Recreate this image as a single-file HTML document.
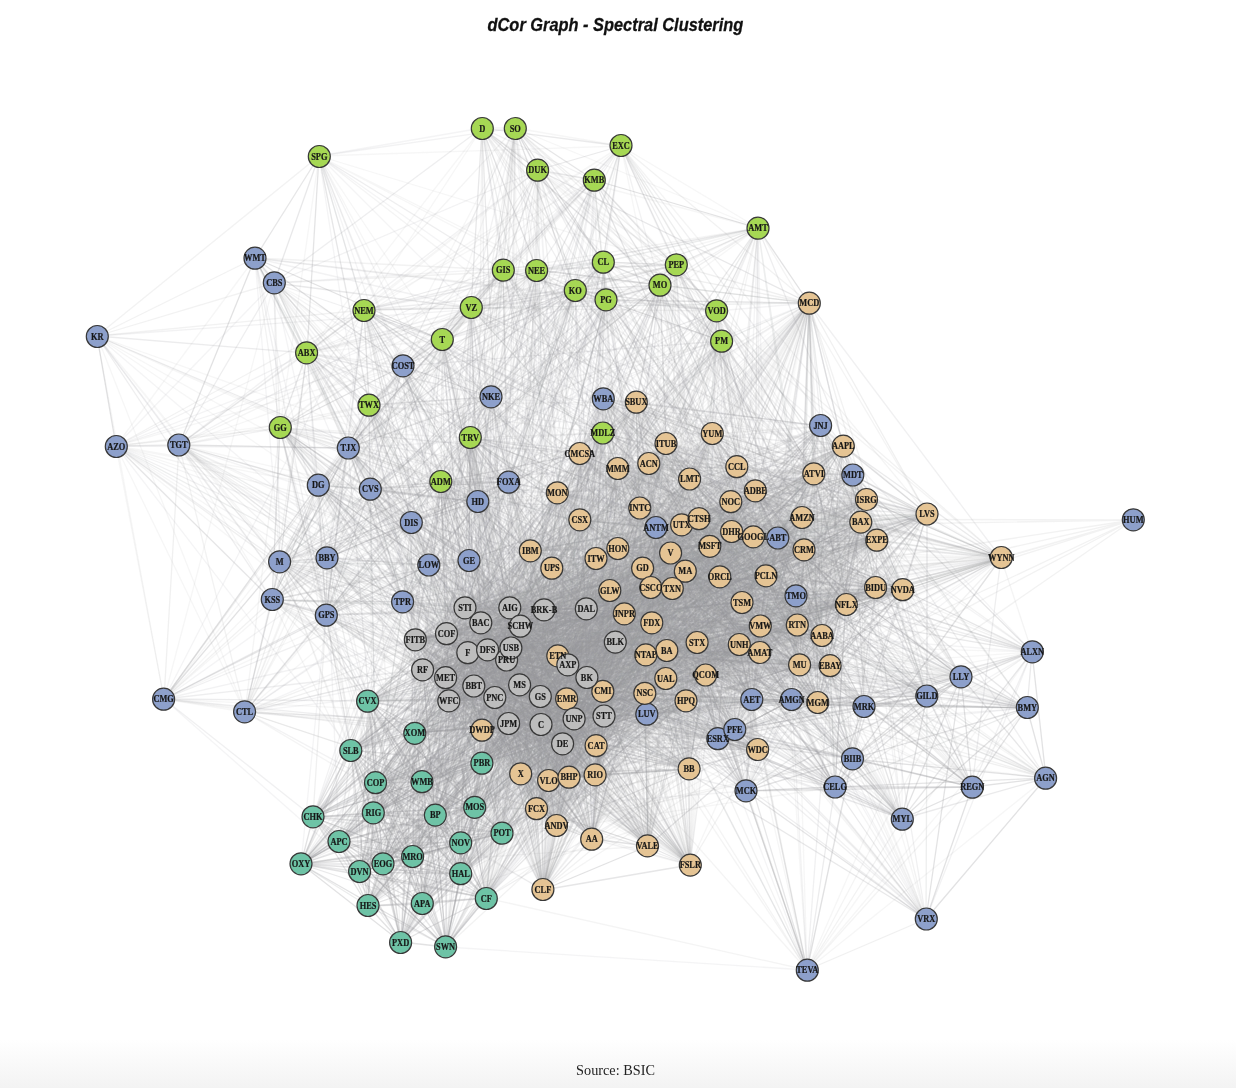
<!DOCTYPE html>
<html><head><meta charset="utf-8"><title>dCor Graph - Spectral Clustering</title>
<style>
html,body{margin:0;padding:0;background:#fff}
body{width:1236px;height:1088px;position:relative;overflow:hidden;background:linear-gradient(to bottom,#fff 0,#fff 1040px,#f3f3f3 1088px)}
h1{position:absolute;left:0;top:13.7px;width:1236px;margin:0;text-align:center;font:italic bold 19px/22px "Liberation Sans",sans-serif;color:#111;-webkit-text-stroke:0.3px #111;transform:translateX(-2.6px) scaleX(0.862)}
.src{position:absolute;left:0;top:1061.9px;width:1236px;text-align:center;font:14.25px/16px "Liberation Serif",serif;color:#222;transform:translateX(-2.5px)}
svg{position:absolute;left:0;top:0}
.e path{fill:none;stroke:#97989b;stroke-width:1.3}
.n circle{stroke:#383838;stroke-width:1.2}
.l text{font:bold 9.3px "Liberation Serif",serif;text-anchor:middle;fill:#161616;stroke:#161616;stroke-width:0.2px}
</style></head><body>
<h1>dCor Graph - Spectral Clustering</h1>
<svg width="1236" height="1088" viewBox="0 0 1236 1088">
<defs><filter id="bl" x="0" y="0" width="1236" height="1088" filterUnits="userSpaceOnUse"><feGaussianBlur stdDeviation="0.45"/></filter></defs>
<g class="e" filter="url(#bl)">
<path d="M809 303L739 644" stroke-opacity="0.04"/>
<path d="M636 402L651 588M636 402L536 809M636 402L690 865M636 402L563 744" stroke-opacity="0.04"/>
<path d="M712 434L866 500M712 434L927 514M712 434L766 576M712 434L697 642M712 434L760 652M712 434L568 665M712 434L474 686" stroke-opacity="0.04"/>
<path d="M666 444L580 454M666 444L530 551M666 444L618 548M666 444L474 686M666 444L495 698M666 444L449 701" stroke-opacity="0.04"/>
<path d="M843 446L682 525M843 446L415 640M843 446L604 716" stroke-opacity="0.04"/>
<path d="M580 454L755 491M580 454L610 590M580 454L666 678" stroke-opacity="0.04"/>
<path d="M649 464L682 525M649 464L710 546M649 464L643 568M649 464L876 588" stroke-opacity="0.04"/>
<path d="M690 479L615 642M690 479L574 719" stroke-opacity="0.04"/>
<path d="M814 474L574 719" stroke-opacity="0.04"/>
<path d="M557 493L685 571M557 493L760 652M557 493L615 642" stroke-opacity="0.04"/>
<path d="M755 491L682 525" stroke-opacity="0.04"/>
<path d="M640 508L465 608M640 508L615 642" stroke-opacity="0.04"/>
<path d="M927 514L567 699M927 514L511 648" stroke-opacity="0.04"/>
<path d="M580 520L465 608M580 520L520 626M580 520L511 648" stroke-opacity="0.04"/>
<path d="M682 525L802 518M682 525L596 558M682 525L742 602" stroke-opacity="0.04"/>
<path d="M699 519L544 610M699 519L449 701M699 519L574 719" stroke-opacity="0.04"/>
<path d="M802 518L720 577M802 518L541 724" stroke-opacity="0.04"/>
<path d="M732 532L846 604M732 532L739 644M732 532L706 675" stroke-opacity="0.04"/>
<path d="M877 540L510 608M877 540L587 678" stroke-opacity="0.04"/>
<path d="M530 551L804 550M530 551L671 553M530 551L544 610M530 551L511 648" stroke-opacity="0.04"/>
<path d="M618 548L652 623M618 548L596 746M618 548L648 846M618 548L474 686M618 548L574 719" stroke-opacity="0.04"/>
<path d="M671 553L686 701M671 553L818 702" stroke-opacity="0.04"/>
<path d="M1001 558L685 571M1001 558L667 650" stroke-opacity="0.04"/>
<path d="M596 558L652 623M596 558L595 775" stroke-opacity="0.04"/>
<path d="M552 568L766 576M552 568L903 590" stroke-opacity="0.04"/>
<path d="M643 568L846 604M643 568L652 623M643 568L646 655" stroke-opacity="0.04"/>
<path d="M685 571L652 623M685 571L423 670" stroke-opacity="0.04"/>
<path d="M720 577L558 656" stroke-opacity="0.04"/>
<path d="M766 576L666 678" stroke-opacity="0.04"/>
<path d="M903 590L540 696" stroke-opacity="0.04"/>
<path d="M651 588L423 670M651 588L563 744" stroke-opacity="0.04"/>
<path d="M672 588L449 701" stroke-opacity="0.04"/>
<path d="M742 602L521 774M742 602L423 670" stroke-opacity="0.04"/>
<path d="M624 614L645 693" stroke-opacity="0.04"/>
<path d="M760 626L507 660" stroke-opacity="0.04"/>
<path d="M797 625L536 809" stroke-opacity="0.04"/>
<path d="M697 642L818 702M697 642L482 730M697 642L446 634M697 642L568 665M697 642L563 744" stroke-opacity="0.04"/>
<path d="M739 644L495 698M739 644L563 744" stroke-opacity="0.04"/>
<path d="M667 650L563 744" stroke-opacity="0.04"/>
<path d="M558 656L423 670" stroke-opacity="0.04"/>
<path d="M646 655L474 686" stroke-opacity="0.04"/>
<path d="M830 666L645 693M830 666L449 701" stroke-opacity="0.04"/>
<path d="M666 678L603 691" stroke-opacity="0.04"/>
<path d="M706 675L541 724" stroke-opacity="0.04"/>
<path d="M645 693L596 746M645 693L569 777M645 693L595 775" stroke-opacity="0.04"/>
<path d="M686 701L543 890M686 701L465 608" stroke-opacity="0.04"/>
<path d="M689 769L648 846M689 769L465 608" stroke-opacity="0.04"/>
<path d="M549 780L474 686" stroke-opacity="0.04"/>
<path d="M690 865L468 653" stroke-opacity="0.04"/>
<path d="M543 890L544 610" stroke-opacity="0.04"/>
<path d="M809 303L666 444M809 303L557 493M809 303L552 568M809 303L624 614M809 303L652 623M809 303L645 693M809 303L510 608M809 303L468 653M809 303L449 701M809 303L509 724" stroke-opacity="0.05"/>
<path d="M636 402L618 468M636 402L690 479M636 402L814 474M636 402L731 502M636 402L877 540M636 402L671 553M636 402L643 568M636 402L903 590M636 402L672 588M636 402L652 623M636 402L558 656M636 402L586 609M636 402L540 696M636 402L541 724" stroke-opacity="0.05"/>
<path d="M712 434L618 468M712 434L814 474M712 434L530 551M712 434L618 548M712 434L624 614M712 434L822 636M712 434L603 691M712 434L536 809M712 434L520 626M712 434L615 642M712 434L604 716" stroke-opacity="0.05"/>
<path d="M666 444L731 502M666 444L596 558M666 444L552 568M666 444L742 602M666 444L760 626M666 444L596 746M666 444L510 608M666 444L520 626M666 444L520 685" stroke-opacity="0.05"/>
<path d="M843 446L737 467M843 446L640 508M843 446L672 588M843 446L481 623M843 446L468 653M843 446L520 685M843 446L540 696M843 446L509 724" stroke-opacity="0.05"/>
<path d="M580 454L737 467M580 454L557 493M580 454L530 551M580 454L552 568M580 454L822 636M580 454L800 665M580 454L569 777M580 454L615 642M580 454L507 660M580 454L449 701" stroke-opacity="0.05"/>
<path d="M649 464L530 551M649 464L739 644M649 464L830 666M649 464L603 691M649 464L567 699M649 464L686 701M649 464L543 890M649 464L423 670" stroke-opacity="0.05"/>
<path d="M618 468L690 479M618 468L927 514M618 468L802 518M618 468L753 537M618 468L567 699M618 468L686 701M618 468L549 780M618 468L586 609M618 468L446 678M618 468L541 724" stroke-opacity="0.05"/>
<path d="M737 467L732 532M737 467L643 568M737 467L846 604M737 467L624 614M737 467L686 701M737 467L543 890M737 467L481 623M737 467L415 640" stroke-opacity="0.05"/>
<path d="M690 479L710 546M690 479L672 588M690 479L624 614M690 479L652 623M690 479L667 650M690 479L558 656M690 479L549 780M690 479L592 839M690 479L543 890M690 479L446 634M690 479L415 640M690 479L468 653M690 479L449 701" stroke-opacity="0.05"/>
<path d="M814 474L802 518M814 474L567 699M814 474L446 678" stroke-opacity="0.05"/>
<path d="M557 493L866 500M557 493L903 590M557 493L672 588M557 493L846 604M557 493L624 614M557 493L739 644M557 493L667 650M557 493L666 678M557 493L567 699M557 493L549 780M557 493L556 826M557 493L446 678M557 493L449 701" stroke-opacity="0.05"/>
<path d="M755 491L603 691M755 491L567 699M755 491L544 610M755 491L474 686M755 491L540 696" stroke-opacity="0.05"/>
<path d="M731 502L624 614M731 502L760 626M731 502L760 652M731 502L645 693M731 502L556 826M731 502L586 609M731 502L415 640M731 502L468 653M731 502L488 650M731 502L568 665" stroke-opacity="0.05"/>
<path d="M866 500L685 571M866 500L667 650M866 500L760 652M866 500L481 623M866 500L415 640M866 500L468 653M866 500L488 650" stroke-opacity="0.05"/>
<path d="M640 508L682 525M640 508L802 518M640 508L876 588M640 508L742 602M640 508L800 665M640 508L567 699M640 508L415 640M640 508L495 698" stroke-opacity="0.05"/>
<path d="M927 514L580 520M927 514L671 553M927 514L507 660M927 514L423 670" stroke-opacity="0.05"/>
<path d="M580 520L903 590M580 520L610 590M580 520L742 602M580 520L624 614M580 520L706 675M580 520L603 691M580 520L686 701M580 520L541 724" stroke-opacity="0.05"/>
<path d="M682 525L530 551M682 525L710 546M682 525L720 577M682 525L651 588M682 525L624 614M682 525L760 626M682 525L822 636M682 525L567 699M682 525L482 730M682 525L465 608M682 525L474 686M682 525L574 719" stroke-opacity="0.05"/>
<path d="M699 519L643 568M699 519L697 642M699 519L567 699M699 519L569 777M699 519L520 626M699 519L446 634M699 519L511 648M699 519L540 696" stroke-opacity="0.05"/>
<path d="M802 518L710 546M802 518L624 614M802 518L758 750M802 518L474 686" stroke-opacity="0.05"/>
<path d="M861 522L530 551M861 522L672 588M861 522L646 655M861 522L567 699M861 522L510 608M861 522L586 609M861 522L604 716" stroke-opacity="0.05"/>
<path d="M732 532L552 568M732 532L610 590M732 532L558 656M732 532L666 678M732 532L446 634M732 532L511 648M732 532L423 670M732 532L520 685M732 532L540 696M732 532L563 744" stroke-opacity="0.05"/>
<path d="M753 537L685 571M753 537L558 656M753 537L686 701M753 537L544 610M753 537L520 626M753 537L468 653M753 537L507 660M753 537L423 670M753 537L520 685M753 537L509 724" stroke-opacity="0.05"/>
<path d="M877 540L685 571M877 540L423 670" stroke-opacity="0.05"/>
<path d="M530 551L766 576M530 551L672 588M530 551L742 602M530 551L697 642M530 551L760 652M530 551L830 666M530 551L818 702M530 551L596 746M530 551L569 777M530 551L592 839M530 551L690 865M530 551L415 640M530 551L568 665" stroke-opacity="0.05"/>
<path d="M618 548L552 568M618 548L720 577M618 548L766 576M618 548L876 588M618 548L624 614M618 548L760 626M618 548L797 625M618 548L667 650M618 548L686 701M618 548L510 608M618 548L520 626M618 548L615 642M618 548L509 724" stroke-opacity="0.05"/>
<path d="M710 546L596 558M710 546L672 588M710 546L830 666M710 546L686 701M710 546L468 653M710 546L488 650M710 546L449 701" stroke-opacity="0.05"/>
<path d="M804 550L552 568M804 550L697 642M804 550L667 650M804 550L686 701M804 550L569 777" stroke-opacity="0.05"/>
<path d="M671 553L685 571M671 553L610 590M671 553L672 588M671 553L697 642M671 553L646 655M671 553L482 730M671 553L543 890" stroke-opacity="0.05"/>
<path d="M1001 558L651 588M1001 558L742 602M1001 558L646 655M1001 558L474 686M1001 558L563 744" stroke-opacity="0.05"/>
<path d="M596 558L903 590M596 558L742 602M596 558L624 614M596 558L645 693M596 558L567 699M596 558L569 777M596 558L586 609M596 558L509 724M596 558L563 744" stroke-opacity="0.05"/>
<path d="M552 568L610 590M552 568L822 636M552 568L697 642M552 568L830 666M552 568L690 865M552 568L544 610M552 568L446 634M552 568L507 660M552 568L423 670" stroke-opacity="0.05"/>
<path d="M643 568L876 588M643 568L903 590M643 568L624 614M643 568L760 626M643 568L666 678M643 568L592 839M643 568L510 608M643 568L520 626M643 568L446 634M643 568L415 640M643 568L520 685M643 568L563 744" stroke-opacity="0.05"/>
<path d="M685 571L720 577M685 571L846 604M685 571L830 666M685 571L569 777M685 571L556 826M685 571L592 839M685 571L690 865M685 571L446 634M685 571L587 678M685 571L540 696M685 571L604 716" stroke-opacity="0.05"/>
<path d="M720 577L651 588M720 577L846 604M720 577L822 636M720 577L686 701M720 577L520 626M720 577L446 634M720 577L541 724M720 577L574 719" stroke-opacity="0.05"/>
<path d="M766 576L651 588M766 576L645 693M766 576L563 744" stroke-opacity="0.05"/>
<path d="M876 588L651 588M876 588L645 693M876 588L586 609M876 588L446 678M876 588L563 744" stroke-opacity="0.05"/>
<path d="M903 590L667 650M903 590L558 656M903 590L468 653M903 590L520 685M903 590L509 724" stroke-opacity="0.05"/>
<path d="M610 590L830 666M610 590L510 608M610 590L615 642M610 590L568 665" stroke-opacity="0.05"/>
<path d="M651 588L760 626M651 588L558 656M651 588L800 665M651 588L536 809M651 588L510 608M651 588L446 634" stroke-opacity="0.05"/>
<path d="M672 588L797 625M672 588L697 642M672 588L667 650M672 588L558 656M672 588L646 655M672 588L830 666M672 588L536 809M672 588L556 826M672 588L510 608M672 588L423 670M672 588L541 724" stroke-opacity="0.05"/>
<path d="M742 602L800 665M742 602L468 653M742 602L449 701" stroke-opacity="0.05"/>
<path d="M846 604L558 656M846 604L423 670M846 604L587 678M846 604L495 698" stroke-opacity="0.05"/>
<path d="M624 614L666 678M624 614L567 699M624 614L595 775M624 614L690 865M624 614L543 890M624 614L544 610M624 614L488 650" stroke-opacity="0.05"/>
<path d="M652 623L697 642M652 623L667 650M652 623L603 691M652 623L567 699M652 623L596 746M652 623L468 653M652 623L423 670M652 623L520 685M652 623L495 698M652 623L540 696M652 623L574 719" stroke-opacity="0.05"/>
<path d="M760 626L481 623M760 626L446 678M760 626L509 724" stroke-opacity="0.05"/>
<path d="M797 625L567 699M797 625L510 608M797 625L520 626M797 625L468 653M797 625L446 678M797 625L449 701M797 625L574 719" stroke-opacity="0.05"/>
<path d="M822 636L666 678M822 636L544 610M822 636L446 678" stroke-opacity="0.05"/>
<path d="M697 642L800 665M697 642L556 826M697 642L690 865M697 642L415 640" stroke-opacity="0.05"/>
<path d="M739 644L558 656M739 644L603 691M739 644L567 699M739 644L596 746M739 644L465 608M739 644L568 665M739 644L587 678M739 644L574 719" stroke-opacity="0.05"/>
<path d="M667 650L646 655M667 650L603 691M667 650L645 693M667 650L567 699M667 650L686 701M667 650L556 826M667 650L465 608M667 650L510 608M667 650L481 623M667 650L415 640M667 650L520 685M667 650L540 696" stroke-opacity="0.05"/>
<path d="M760 652L558 656M760 652L645 693M760 652L465 608" stroke-opacity="0.05"/>
<path d="M558 656L603 691M558 656L567 699M558 656L521 774M558 656L465 608M558 656L544 610M558 656L615 642M558 656L468 653M558 656L563 744" stroke-opacity="0.05"/>
<path d="M646 655L510 608M646 655L615 642M646 655L511 648M646 655L446 678M646 655L520 685" stroke-opacity="0.05"/>
<path d="M800 665L446 678M800 665L574 719" stroke-opacity="0.05"/>
<path d="M830 666L465 608M830 666L488 650" stroke-opacity="0.05"/>
<path d="M666 678L645 693M666 678L818 702M666 678L482 730M666 678L446 678" stroke-opacity="0.05"/>
<path d="M706 675L482 730M706 675L465 608M706 675L481 623M706 675L468 653M706 675L540 696M706 675L449 701M706 675L604 716" stroke-opacity="0.05"/>
<path d="M603 691L521 774M603 691L615 642M603 691L449 701M603 691L574 719" stroke-opacity="0.05"/>
<path d="M645 693L482 730M645 693L521 774M645 693L586 609M645 693L520 626M645 693L415 640M645 693L423 670M645 693L495 698M645 693L604 716" stroke-opacity="0.05"/>
<path d="M567 699L482 730M567 699L595 775M567 699L520 626M567 699L540 696" stroke-opacity="0.05"/>
<path d="M686 701L648 846M686 701L415 640M686 701L446 678M686 701L587 678M686 701L449 701" stroke-opacity="0.05"/>
<path d="M818 702L446 634M818 702L541 724" stroke-opacity="0.05"/>
<path d="M482 730L648 846M482 730L481 623" stroke-opacity="0.05"/>
<path d="M596 746L465 608" stroke-opacity="0.05"/>
<path d="M569 777L481 623" stroke-opacity="0.05"/>
<path d="M595 775L495 698M595 775L449 701" stroke-opacity="0.05"/>
<path d="M556 826L446 634M556 826L568 665" stroke-opacity="0.05"/>
<path d="M592 839L510 608M592 839L520 685" stroke-opacity="0.05"/>
<path d="M690 865L540 696M690 865L449 701" stroke-opacity="0.05"/>
<path d="M543 890L615 642" stroke-opacity="0.05"/>
<path d="M809 303L712 434M809 303L866 500M809 303L640 508M809 303L861 522M809 303L643 568M809 303L720 577M809 303L672 588M809 303L706 675M809 303L603 691M809 303L507 660M809 303L495 698" stroke-opacity="0.06"/>
<path d="M636 402L843 446M636 402L866 500M636 402L640 508M636 402L927 514M636 402L624 614M636 402L697 642M636 402L446 634M636 402L474 686" stroke-opacity="0.06"/>
<path d="M712 434L666 444M712 434L557 493M712 434L802 518M712 434L1001 558M712 434L652 623M712 434L646 655M712 434L706 675M712 434L521 774M712 434L507 660M712 434L449 701M712 434L541 724" stroke-opacity="0.06"/>
<path d="M666 444L649 464M666 444L804 550M666 444L671 553M666 444L1001 558M666 444L766 576M666 444L610 590M666 444L672 588M666 444L822 636M666 444L536 809M666 444L648 846M666 444L568 665M666 444L509 724M666 444L574 719" stroke-opacity="0.06"/>
<path d="M843 446L699 519M843 446L618 548M843 446L552 568M843 446L800 665M843 446L567 699M843 446L488 650M843 446L511 648" stroke-opacity="0.06"/>
<path d="M580 454L640 508M580 454L580 520M580 454L802 518M580 454L753 537M580 454L877 540M580 454L710 546M580 454L671 553M580 454L536 809M580 454L544 610M580 454L468 653M580 454L488 650" stroke-opacity="0.06"/>
<path d="M649 464L846 604" stroke-opacity="0.06"/>
<path d="M618 468L814 474M618 468L682 525M618 468L699 519M618 468L618 548M618 468L1001 558M618 468L903 590M618 468L760 652M618 468L706 675M618 468L556 826M618 468L520 626M618 468L615 642M618 468L520 685" stroke-opacity="0.06"/>
<path d="M737 467L699 519M737 467L861 522M737 467L618 548M737 467L610 590M737 467L672 588M737 467L521 774M737 467L556 826M737 467L423 670M737 467L587 678" stroke-opacity="0.06"/>
<path d="M690 479L814 474M690 479L876 588M690 479L742 602M690 479L739 644M690 479L646 655M690 479L567 699M690 479L521 774M690 479L495 698" stroke-opacity="0.06"/>
<path d="M814 474L557 493M814 474L651 588M814 474L624 614M814 474L652 623M814 474L739 644M814 474L558 656M814 474L800 665M814 474L615 642M814 474L541 724" stroke-opacity="0.06"/>
<path d="M557 493L580 520M557 493L1001 558M557 493L800 665M557 493L521 774M557 493L569 777M557 493L592 839M557 493L468 653M557 493L507 660M557 493L520 685M557 493L563 744" stroke-opacity="0.06"/>
<path d="M755 491L731 502M755 491L640 508M755 491L877 540M755 491L530 551M755 491L671 553M755 491L720 577M755 491L876 588M755 491L615 642M755 491L541 724" stroke-opacity="0.06"/>
<path d="M731 502L580 520M731 502L710 546M731 502L596 558M731 502L903 590M731 502L610 590M731 502L742 602M731 502L818 702M731 502L481 623M731 502L507 660M731 502L449 701M731 502L509 724" stroke-opacity="0.06"/>
<path d="M866 500L699 519M866 500L530 551M866 500L766 576M866 500L697 642M866 500L465 608" stroke-opacity="0.06"/>
<path d="M640 508L861 522M640 508L1001 558M640 508L739 644M640 508L667 650M640 508L556 826M640 508L520 685M640 508L509 724" stroke-opacity="0.06"/>
<path d="M927 514L802 518M927 514L1001 558M927 514L760 626M927 514L465 608M927 514L520 626M927 514L446 678M927 514L495 698" stroke-opacity="0.06"/>
<path d="M580 520L732 532M580 520L1001 558M580 520L552 568M580 520L822 636M580 520L818 702M580 520L595 775M580 520L468 653" stroke-opacity="0.06"/>
<path d="M682 525L732 532M682 525L618 548M682 525L685 571M682 525L558 656M682 525L569 777M682 525L690 865M682 525L510 608M682 525L544 610M682 525L586 609M682 525L415 640M682 525L615 642M682 525L563 744" stroke-opacity="0.06"/>
<path d="M699 519L618 548M699 519L666 678M699 519L482 730M699 519L521 774M699 519L446 678" stroke-opacity="0.06"/>
<path d="M802 518L671 553M802 518L652 623M802 518L697 642M802 518L544 610M802 518L415 640M802 518L568 665M802 518L540 696M802 518L574 719" stroke-opacity="0.06"/>
<path d="M861 522L710 546M861 522L596 558M861 522L541 724M861 522L563 744" stroke-opacity="0.06"/>
<path d="M732 532L877 540M732 532L567 699M732 532L818 702M732 532L596 746M732 532L758 750M732 532L569 777M732 532L648 846M732 532L415 640M732 532L507 660M732 532L446 678" stroke-opacity="0.06"/>
<path d="M753 537L618 548M753 537L610 590M753 537L672 588M753 537L846 604M753 537L667 650M753 537L666 678M753 537L495 698" stroke-opacity="0.06"/>
<path d="M877 540L760 652M877 540L465 608M877 540L586 609M877 540L468 653M877 540L507 660M877 540L541 724M877 540L563 744" stroke-opacity="0.06"/>
<path d="M530 551L846 604M530 551L667 650M530 551L645 693M530 551L689 769M530 551L587 678M530 551L495 698" stroke-opacity="0.06"/>
<path d="M618 548L685 571M618 548L822 636M618 548L739 644M618 548L586 609" stroke-opacity="0.06"/>
<path d="M710 546L846 604M710 546L760 652M710 546L690 865M710 546L465 608M710 546L446 634" stroke-opacity="0.06"/>
<path d="M804 550L742 602M804 550L652 623M804 550L739 644M804 550L603 691M804 550L481 623M804 550L520 685M804 550L563 744" stroke-opacity="0.06"/>
<path d="M671 553L643 568M671 553L720 577M671 553L651 588M671 553L652 623M671 553L567 699M671 553L536 809M671 553L586 609M671 553L587 678M671 553L604 716" stroke-opacity="0.06"/>
<path d="M1001 558L603 691M1001 558L686 701M1001 558L468 653M1001 558L507 660" stroke-opacity="0.06"/>
<path d="M596 558L685 571M596 558L876 588M596 558L760 626M596 558L797 625M596 558L822 636M596 558L760 652M596 558L646 655M596 558L800 665M596 558L830 666M596 558L549 780M596 558L540 696" stroke-opacity="0.06"/>
<path d="M552 568L685 571M552 568L672 588M552 568L624 614M552 568L567 699M552 568L549 780M552 568L586 609" stroke-opacity="0.06"/>
<path d="M643 568L610 590M643 568L603 691M643 568L465 608M643 568L511 648M643 568L423 670M643 568L474 686M643 568L540 696" stroke-opacity="0.06"/>
<path d="M685 571L697 642M685 571L739 644M685 571L465 608" stroke-opacity="0.06"/>
<path d="M720 577L797 625M720 577L536 809M720 577L690 865M720 577L568 665M720 577L449 701" stroke-opacity="0.06"/>
<path d="M766 576L652 623M766 576L521 774" stroke-opacity="0.06"/>
<path d="M876 588L706 675M876 588L468 653M876 588L587 678" stroke-opacity="0.06"/>
<path d="M903 590L610 590M903 590L510 608M903 590L615 642M903 590L488 650M903 590L423 670" stroke-opacity="0.06"/>
<path d="M610 590L690 865M610 590L586 609M610 590L446 678" stroke-opacity="0.06"/>
<path d="M651 588L672 588M651 588L465 608M651 588L544 610M651 588L415 640M651 588L587 678M651 588L495 698" stroke-opacity="0.06"/>
<path d="M672 588L760 626M672 588L739 644M672 588L595 775M672 588L592 839M672 588L446 678M672 588L509 724" stroke-opacity="0.06"/>
<path d="M742 602L615 642M742 602L520 685" stroke-opacity="0.06"/>
<path d="M846 604L652 623M846 604L739 644M846 604L567 699M846 604L686 701M846 604L446 678" stroke-opacity="0.06"/>
<path d="M624 614L689 769M624 614L481 623M624 614L507 660M624 614L511 648" stroke-opacity="0.06"/>
<path d="M652 623L666 678M652 623L446 634M652 623L415 640M652 623L509 724" stroke-opacity="0.06"/>
<path d="M760 626L558 656M760 626L446 634M760 626L568 665M760 626L520 685M760 626L449 701" stroke-opacity="0.06"/>
<path d="M797 625L558 656M797 625L706 675M797 625L603 691M797 625L541 724" stroke-opacity="0.06"/>
<path d="M822 636L558 656M822 636L415 640M822 636L449 701M822 636L541 724" stroke-opacity="0.06"/>
<path d="M697 642L667 650M697 642L603 691M697 642L689 769M697 642L521 774M697 642L592 839" stroke-opacity="0.06"/>
<path d="M739 644L666 678M739 644L758 750M739 644L556 826M739 644L520 626M739 644L423 670" stroke-opacity="0.06"/>
<path d="M667 650L558 656M667 650L482 730M667 650L543 890" stroke-opacity="0.06"/>
<path d="M760 652L520 626M760 652L446 634" stroke-opacity="0.06"/>
<path d="M558 656L830 666M558 656L446 634M558 656L507 660" stroke-opacity="0.06"/>
<path d="M646 655L706 675M646 655L521 774M646 655L481 623M646 655L520 626M646 655L415 640" stroke-opacity="0.06"/>
<path d="M800 665L568 665" stroke-opacity="0.06"/>
<path d="M830 666L758 750M830 666L507 660M830 666L541 724" stroke-opacity="0.06"/>
<path d="M666 678L536 809M666 678L415 640M666 678L423 670M666 678L574 719M666 678L563 744" stroke-opacity="0.06"/>
<path d="M706 675L603 691M706 675L543 890M706 675L415 640M706 675L507 660M706 675L520 685" stroke-opacity="0.06"/>
<path d="M603 691L818 702M603 691L446 634" stroke-opacity="0.06"/>
<path d="M645 693L507 660M645 693L474 686" stroke-opacity="0.06"/>
<path d="M567 699L818 702M567 699L689 769M567 699L592 839M567 699L586 609M567 699L415 640M567 699L488 650" stroke-opacity="0.06"/>
<path d="M686 701L536 809M686 701L541 724M686 701L604 716" stroke-opacity="0.06"/>
<path d="M818 702L510 608M818 702L481 623M818 702L520 685" stroke-opacity="0.06"/>
<path d="M482 730L520 626" stroke-opacity="0.06"/>
<path d="M596 746L495 698" stroke-opacity="0.06"/>
<path d="M758 750L423 670M758 750L520 685" stroke-opacity="0.06"/>
<path d="M689 769L488 650M689 769L423 670" stroke-opacity="0.06"/>
<path d="M521 774L541 724" stroke-opacity="0.06"/>
<path d="M595 775L544 610M595 775L604 716" stroke-opacity="0.06"/>
<path d="M536 809L446 678" stroke-opacity="0.06"/>
<path d="M556 826L574 719" stroke-opacity="0.06"/>
<path d="M592 839L511 648M592 839L495 698" stroke-opacity="0.06"/>
<path d="M648 846L520 626M648 846L520 685" stroke-opacity="0.06"/>
<path d="M690 865L568 665" stroke-opacity="0.06"/>
<path d="M543 890L511 648M543 890L495 698" stroke-opacity="0.06"/>
<path d="M809 303L580 454M809 303L651 588M809 303L558 656M809 303L615 642M809 303L587 678M809 303L540 696" stroke-opacity="0.07"/>
<path d="M636 402L755 491M636 402L846 604M636 402L739 644M636 402L446 678M636 402L587 678M636 402L495 698" stroke-opacity="0.07"/>
<path d="M712 434L843 446M712 434L649 464M712 434L710 546M712 434L685 571M712 434L742 602M712 434L800 665M712 434L595 775M712 434L592 839M712 434L690 865M712 434L510 608" stroke-opacity="0.07"/>
<path d="M666 444L580 520M666 444L699 519M666 444L877 540M666 444L710 546M666 444L903 590M666 444L666 678M666 444L465 608M666 444L586 609M666 444L488 650M666 444L604 716M666 444L563 744" stroke-opacity="0.07"/>
<path d="M843 446L580 454M843 446L755 491M843 446L671 553M843 446L720 577M843 446L876 588M843 446L610 590M843 446L760 626M843 446L822 636M843 446L760 652M843 446L706 675M843 446L686 701M843 446L587 678" stroke-opacity="0.07"/>
<path d="M580 454L690 479M580 454L1001 558M580 454L846 604M580 454L739 644M580 454L549 780M580 454L415 640M580 454L541 724M580 454L604 716" stroke-opacity="0.07"/>
<path d="M649 464L737 467M649 464L866 500M649 464L877 540M649 464L760 626M649 464L706 675M649 464L595 775M649 464L465 608M649 464L586 609M649 464L520 626M649 464L615 642M649 464L446 678M649 464L587 678" stroke-opacity="0.07"/>
<path d="M618 468L731 502M618 468L866 500M618 468L640 508M618 468L596 558M618 468L720 577M618 468L651 588M618 468L558 656M618 468L818 702M618 468L758 750M618 468L543 890M618 468L415 640M618 468L423 670M618 468L540 696" stroke-opacity="0.07"/>
<path d="M737 467L814 474M737 467L640 508M737 467L753 537M737 467L877 540M737 467L652 623M737 467L830 666M737 467L536 809" stroke-opacity="0.07"/>
<path d="M690 479L753 537M690 479L610 590M690 479L846 604M690 479L760 626M690 479L797 625M690 479L689 769M690 479L595 775M690 479L586 609M690 479L511 648M690 479L446 678M690 479L604 716" stroke-opacity="0.07"/>
<path d="M814 474L682 525M814 474L685 571M814 474L610 590M814 474L672 588M814 474L697 642M814 474L481 623M814 474L488 650M814 474L587 678M814 474L474 686M814 474L520 685M814 474L604 716" stroke-opacity="0.07"/>
<path d="M557 493L927 514M557 493L530 551M557 493L760 626M557 493L520 626M557 493L509 724M557 493L541 724" stroke-opacity="0.07"/>
<path d="M755 491L580 520M755 491L552 568M755 491L766 576M755 491L672 588M755 491L797 625M755 491L666 678M755 491L818 702M755 491L586 609M755 491L446 634M755 491L415 640M755 491L423 670M755 491L520 685M755 491L495 698M755 491L449 701" stroke-opacity="0.07"/>
<path d="M731 502L640 508M731 502L802 518M731 502L804 550M731 502L797 625M731 502L739 644M731 502L758 750M731 502L574 719" stroke-opacity="0.07"/>
<path d="M866 500L618 548M866 500L797 625M866 500L603 691M866 500L689 769M866 500L520 626M866 500L568 665M866 500L563 744" stroke-opacity="0.07"/>
<path d="M640 508L580 520M640 508L804 550M640 508L671 553M640 508L766 576M640 508L672 588M640 508L592 839M640 508L586 609M640 508L511 648M640 508L568 665M640 508L423 670M640 508L574 719" stroke-opacity="0.07"/>
<path d="M927 514L618 548M927 514L667 650M927 514L544 610M927 514L481 623M927 514L541 724M927 514L574 719" stroke-opacity="0.07"/>
<path d="M580 520L802 518M580 520L643 568M580 520L876 588M580 520L556 826M580 520L690 865M580 520L510 608M580 520L446 634M580 520L488 650M580 520L423 670M580 520L495 698M580 520L563 744" stroke-opacity="0.07"/>
<path d="M682 525L753 537M682 525L804 550M682 525L1001 558M682 525L800 665M682 525L706 675M682 525L520 626M682 525L511 648M682 525L520 685M682 525L495 698" stroke-opacity="0.07"/>
<path d="M699 519L732 532M699 519L596 558M699 519L672 588M699 519L760 626M699 519L797 625M699 519L739 644M699 519L586 609M699 519L468 653" stroke-opacity="0.07"/>
<path d="M802 518L530 551M802 518L552 568M802 518L610 590M802 518L651 588M802 518L846 604M802 518L686 701M802 518L586 609M802 518L495 698" stroke-opacity="0.07"/>
<path d="M861 522L732 532M861 522L552 568M861 522L758 750M861 522L520 626M861 522L615 642M861 522L474 686M861 522L540 696M861 522L449 701M861 522L509 724" stroke-opacity="0.07"/>
<path d="M732 532L596 558M732 532L672 588M732 532L686 701M732 532L595 775M732 532L510 608" stroke-opacity="0.07"/>
<path d="M753 537L1001 558M753 537L651 588M753 537L742 602M753 537L822 636M753 537L830 666M753 537L415 640" stroke-opacity="0.07"/>
<path d="M877 540L710 546M877 540L903 590M877 540L610 590M877 540L697 642M877 540L645 693M877 540L449 701" stroke-opacity="0.07"/>
<path d="M530 551L596 558M530 551L903 590M530 551L652 623M530 551L556 826M530 551L481 623M530 551L446 634M530 551L449 701" stroke-opacity="0.07"/>
<path d="M618 548L567 699M618 548L446 678" stroke-opacity="0.07"/>
<path d="M710 546L671 553M710 546L643 568M710 546L610 590M710 546L797 625M710 546L822 636M710 546L739 644M710 546L800 665M710 546L521 774M710 546L595 775M710 546L481 623" stroke-opacity="0.07"/>
<path d="M804 550L1001 558M804 550L685 571M804 550L672 588M804 550L666 678M804 550L645 693M804 550L415 640M804 550L511 648M804 550L449 701" stroke-opacity="0.07"/>
<path d="M671 553L742 602M671 553L830 666M671 553L645 693M671 553L521 774M671 553L569 777M671 553L648 846M671 553L468 653M671 553L488 650M671 553L520 685" stroke-opacity="0.07"/>
<path d="M1001 558L596 558M1001 558L672 588M1001 558L830 666M1001 558L567 699M1001 558L604 716" stroke-opacity="0.07"/>
<path d="M596 558L610 590M596 558L651 588M596 558L603 691M596 558L818 702M596 558L481 623" stroke-opacity="0.07"/>
<path d="M552 568L742 602M552 568L758 750M552 568L465 608M552 568L446 678M552 568L587 678M552 568L520 685M552 568L509 724" stroke-opacity="0.07"/>
<path d="M643 568L482 730M643 568L648 846M643 568L544 610M643 568L615 642M643 568L468 653M643 568L507 660M643 568L568 665" stroke-opacity="0.07"/>
<path d="M685 571L667 650M685 571L706 675M685 571L510 608M685 571L481 623M685 571L615 642M685 571L468 653" stroke-opacity="0.07"/>
<path d="M720 577L876 588M720 577L760 626M720 577L739 644M720 577L645 693M720 577L567 699M720 577L818 702M720 577L758 750M720 577L569 777M720 577L592 839M720 577L415 640M720 577L488 650M720 577L423 670" stroke-opacity="0.07"/>
<path d="M766 576L624 614M766 576L822 636M766 576L446 634M766 576L423 670" stroke-opacity="0.07"/>
<path d="M876 588L822 636M876 588L760 652M876 588L800 665M876 588L510 608M876 588L449 701" stroke-opacity="0.07"/>
<path d="M903 590L651 588M903 590L652 623M903 590L465 608M903 590L586 609M903 590L507 660M903 590L449 701M903 590L541 724" stroke-opacity="0.07"/>
<path d="M610 590L651 588M610 590L846 604M610 590L666 678M610 590L549 780M610 590L468 653M610 590L520 685" stroke-opacity="0.07"/>
<path d="M651 588L742 602M651 588L624 614M651 588L652 623M651 588L667 650M651 588L567 699M651 588L818 702M651 588L521 774M651 588L569 777M651 588L648 846M651 588L574 719" stroke-opacity="0.07"/>
<path d="M672 588L624 614M672 588L760 652M672 588L482 730M672 588L540 696" stroke-opacity="0.07"/>
<path d="M742 602L797 625M742 602L697 642M742 602L481 623" stroke-opacity="0.07"/>
<path d="M846 604L646 655M846 604L645 693M846 604L586 609M846 604L415 640M846 604L604 716" stroke-opacity="0.07"/>
<path d="M624 614L615 642M624 614L423 670M624 614L446 678M624 614L474 686" stroke-opacity="0.07"/>
<path d="M652 623L797 625M652 623L556 826M652 623L648 846" stroke-opacity="0.07"/>
<path d="M760 626L667 650M760 626L646 655" stroke-opacity="0.07"/>
<path d="M797 625L415 640M797 625L568 665M797 625L520 685M797 625L509 724" stroke-opacity="0.07"/>
<path d="M822 636L760 652M822 636L446 634M822 636L495 698M822 636L563 744" stroke-opacity="0.07"/>
<path d="M697 642L739 644M697 642L549 780M697 642L543 890M697 642L474 686M697 642L604 716" stroke-opacity="0.07"/>
<path d="M739 644L760 652M739 644L586 609M739 644L415 640M739 644L511 648" stroke-opacity="0.07"/>
<path d="M667 650L596 746M667 650L507 660M667 650L604 716" stroke-opacity="0.07"/>
<path d="M760 652L706 675M760 652L567 699" stroke-opacity="0.07"/>
<path d="M558 656L686 701M558 656L569 777M558 656L595 775M558 656L536 809M558 656L690 865M558 656L543 890M558 656L488 650" stroke-opacity="0.07"/>
<path d="M646 655L666 678M646 655L648 846M646 655L488 650M646 655L540 696" stroke-opacity="0.07"/>
<path d="M800 665L567 699M800 665L415 640" stroke-opacity="0.07"/>
<path d="M830 666L603 691M830 666L415 640M830 666L495 698M830 666L604 716" stroke-opacity="0.07"/>
<path d="M666 678L592 839M666 678L465 608M666 678L446 634" stroke-opacity="0.07"/>
<path d="M706 675L586 609M706 675L446 678" stroke-opacity="0.07"/>
<path d="M603 691L465 608" stroke-opacity="0.07"/>
<path d="M645 693L592 839M645 693L543 890M645 693L446 634M645 693L446 678M645 693L520 685M645 693L541 724M645 693L574 719" stroke-opacity="0.07"/>
<path d="M567 699L481 623M567 699L563 744" stroke-opacity="0.07"/>
<path d="M686 701L510 608M686 701L481 623M686 701L511 648M686 701L495 698" stroke-opacity="0.07"/>
<path d="M818 702L511 648M818 702L540 696" stroke-opacity="0.07"/>
<path d="M596 746L415 640" stroke-opacity="0.07"/>
<path d="M758 750L556 826" stroke-opacity="0.07"/>
<path d="M689 769L511 648M689 769L568 665" stroke-opacity="0.07"/>
<path d="M521 774L648 846M521 774L520 685" stroke-opacity="0.07"/>
<path d="M549 780L568 665" stroke-opacity="0.07"/>
<path d="M536 809L423 670" stroke-opacity="0.07"/>
<path d="M556 826L511 648" stroke-opacity="0.07"/>
<path d="M592 839L507 660M592 839L449 701" stroke-opacity="0.07"/>
<path d="M690 865L446 678M690 865L563 744" stroke-opacity="0.07"/>
<path d="M809 303L682 525M809 303L732 532M809 303L671 553M809 303L596 558M809 303L742 602M809 303L697 642M809 303L800 665M809 303L666 678M809 303L446 634M809 303L423 670" stroke-opacity="0.08"/>
<path d="M636 402L552 568M636 402L521 774M636 402L468 653M636 402L520 685" stroke-opacity="0.08"/>
<path d="M712 434L830 666M712 434L645 693M712 434L596 746M712 434L586 609M712 434L509 724" stroke-opacity="0.08"/>
<path d="M666 444L737 467M666 444L755 491M666 444L685 571M666 444L603 691M666 444L423 670" stroke-opacity="0.08"/>
<path d="M843 446L618 468M843 446L731 502M843 446L710 546M843 446L558 656M843 446L474 686M843 446L541 724M843 446L563 744" stroke-opacity="0.08"/>
<path d="M580 454L861 522M580 454L766 576M580 454L603 691M580 454L556 826M580 454L587 678M580 454L495 698" stroke-opacity="0.08"/>
<path d="M649 464L731 502M649 464L596 558M649 464L521 774M649 464L549 780M649 464L536 809M649 464L690 865M649 464L520 685M649 464L449 701" stroke-opacity="0.08"/>
<path d="M618 468L876 588M618 468L652 623M618 468L760 626M618 468L596 746M618 468L510 608M618 468L544 610M618 468L511 648M618 468L495 698" stroke-opacity="0.08"/>
<path d="M737 467L557 493M737 467L671 553M737 467L569 777M737 467L595 775M737 467L586 609M737 467L563 744" stroke-opacity="0.08"/>
<path d="M690 479L640 508M690 479L861 522M690 479L800 665M690 479L666 678M690 479L818 702M690 479L482 730M690 479L690 865M690 479L474 686" stroke-opacity="0.08"/>
<path d="M814 474L731 502M814 474L580 520M814 474L618 548M814 474L603 691M814 474L446 634M814 474L507 660M814 474L423 670M814 474L495 698" stroke-opacity="0.08"/>
<path d="M557 493L552 568M557 493L766 576M557 493L822 636M557 493L830 666M557 493L758 750M557 493L446 634M557 493L587 678" stroke-opacity="0.08"/>
<path d="M755 491L624 614M755 491L739 644M755 491L510 608M755 491L488 650M755 491L507 660M755 491L587 678" stroke-opacity="0.08"/>
<path d="M731 502L530 551M731 502L618 548M731 502L876 588M731 502L558 656M731 502L595 775M731 502L536 809M731 502L465 608M731 502L544 610M731 502L615 642M731 502L511 648" stroke-opacity="0.08"/>
<path d="M866 500L640 508M866 500L646 655M866 500L567 699M866 500L510 608M866 500L586 609M866 500L446 634M866 500L423 670M866 500L446 678M866 500L520 685" stroke-opacity="0.08"/>
<path d="M640 508L877 540M640 508L552 568M640 508L651 588M640 508L822 636M640 508L468 653M640 508L488 650M640 508L507 660M640 508L541 724" stroke-opacity="0.08"/>
<path d="M927 514L699 519M927 514L732 532M927 514L651 588M927 514L742 602M927 514L558 656M927 514L800 665M927 514L830 666M927 514L604 716" stroke-opacity="0.08"/>
<path d="M580 520L766 576M580 520L758 750M580 520L586 609M580 520L507 660M580 520L568 665M580 520L446 678" stroke-opacity="0.08"/>
<path d="M682 525L603 691M682 525L549 780M682 525L592 839M682 525L648 846M682 525L446 634M682 525L568 665M682 525L587 678" stroke-opacity="0.08"/>
<path d="M699 519L802 518M699 519L804 550M699 519L671 553M699 519L552 568M699 519L667 650M699 519L818 702M699 519L596 746M699 519L549 780M699 519L481 623M699 519L415 640" stroke-opacity="0.08"/>
<path d="M802 518L1001 558M802 518L643 568M802 518L510 608M802 518L468 653M802 518L511 648" stroke-opacity="0.08"/>
<path d="M861 522L671 553M861 522L558 656M861 522L645 693M861 522L468 653M861 522L520 685" stroke-opacity="0.08"/>
<path d="M732 532L671 553M732 532L760 626M732 532L541 724" stroke-opacity="0.08"/>
<path d="M753 537L877 540M753 537L804 550M753 537L903 590M753 537L624 614M753 537L760 652M753 537L481 623M753 537L474 686" stroke-opacity="0.08"/>
<path d="M877 540L530 551M877 540L651 588M877 540L672 588M877 540L739 644M877 540L540 696" stroke-opacity="0.08"/>
<path d="M530 551L624 614M530 551L797 625M530 551L543 890M530 551L520 626M530 551L563 744" stroke-opacity="0.08"/>
<path d="M618 548L710 546M618 548L758 750M618 548L536 809M618 548L507 660" stroke-opacity="0.08"/>
<path d="M710 546L804 550M710 546L766 576M710 546L697 642M710 546L596 746M710 546L495 698" stroke-opacity="0.08"/>
<path d="M804 550L423 670M804 550L604 716" stroke-opacity="0.08"/>
<path d="M671 553L760 652M671 553L603 691M671 553L689 769M671 553L540 696M671 553L449 701M671 553L574 719" stroke-opacity="0.08"/>
<path d="M1001 558L610 590M1001 558L510 608M1001 558L544 610M1001 558L481 623M1001 558L509 724" stroke-opacity="0.08"/>
<path d="M596 558L766 576M596 558L686 701M596 558L568 665M596 558L474 686" stroke-opacity="0.08"/>
<path d="M552 568L488 650" stroke-opacity="0.08"/>
<path d="M643 568L766 576M643 568L760 652M643 568L706 675M643 568L549 780M643 568L604 716" stroke-opacity="0.08"/>
<path d="M685 571L595 775M685 571L415 640" stroke-opacity="0.08"/>
<path d="M720 577L610 590M720 577L830 666M720 577L689 769M720 577L507 660" stroke-opacity="0.08"/>
<path d="M766 576L686 701M766 576L415 640M766 576L468 653M766 576L449 701" stroke-opacity="0.08"/>
<path d="M876 588L558 656M876 588L465 608M876 588L507 660M876 588L520 685M876 588L540 696" stroke-opacity="0.08"/>
<path d="M903 590L446 678" stroke-opacity="0.08"/>
<path d="M610 590L742 602M610 590L624 614M610 590L760 626M610 590L706 675M610 590L603 691M610 590L556 826M610 590L648 846M610 590L415 640M610 590L541 724" stroke-opacity="0.08"/>
<path d="M651 588L797 625M651 588L760 652M651 588L690 865M651 588L488 650M651 588L446 678M651 588L474 686M651 588L604 716" stroke-opacity="0.08"/>
<path d="M672 588L686 701M672 588L549 780M672 588L511 648M672 588L574 719" stroke-opacity="0.08"/>
<path d="M742 602L667 650M742 602L510 608M742 602L488 650M742 602L446 678" stroke-opacity="0.08"/>
<path d="M846 604L544 610" stroke-opacity="0.08"/>
<path d="M624 614L739 644M624 614L760 652M624 614L646 655M624 614L686 701M624 614L521 774M624 614L520 626" stroke-opacity="0.08"/>
<path d="M652 623L645 693M652 623L595 775M652 623L543 890M652 623L544 610M652 623L507 660" stroke-opacity="0.08"/>
<path d="M760 626L666 678M760 626L645 693M760 626L544 610M760 626L520 626M760 626L511 648" stroke-opacity="0.08"/>
<path d="M797 625L507 660M797 625L511 648M797 625L563 744" stroke-opacity="0.08"/>
<path d="M822 636L697 642M822 636L686 701M822 636L481 623M822 636L511 648M822 636L520 685M822 636L509 724" stroke-opacity="0.08"/>
<path d="M697 642L758 750M697 642L536 809M697 642L488 650M697 642L507 660" stroke-opacity="0.08"/>
<path d="M739 644L830 666M739 644L482 730M739 644L549 780M739 644L544 610M739 644L468 653" stroke-opacity="0.08"/>
<path d="M667 650L666 678M667 650L818 702M667 650L568 665" stroke-opacity="0.08"/>
<path d="M760 652L646 655M760 652L423 670M760 652L587 678M760 652L541 724" stroke-opacity="0.08"/>
<path d="M558 656L549 780M558 656L592 839M558 656L415 640M558 656L540 696M558 656L541 724" stroke-opacity="0.08"/>
<path d="M646 655L536 809M646 655L690 865M646 655L495 698M646 655L449 701" stroke-opacity="0.08"/>
<path d="M800 665L446 634" stroke-opacity="0.08"/>
<path d="M666 678L596 746M666 678L758 750M666 678L544 610M666 678L474 686" stroke-opacity="0.08"/>
<path d="M706 675L758 750M706 675L569 777M706 675L690 865M706 675L544 610M706 675L511 648" stroke-opacity="0.08"/>
<path d="M603 691L510 608M603 691L446 678M603 691L604 716" stroke-opacity="0.08"/>
<path d="M645 693L689 769M645 693L690 865" stroke-opacity="0.08"/>
<path d="M567 699L690 865M567 699L509 724" stroke-opacity="0.08"/>
<path d="M686 701L818 702M686 701L690 865" stroke-opacity="0.08"/>
<path d="M818 702L586 609M818 702L415 640M818 702L474 686M818 702L495 698M818 702L509 724" stroke-opacity="0.08"/>
<path d="M482 730L536 809M482 730L510 608M482 730L587 678" stroke-opacity="0.08"/>
<path d="M596 746L544 610" stroke-opacity="0.08"/>
<path d="M758 750L574 719" stroke-opacity="0.08"/>
<path d="M689 769L536 809M689 769L520 626M689 769L495 698M689 769L449 701" stroke-opacity="0.08"/>
<path d="M521 774L449 701" stroke-opacity="0.08"/>
<path d="M549 780L511 648" stroke-opacity="0.08"/>
<path d="M569 777L592 839M569 777L690 865" stroke-opacity="0.08"/>
<path d="M595 775L586 609" stroke-opacity="0.08"/>
<path d="M556 826L648 846M556 826L468 653M556 826L507 660M556 826L449 701M556 826L604 716" stroke-opacity="0.08"/>
<path d="M592 839L520 626M592 839L474 686" stroke-opacity="0.08"/>
<path d="M648 846L446 678M648 846L509 724" stroke-opacity="0.08"/>
<path d="M690 865L446 634" stroke-opacity="0.08"/>
<path d="M543 890L586 609" stroke-opacity="0.08"/>
<path d="M319 156L621 146M319 156L676 265M319 156L537 270M319 156L606 300M319 156L442 340M319 156L369 405M319 156L280 428M319 156L470 438" stroke-opacity="0.09"/>
<path d="M482 128L515 128M482 128L603 262M482 128L676 265M482 128L364 310M482 128L722 341M482 128L307 353" stroke-opacity="0.09"/>
<path d="M515 128L621 146M515 128L758 228M515 128L442 340M515 128L722 341M515 128L369 405M515 128L520 626M515 128L446 678M515 128L475 807" stroke-opacity="0.09"/>
<path d="M621 146L758 228M621 146L364 310M621 146L307 353M621 146L280 428M621 146L690 479" stroke-opacity="0.09"/>
<path d="M538 170L758 228M538 170L660 285M538 170L717 311M538 170L364 310M538 170L722 341M538 170L307 353M538 170L510 608" stroke-opacity="0.09"/>
<path d="M594 180L676 265M594 180L503 270M594 180L364 310M594 180L722 341M594 180L280 428" stroke-opacity="0.09"/>
<path d="M758 228L471 308M758 228L470 438" stroke-opacity="0.09"/>
<path d="M603 262L722 341M603 262L618 468M603 262L760 652" stroke-opacity="0.09"/>
<path d="M676 265L307 353M676 265L470 438M676 265L649 464M676 265L685 571" stroke-opacity="0.09"/>
<path d="M503 270L717 311M503 270L164 699" stroke-opacity="0.09"/>
<path d="M537 270L280 428M537 270L441 482M537 270L491 397M537 270L403 602M537 270L326 615M537 270L753 537M537 270L800 665" stroke-opacity="0.09"/>
<path d="M660 285L307 353M660 285L603 433M660 285L720 577" stroke-opacity="0.09"/>
<path d="M575 290L307 353M575 290L478 502M575 290L449 701" stroke-opacity="0.09"/>
<path d="M606 300L364 310M606 300L722 341M606 300L800 665" stroke-opacity="0.09"/>
<path d="M471 308L603 433M471 308L557 493M471 308L927 514M471 308L877 540M471 308L481 623M471 308L511 648" stroke-opacity="0.09"/>
<path d="M717 311L722 341M717 311L643 568" stroke-opacity="0.09"/>
<path d="M364 310L280 428M364 310L530 551M364 310L509 724" stroke-opacity="0.09"/>
<path d="M442 340L307 353" stroke-opacity="0.09"/>
<path d="M722 341L348 448M722 341L446 634" stroke-opacity="0.09"/>
<path d="M307 353L488 650" stroke-opacity="0.09"/>
<path d="M369 405L544 610M369 405L373 813M369 405L435 815" stroke-opacity="0.09"/>
<path d="M280 428L737 467M280 428L580 520M280 428L742 602M280 428L449 701M280 428L422 782M280 428L383 864" stroke-opacity="0.09"/>
<path d="M470 438L699 519" stroke-opacity="0.09"/>
<path d="M603 433L618 468M603 433L876 588M603 433L624 614M603 433L760 652" stroke-opacity="0.09"/>
<path d="M441 482L618 468M441 482L737 467M441 482L557 493M441 482L697 642M441 482L482 763M441 482L461 843" stroke-opacity="0.09"/>
<path d="M255 258L116 446M255 258L478 502" stroke-opacity="0.09"/>
<path d="M274 283L491 397M274 283L348 448M274 283L509 482M274 283L469 560M274 283L164 699" stroke-opacity="0.09"/>
<path d="M97 336L348 448M97 336L318 485M97 336L370 489M97 336L509 482M97 336L478 502M97 336L280 562M97 336L326 615M97 336L164 699M97 336L245 712" stroke-opacity="0.09"/>
<path d="M403 366L116 446M403 366L179 445M403 366L348 448M403 366L429 565M403 366L245 712M403 366L482 730" stroke-opacity="0.09"/>
<path d="M491 397L116 446" stroke-opacity="0.09"/>
<path d="M603 399L746 791M603 399L753 537M603 399L671 553" stroke-opacity="0.09"/>
<path d="M821 426L814 474" stroke-opacity="0.09"/>
<path d="M116 446L318 485M116 446L370 489M116 446L469 560M116 446L326 615M116 446L164 699M116 446L245 712M116 446L415 640" stroke-opacity="0.09"/>
<path d="M179 445L370 489M179 445L429 565M179 445L272 600M179 445L468 653" stroke-opacity="0.09"/>
<path d="M348 448L245 712M348 448L568 665M348 448L423 670M348 448L520 685M348 448L383 864" stroke-opacity="0.09"/>
<path d="M853 475L792 700M853 475L972 787M853 475L797 625" stroke-opacity="0.09"/>
<path d="M318 485L509 482M318 485L610 590" stroke-opacity="0.09"/>
<path d="M370 489L164 699M370 489L245 712M370 489L640 508M370 489L482 730M370 489L595 775" stroke-opacity="0.09"/>
<path d="M509 482L326 615M509 482L245 712M509 482L521 774" stroke-opacity="0.09"/>
<path d="M478 502L468 653M478 502L511 648M478 502L541 724" stroke-opacity="0.09"/>
<path d="M411 522L280 562M411 522L245 712M411 522L636 402M411 522L543 890" stroke-opacity="0.09"/>
<path d="M656 528L1046 778M656 528L807 970M656 528L615 642M656 528L422 782" stroke-opacity="0.09"/>
<path d="M778 538L746 791M778 538L926 919M778 538L807 970M778 538L580 520M778 538L818 702" stroke-opacity="0.09"/>
<path d="M280 562L351 750" stroke-opacity="0.09"/>
<path d="M327 558L164 699" stroke-opacity="0.09"/>
<path d="M429 565L272 600" stroke-opacity="0.09"/>
<path d="M469 560L164 699M469 560L710 546M469 560L552 568M469 560L624 614M469 560L595 775M469 560L587 678" stroke-opacity="0.09"/>
<path d="M272 600L465 608" stroke-opacity="0.09"/>
<path d="M403 602L610 590M403 602L645 693M403 602L556 826M403 602L586 609M403 602L488 650M403 602L520 685M403 602L563 744" stroke-opacity="0.09"/>
<path d="M326 615L376 783" stroke-opacity="0.09"/>
<path d="M796 596L1046 778M796 596L926 919M796 596L807 970M796 596L540 696" stroke-opacity="0.09"/>
<path d="M1032 652L752 700M1032 652L718 739M1032 652L807 970M1032 652L739 644M1032 652L706 675" stroke-opacity="0.09"/>
<path d="M961 677L666 444M961 677L697 642" stroke-opacity="0.09"/>
<path d="M927 696L746 791M927 696L807 970" stroke-opacity="0.09"/>
<path d="M164 699L245 712M164 699L574 719M164 699L563 744" stroke-opacity="0.09"/>
<path d="M245 712L536 809" stroke-opacity="0.09"/>
<path d="M792 700L732 532M792 700L624 614" stroke-opacity="0.09"/>
<path d="M864 706L926 919M864 706L807 970" stroke-opacity="0.09"/>
<path d="M1027 708L807 970M1027 708L797 625" stroke-opacity="0.09"/>
<path d="M647 714L802 518M647 714L461 874" stroke-opacity="0.09"/>
<path d="M718 739L1046 778M718 739L755 491M718 739L866 500M718 739L877 540M718 739L876 588M718 739L800 665" stroke-opacity="0.09"/>
<path d="M735 730L760 626" stroke-opacity="0.09"/>
<path d="M852 759L690 479M852 759L667 650" stroke-opacity="0.09"/>
<path d="M1046 778L746 791M1046 778L807 970M1046 778L739 644" stroke-opacity="0.09"/>
<path d="M746 791L596 558" stroke-opacity="0.09"/>
<path d="M835 787L737 467M835 787L667 650M835 787L666 678M835 787L495 698M835 787L461 843" stroke-opacity="0.09"/>
<path d="M972 787L652 623" stroke-opacity="0.09"/>
<path d="M926 919L712 434" stroke-opacity="0.09"/>
<path d="M807 970L710 546" stroke-opacity="0.09"/>
<path d="M809 303L690 479M809 303L699 519M809 303L877 540M809 303L474 686" stroke-opacity="0.09"/>
<path d="M636 402L666 444M636 402L818 702M636 402L596 746M636 402L592 839M636 402L568 665M636 402L604 716" stroke-opacity="0.09"/>
<path d="M712 434L755 491M712 434L753 537M712 434L876 588M712 434L651 588M712 434L846 604M712 434L760 626M712 434L648 846M712 434L465 608M712 434L481 623M712 434L423 670M712 434L495 698M712 434L574 719" stroke-opacity="0.09"/>
<path d="M666 444L732 532M666 444L876 588M666 444L846 604M666 444L689 769M666 444L521 774M666 444L549 780" stroke-opacity="0.09"/>
<path d="M843 446L557 493M843 446L903 590M843 446L742 602M843 446L645 693M843 446L510 608M843 446L568 665M843 446L574 719" stroke-opacity="0.09"/>
<path d="M580 454L720 577M580 454L876 588M580 454L760 626M580 454L797 625M580 454L646 655M580 454L596 746M580 454L690 865M580 454L510 608M580 454L446 678" stroke-opacity="0.09"/>
<path d="M649 464L927 514M649 464L552 568M649 464L800 665M649 464L758 750M649 464L510 608M649 464L495 698M649 464L541 724M649 464L563 744" stroke-opacity="0.09"/>
<path d="M618 468L755 491M618 468L732 532M618 468L766 576M618 468L742 602M618 468L689 769M618 468L521 774M618 468L563 744M618 468L383 864" stroke-opacity="0.09"/>
<path d="M737 467L766 576M737 467L818 702M737 467L604 716" stroke-opacity="0.09"/>
<path d="M690 479L802 518M690 479L822 636M690 479L760 652M690 479L556 826M690 479L520 626M690 479L376 783" stroke-opacity="0.09"/>
<path d="M814 474L643 568M814 474L666 678M814 474L645 693" stroke-opacity="0.09"/>
<path d="M557 493L543 890M557 493L415 640M557 493L511 648" stroke-opacity="0.09"/>
<path d="M755 491L596 558M755 491L697 642M755 491L667 650M755 491L481 623M755 491L520 626" stroke-opacity="0.09"/>
<path d="M731 502L651 588M731 502L520 626M731 502L474 686M731 502L540 696" stroke-opacity="0.09"/>
<path d="M866 500L877 540M866 500L710 546M866 500L596 558M866 500L552 568M866 500L720 577M866 500L666 678M866 500L544 610M866 500L495 698M866 500L509 724" stroke-opacity="0.09"/>
<path d="M640 508L699 519M640 508L686 701M640 508L758 750M640 508L536 809M640 508L543 890M640 508L449 701" stroke-opacity="0.09"/>
<path d="M927 514L861 522M927 514L530 551M927 514L610 590M927 514L706 675M927 514L686 701M927 514L415 640M927 514L615 642M927 514L474 686M927 514L540 696" stroke-opacity="0.09"/>
<path d="M580 520L587 678M580 520L520 685M580 520L540 696M580 520L413 856" stroke-opacity="0.09"/>
<path d="M682 525L556 826M682 525L509 724M682 525L502 833" stroke-opacity="0.09"/>
<path d="M699 519L760 652M699 519L800 665M699 519L830 666M699 519L648 846M699 519L690 865M699 519L543 890M699 519L563 744M699 519L482 763" stroke-opacity="0.09"/>
<path d="M802 518L596 558M802 518L800 665M802 518L666 678M802 518L449 701M802 518L509 724" stroke-opacity="0.09"/>
<path d="M861 522L753 537M861 522L739 644M861 522L488 650M861 522L574 719" stroke-opacity="0.09"/>
<path d="M732 532L766 576M732 532L876 588M732 532L903 590M732 532L800 665M732 532L465 608M732 532L520 626" stroke-opacity="0.09"/>
<path d="M753 537L710 546M753 537L671 553M753 537L720 577M753 537L766 576M753 537L706 675M753 537L567 699" stroke-opacity="0.09"/>
<path d="M877 540L846 604M877 540L646 655M877 540L446 678M877 540L474 686M877 540L495 698M877 540L574 719" stroke-opacity="0.09"/>
<path d="M530 551L618 548M530 551L549 780M530 551L488 650M530 551L446 678" stroke-opacity="0.09"/>
<path d="M618 548L903 590M618 548L742 602M618 548L544 610M618 548L415 640M618 548L468 653M618 548L339 842M618 548L461 874" stroke-opacity="0.09"/>
<path d="M710 546L603 691M710 546L475 807" stroke-opacity="0.09"/>
<path d="M804 550L643 568M804 550L706 675M804 550L507 660M804 550L541 724" stroke-opacity="0.09"/>
<path d="M671 553L1001 558M671 553L556 826M671 553L690 865" stroke-opacity="0.09"/>
<path d="M1001 558L643 568M1001 558L846 604M1001 558L797 625M1001 558L697 642M1001 558L568 665" stroke-opacity="0.09"/>
<path d="M596 558L667 650M596 558L758 750M596 558L510 608M596 558L615 642M596 558L507 660M596 558L511 648M596 558L446 678M596 558L368 906" stroke-opacity="0.09"/>
<path d="M552 568L596 746M552 568L569 777M552 568L595 775M552 568L468 653" stroke-opacity="0.09"/>
<path d="M643 568L830 666M643 568L818 702M643 568L509 724M643 568L301 864" stroke-opacity="0.09"/>
<path d="M685 571L482 730M685 571L521 774M685 571L648 846M685 571L586 609M685 571L520 626M685 571L488 650M685 571L368 701M685 571L422 904" stroke-opacity="0.09"/>
<path d="M720 577L760 652M720 577L549 780M720 577L510 608M720 577L468 653M720 577L509 724" stroke-opacity="0.09"/>
<path d="M766 576L495 698M766 576L509 724" stroke-opacity="0.09"/>
<path d="M876 588L652 623M876 588L603 691M876 588L615 642M876 588L568 665" stroke-opacity="0.09"/>
<path d="M903 590L645 693M903 590L604 716" stroke-opacity="0.09"/>
<path d="M610 590L797 625M610 590L739 644M610 590L558 656M610 590L567 699M610 590L465 608M610 590L481 623M610 590L587 678" stroke-opacity="0.09"/>
<path d="M651 588L666 678M651 588L543 890M651 588L507 660M651 588L511 648M651 588L520 685M651 588L435 815M651 588L446 947" stroke-opacity="0.09"/>
<path d="M672 588L652 623M672 588L465 608M672 588L544 610M672 588L495 698M672 588L604 716" stroke-opacity="0.09"/>
<path d="M742 602L652 623M742 602L567 699M742 602L507 660M742 602L509 724" stroke-opacity="0.09"/>
<path d="M846 604L760 652M846 604L481 623M846 604L468 653" stroke-opacity="0.09"/>
<path d="M624 614L558 656M624 614L596 746M624 614L536 809M624 614L446 634M624 614L520 685" stroke-opacity="0.09"/>
<path d="M652 623L558 656M652 623L830 666M652 623L549 780M652 623L690 865M652 623L520 626M652 623L541 724M652 623L475 807" stroke-opacity="0.09"/>
<path d="M760 626L739 644M760 626L615 642M760 626L574 719" stroke-opacity="0.09"/>
<path d="M797 625L666 678M797 625L690 865M797 625L615 642M797 625L423 670M797 625L587 678" stroke-opacity="0.09"/>
<path d="M822 636L574 719M822 636L604 716" stroke-opacity="0.09"/>
<path d="M697 642L830 666M697 642L540 696M697 642L509 724" stroke-opacity="0.09"/>
<path d="M739 644L646 655M739 644L800 665M739 644L818 702M739 644L446 678" stroke-opacity="0.09"/>
<path d="M667 650L549 780M667 650L592 839M667 650L648 846M667 650L446 678M667 650L574 719" stroke-opacity="0.09"/>
<path d="M760 652L666 678M760 652L481 623M760 652L540 696M760 652L509 724M760 652L604 716" stroke-opacity="0.09"/>
<path d="M558 656L706 675M558 656L818 702M558 656L758 750M558 656L520 626" stroke-opacity="0.09"/>
<path d="M646 655L830 666M646 655L758 750" stroke-opacity="0.09"/>
<path d="M800 665L481 623M800 665L474 686M800 665L449 701M800 665L482 763" stroke-opacity="0.09"/>
<path d="M830 666L468 653" stroke-opacity="0.09"/>
<path d="M666 678L648 846M666 678L468 653" stroke-opacity="0.09"/>
<path d="M706 675L648 846M706 675L574 719" stroke-opacity="0.09"/>
<path d="M603 691L586 609M603 691L540 696M603 691L541 724M603 691L563 744M603 691L368 701M603 691L301 864" stroke-opacity="0.09"/>
<path d="M645 693L567 699M645 693L481 623M645 693L587 678M645 693L540 696" stroke-opacity="0.09"/>
<path d="M567 699L510 608M567 699L446 678M567 699L520 685M567 699L604 716" stroke-opacity="0.09"/>
<path d="M686 701L596 746M686 701L592 839M686 701L520 685" stroke-opacity="0.09"/>
<path d="M818 702L615 642" stroke-opacity="0.09"/>
<path d="M596 746L536 809" stroke-opacity="0.09"/>
<path d="M758 750L592 839M758 750L563 744" stroke-opacity="0.09"/>
<path d="M689 769L446 678" stroke-opacity="0.09"/>
<path d="M521 774L569 777M521 774L690 865M521 774L446 634M521 774L415 640M521 774L468 653M521 774L507 660M521 774L568 665" stroke-opacity="0.09"/>
<path d="M549 780L488 650M549 780L423 670M549 780L446 678" stroke-opacity="0.09"/>
<path d="M569 777L488 650M569 777L568 665" stroke-opacity="0.09"/>
<path d="M595 775L415 640" stroke-opacity="0.09"/>
<path d="M536 809L465 608" stroke-opacity="0.09"/>
<path d="M556 826L415 640M556 826L540 696" stroke-opacity="0.09"/>
<path d="M648 846L615 642M648 846L507 660M648 846L511 648M648 846L423 670M648 846L495 698M648 846L604 716M648 846L563 744" stroke-opacity="0.09"/>
<path d="M690 865L541 724" stroke-opacity="0.09"/>
<path d="M543 890L465 608M543 890L520 626" stroke-opacity="0.09"/>
<path d="M544 610L376 783" stroke-opacity="0.09"/>
<path d="M481 623L351 750" stroke-opacity="0.09"/>
<path d="M415 640L482 763M415 640L422 904" stroke-opacity="0.09"/>
<path d="M568 665L383 864" stroke-opacity="0.09"/>
<path d="M423 670L368 701" stroke-opacity="0.09"/>
<path d="M520 685L422 904" stroke-opacity="0.09"/>
<path d="M495 698L413 856" stroke-opacity="0.09"/>
<path d="M541 724L486 898" stroke-opacity="0.09"/>
<path d="M574 719L301 864" stroke-opacity="0.09"/>
<path d="M604 716L401 942" stroke-opacity="0.09"/>
<path d="M563 744L435 815" stroke-opacity="0.09"/>
<path d="M435 815L502 833" stroke-opacity="0.09"/>
<path d="M319 156L482 128M319 156L471 308M319 156L370 489M319 156L712 434M319 156L488 650M319 156L474 686" stroke-opacity="0.1"/>
<path d="M515 128L537 270M515 128L814 474M515 128L567 699M515 128L615 642" stroke-opacity="0.1"/>
<path d="M621 146L503 270M621 146L369 405M621 146L804 550M621 146L541 724" stroke-opacity="0.1"/>
<path d="M538 170L676 265M538 170L603 433M538 170L797 625" stroke-opacity="0.1"/>
<path d="M594 180L575 290M594 180L471 308M594 180L603 433M594 180L509 482M594 180L586 609M594 180L446 634" stroke-opacity="0.1"/>
<path d="M758 228L766 576M758 228L742 602M758 228L760 652" stroke-opacity="0.1"/>
<path d="M603 262L717 311M603 262L274 283M603 262L348 448M603 262L318 485M603 262L478 502M603 262L651 588M603 262L652 623M603 262L520 626M603 262L615 642M603 262L423 670" stroke-opacity="0.1"/>
<path d="M676 265L442 340M676 265L370 489M676 265L580 454M676 265L652 623M676 265L697 642M676 265L446 678" stroke-opacity="0.1"/>
<path d="M503 270L580 454" stroke-opacity="0.1"/>
<path d="M537 270L327 558M537 270L429 565M537 270L552 568M537 270L651 588M537 270L742 602M537 270L449 701" stroke-opacity="0.1"/>
<path d="M660 285L509 482M660 285L640 508M660 285L511 648M660 285L449 701" stroke-opacity="0.1"/>
<path d="M575 290L649 464M575 290L818 702M575 290L586 609" stroke-opacity="0.1"/>
<path d="M606 300L348 448M606 300L755 491M606 300L640 508M606 300L903 590M606 300L465 608M606 300L544 610M606 300L415 640M606 300L615 642M606 300L423 670" stroke-opacity="0.1"/>
<path d="M471 308L491 397M471 308L116 446M471 308L318 485M471 308L509 482M471 308L814 474M471 308L753 537M471 308L710 546M471 308L568 665M471 308L520 685M471 308L495 698" stroke-opacity="0.1"/>
<path d="M717 311L809 303M717 311L903 590M717 311L760 626" stroke-opacity="0.1"/>
<path d="M364 310L348 448M364 310L327 558M364 310L164 699M364 310L802 518M364 310L742 602" stroke-opacity="0.1"/>
<path d="M442 340L411 522M442 340L580 520M442 340L742 602M442 340L706 675M442 340L818 702M442 340L465 608M442 340L368 701" stroke-opacity="0.1"/>
<path d="M722 341L470 438M722 341L666 444M722 341L843 446M722 341L720 577M722 341L667 650M722 341L558 656M722 341L481 623M722 341L415 640M722 341L511 648M722 341L423 670M722 341L541 724" stroke-opacity="0.1"/>
<path d="M307 353L470 438M307 353L478 502M307 353L469 560M307 353L326 615M307 353L540 696" stroke-opacity="0.1"/>
<path d="M369 405L274 283M369 405L318 485M369 405L370 489M369 405L327 558M369 405L843 446M369 405L415 640M369 405L540 696" stroke-opacity="0.1"/>
<path d="M280 428L580 454M280 428L510 608M280 428L586 609M280 428L468 653M280 428L351 750M280 428L482 763M280 428L376 783" stroke-opacity="0.1"/>
<path d="M470 438L411 522M470 438L809 303M470 438L557 493M470 438L640 508M470 438L580 520M470 438L877 540M470 438L710 546M470 438L697 642M470 438L509 724" stroke-opacity="0.1"/>
<path d="M603 433L348 448M603 433L580 454M603 433L737 467M603 433L760 626M603 433L510 608M603 433L488 650M603 433L507 660M603 433L446 678M603 433L604 716" stroke-opacity="0.1"/>
<path d="M441 482L478 502M441 482L802 518M441 482L587 678M441 482L574 719M441 482L415 733M441 482L313 817" stroke-opacity="0.1"/>
<path d="M255 258L370 489M255 258L280 562M255 258L327 558M255 258L403 602" stroke-opacity="0.1"/>
<path d="M274 283L403 366M274 283L116 446M274 283L318 485M274 283L370 489" stroke-opacity="0.1"/>
<path d="M97 336L179 445M97 336L446 634" stroke-opacity="0.1"/>
<path d="M403 366L326 615M403 366L536 809" stroke-opacity="0.1"/>
<path d="M491 397L821 426M491 397L370 489M491 397L469 560M491 397L544 610M491 397L475 807" stroke-opacity="0.1"/>
<path d="M603 399L927 696M603 399L618 548M603 399L818 702" stroke-opacity="0.1"/>
<path d="M821 426L1032 652M821 426L864 706M821 426L666 444M821 426L802 518M821 426L706 675M821 426L510 608M821 426L586 609" stroke-opacity="0.1"/>
<path d="M116 446L429 565M116 446L540 696M116 446L351 750" stroke-opacity="0.1"/>
<path d="M179 445L411 522M179 445L280 562M179 445L403 602" stroke-opacity="0.1"/>
<path d="M348 448L509 482M348 448L429 565M348 448L595 775M348 448L563 744M348 448L376 783" stroke-opacity="0.1"/>
<path d="M853 475L902 819M853 475L843 446M853 475L624 614M853 475L509 724" stroke-opacity="0.1"/>
<path d="M318 485L465 608M318 485L488 650" stroke-opacity="0.1"/>
<path d="M370 489L580 520M370 489L682 525M370 489L465 608M370 489L423 670" stroke-opacity="0.1"/>
<path d="M509 482L580 454M509 482L510 608M509 482L604 716M509 482L376 783" stroke-opacity="0.1"/>
<path d="M478 502L280 562M478 502L580 520M478 502L699 519M478 502L530 551M478 502L482 730M478 502L549 780M478 502L592 839M478 502L446 634M478 502L568 665M478 502L604 716" stroke-opacity="0.1"/>
<path d="M411 522L272 600M411 522L164 699M411 522L596 746M411 522L544 610M411 522L615 642M411 522L423 670" stroke-opacity="0.1"/>
<path d="M656 528L902 819M656 528L809 303M656 528L876 588M656 528L468 653M656 528L351 750" stroke-opacity="0.1"/>
<path d="M778 538L647 714M778 538L809 303M778 538L903 590M778 538L651 588M778 538L706 675" stroke-opacity="0.1"/>
<path d="M280 562L469 560" stroke-opacity="0.1"/>
<path d="M327 558L544 610M327 558L481 623M327 558L339 842" stroke-opacity="0.1"/>
<path d="M429 565L520 685" stroke-opacity="0.1"/>
<path d="M469 560L666 444M469 560L596 558M469 560L536 809M469 560L568 665M469 560L520 685M469 560L509 724M469 560L376 783" stroke-opacity="0.1"/>
<path d="M272 600L507 660" stroke-opacity="0.1"/>
<path d="M403 602L245 712M403 602L596 746M403 602L446 634M403 602L540 696" stroke-opacity="0.1"/>
<path d="M326 615L603 691M326 615L689 769M326 615L586 609M326 615L520 685M326 615L301 864" stroke-opacity="0.1"/>
<path d="M796 596L835 787M796 596L557 493M796 596L671 553M796 596L742 602M796 596L474 686M796 596L495 698M796 596L461 843" stroke-opacity="0.1"/>
<path d="M1032 652L852 759M1032 652L712 434M1032 652L652 623" stroke-opacity="0.1"/>
<path d="M961 677L755 491" stroke-opacity="0.1"/>
<path d="M927 696L636 402M927 696L649 464M927 696L699 519M927 696L720 577M927 696L800 665M927 696L666 678M927 696L567 699" stroke-opacity="0.1"/>
<path d="M164 699L360 872" stroke-opacity="0.1"/>
<path d="M245 712L596 558M245 712L507 660M245 712L474 686" stroke-opacity="0.1"/>
<path d="M752 700L972 787M752 700L690 479M752 700L557 493M752 700L699 519M752 700L610 590M752 700L760 626M752 700L567 699M752 700L686 701M752 700L481 623M752 700L502 833" stroke-opacity="0.1"/>
<path d="M792 700L618 548M792 700L1001 558M792 700L720 577M792 700L760 652" stroke-opacity="0.1"/>
<path d="M864 706L814 474M864 706L927 514M864 706L876 588" stroke-opacity="0.1"/>
<path d="M1027 708L718 739M1027 708L672 588M1027 708L697 642" stroke-opacity="0.1"/>
<path d="M647 714L852 759M647 714L902 819M647 714L596 558M647 714L643 568M647 714L818 702M647 714L481 623M647 714L461 843M647 714L413 856" stroke-opacity="0.1"/>
<path d="M718 739L807 970M718 739L580 454M718 739L731 502M718 739L652 623M718 739L667 650M718 739L415 733" stroke-opacity="0.1"/>
<path d="M735 730L835 787M735 730L580 454M735 730L927 514M735 730L530 551M735 730L766 576M735 730L610 590M735 730L739 644M735 730L586 609M735 730L520 626M735 730L563 744" stroke-opacity="0.1"/>
<path d="M852 759L580 454M852 759L846 604M852 759L797 625" stroke-opacity="0.1"/>
<path d="M746 791L731 502M746 791L618 548M746 791L435 815" stroke-opacity="0.1"/>
<path d="M835 787L580 454M835 787L603 691" stroke-opacity="0.1"/>
<path d="M972 787L876 588" stroke-opacity="0.1"/>
<path d="M902 819L766 576M902 819L903 590M902 819L666 678" stroke-opacity="0.1"/>
<path d="M926 919L666 444M926 919L760 626" stroke-opacity="0.1"/>
<path d="M807 970L646 655M807 970L446 947" stroke-opacity="0.1"/>
<path d="M809 303L618 548M809 303L876 588M809 303L511 648" stroke-opacity="0.1"/>
<path d="M636 402L580 454M636 402L686 701M636 402L549 780" stroke-opacity="0.1"/>
<path d="M712 434L797 625M712 434L401 942" stroke-opacity="0.1"/>
<path d="M666 444L927 514M666 444L753 537M666 444L760 652M666 444L556 826M666 444L481 623M666 444L468 653" stroke-opacity="0.1"/>
<path d="M843 446L643 568M843 446L830 666M843 446L465 608M843 446L446 678" stroke-opacity="0.1"/>
<path d="M580 454L465 608M580 454L520 626M580 454L574 719M580 454L383 864" stroke-opacity="0.1"/>
<path d="M649 464L753 537M649 464L610 590M649 464L672 588M649 464L797 625M649 464L556 826M649 464L604 716" stroke-opacity="0.1"/>
<path d="M618 468L737 467M618 468L672 588M618 468L797 625M618 468L446 634M618 468L574 719" stroke-opacity="0.1"/>
<path d="M737 467L651 588M737 467L482 730M737 467L544 610M737 467L520 626" stroke-opacity="0.1"/>
<path d="M690 479L557 493M690 479L927 514M690 479L563 744" stroke-opacity="0.1"/>
<path d="M814 474L720 577M814 474L667 650M814 474L706 675M814 474L540 696M814 474L449 701M814 474L509 724" stroke-opacity="0.1"/>
<path d="M557 493L818 702M557 493L482 730M557 493L423 670M557 493L474 686M557 493L351 750" stroke-opacity="0.1"/>
<path d="M755 491L699 519M755 491L753 537M755 491L804 550M755 491L610 590M755 491L760 652M755 491L686 701M755 491L468 653M755 491L568 665M755 491L604 716M755 491L482 763" stroke-opacity="0.1"/>
<path d="M731 502L866 500M731 502L927 514M731 502L685 571M731 502L672 588M731 502L446 678M731 502L587 678M731 502L313 817" stroke-opacity="0.1"/>
<path d="M866 500L651 588M866 500L830 666M866 500L587 678M866 500L604 716M866 500L475 807M866 500L461 874" stroke-opacity="0.1"/>
<path d="M640 508L624 614M640 508L760 652M640 508L569 777M640 508L544 610M640 508L446 634M640 508L563 744M640 508L368 701M640 508L422 782" stroke-opacity="0.1"/>
<path d="M927 514L643 568M927 514L685 571M927 514L720 577M927 514L652 623M927 514L568 665M927 514L435 815" stroke-opacity="0.1"/>
<path d="M580 520L877 540M580 520L549 780M580 520L543 890M580 520L449 701" stroke-opacity="0.1"/>
<path d="M682 525L818 702M682 525L423 670M682 525L415 733M682 525L486 898" stroke-opacity="0.1"/>
<path d="M699 519L651 588M699 519L822 636M699 519L507 660M699 519L360 872M699 519L461 874" stroke-opacity="0.1"/>
<path d="M802 518L818 702" stroke-opacity="0.1"/>
<path d="M861 522L618 548M861 522L720 577M861 522L766 576M861 522L624 614M861 522L760 652M861 522L423 670" stroke-opacity="0.1"/>
<path d="M732 532L1001 558M732 532L830 666M732 532L587 678" stroke-opacity="0.1"/>
<path d="M753 537L697 642M753 537L800 665M753 537L511 648M753 537L376 783M753 537L475 807M753 537L486 898" stroke-opacity="0.1"/>
<path d="M877 540L720 577M877 540L766 576M877 540L830 666M877 540L544 610M877 540L615 642M877 540L475 807M877 540L413 856" stroke-opacity="0.1"/>
<path d="M530 551L646 655M530 551L666 678M530 551L351 750M530 551L376 783M530 551L313 817" stroke-opacity="0.1"/>
<path d="M618 548L804 550M618 548L465 608M618 548L368 701" stroke-opacity="0.1"/>
<path d="M710 546L720 577M710 546L536 809M710 546L540 696M710 546L486 898" stroke-opacity="0.1"/>
<path d="M804 550L596 558M804 550L610 590M804 550L760 652M804 550L446 634M804 550L587 678" stroke-opacity="0.1"/>
<path d="M671 553L876 588M671 553L797 625M671 553L596 746M671 553L507 660M671 553L541 724" stroke-opacity="0.1"/>
<path d="M1001 558L666 678M1001 558L818 702M1001 558L415 640M1001 558L541 724M1001 558L574 719M1001 558L368 906" stroke-opacity="0.1"/>
<path d="M596 558L592 839" stroke-opacity="0.1"/>
<path d="M552 568L667 650M552 568L760 652M552 568L689 769M552 568L648 846M552 568L543 890M552 568L481 623M552 568L520 626M552 568L339 842M552 568L360 872" stroke-opacity="0.1"/>
<path d="M643 568L742 602M643 568L667 650M643 568L587 678M643 568L383 864M643 568L461 874M643 568L422 904M643 568L446 947" stroke-opacity="0.1"/>
<path d="M685 571L610 590M685 571L624 614M685 571L549 780M685 571L509 724" stroke-opacity="0.1"/>
<path d="M720 577L903 590M720 577L596 746M720 577L543 890M720 577L615 642M720 577L373 813" stroke-opacity="0.1"/>
<path d="M766 576L511 648M766 576L383 864" stroke-opacity="0.1"/>
<path d="M876 588L742 602M876 588L646 655M876 588L686 701M876 588L415 640" stroke-opacity="0.1"/>
<path d="M903 590L672 588M903 590L742 602M903 590L567 699M903 590L511 648M903 590L574 719" stroke-opacity="0.1"/>
<path d="M610 590L536 809M610 590L415 733M610 590L475 807" stroke-opacity="0.1"/>
<path d="M651 588L846 604M651 588L830 666M651 588L595 775" stroke-opacity="0.1"/>
<path d="M672 588L818 702M672 588L520 626M672 588L615 642M672 588L563 744M672 588L360 872" stroke-opacity="0.1"/>
<path d="M742 602L646 655M742 602L706 675M742 602L465 608M742 602L587 678M742 602L574 719M742 602L339 842" stroke-opacity="0.1"/>
<path d="M846 604L797 625M846 604L697 642M846 604L520 626M846 604L511 648M846 604L540 696M846 604L475 807" stroke-opacity="0.1"/>
<path d="M624 614L540 696M624 614L449 701M624 614L509 724M624 614L541 724M624 614L563 744M624 614L351 750M624 614L339 842M624 614L360 872" stroke-opacity="0.1"/>
<path d="M652 623L521 774M652 623L465 608M652 623L446 678M652 623L474 686M652 623L563 744M652 623L422 904" stroke-opacity="0.1"/>
<path d="M760 626L830 666M760 626L510 608M760 626L376 783M760 626L461 874" stroke-opacity="0.1"/>
<path d="M797 625L446 634M797 625L435 815" stroke-opacity="0.1"/>
<path d="M822 636L465 608M822 636L507 660M822 636L423 670M822 636L461 874" stroke-opacity="0.1"/>
<path d="M697 642L596 746M697 642L468 653M697 642L511 648M697 642L587 678M697 642L574 719M697 642L482 763" stroke-opacity="0.1"/>
<path d="M739 644L481 623M739 644L313 817M739 644L435 815" stroke-opacity="0.1"/>
<path d="M760 652L568 665" stroke-opacity="0.1"/>
<path d="M558 656L509 724M558 656L604 716M558 656L339 842M558 656L446 947" stroke-opacity="0.1"/>
<path d="M646 655L569 777M646 655L446 634M646 655L509 724" stroke-opacity="0.1"/>
<path d="M800 665L818 702M800 665L510 608M800 665L587 678M800 665L509 724" stroke-opacity="0.1"/>
<path d="M830 666L706 675M830 666L511 648M830 666L520 685M830 666L509 724M830 666L563 744M830 666L368 701" stroke-opacity="0.1"/>
<path d="M666 678L706 675M666 678L549 780M666 678L556 826M666 678L481 623M666 678L615 642M666 678L507 660M666 678L568 665M666 678L446 947" stroke-opacity="0.1"/>
<path d="M706 675L818 702M706 675L521 774M706 675L502 833" stroke-opacity="0.1"/>
<path d="M603 691L689 769M603 691L474 686M603 691L373 813M603 691L360 872M603 691L461 874" stroke-opacity="0.1"/>
<path d="M645 693L351 750M645 693L486 898" stroke-opacity="0.1"/>
<path d="M567 699L549 780M567 699L543 890M567 699L544 610M567 699L568 665M567 699L587 678M567 699L339 842" stroke-opacity="0.1"/>
<path d="M686 701L482 730M686 701L758 750M686 701L383 864M686 701L401 942" stroke-opacity="0.1"/>
<path d="M818 702L587 678" stroke-opacity="0.1"/>
<path d="M482 730L690 865" stroke-opacity="0.1"/>
<path d="M596 746L592 839M596 746L541 724" stroke-opacity="0.1"/>
<path d="M758 750L510 608M758 750L415 640" stroke-opacity="0.1"/>
<path d="M549 780L481 623" stroke-opacity="0.1"/>
<path d="M569 777L509 724M569 777L604 716" stroke-opacity="0.1"/>
<path d="M536 809L615 642" stroke-opacity="0.1"/>
<path d="M556 826L474 686" stroke-opacity="0.1"/>
<path d="M592 839L586 609M592 839L468 653M592 839L423 670" stroke-opacity="0.1"/>
<path d="M648 846L488 650" stroke-opacity="0.1"/>
<path d="M543 890L415 640M543 890L587 678M543 890L461 843" stroke-opacity="0.1"/>
<path d="M465 608L373 813M465 608L383 864" stroke-opacity="0.1"/>
<path d="M510 608L413 856" stroke-opacity="0.1"/>
<path d="M544 610L435 815" stroke-opacity="0.1"/>
<path d="M586 609L376 783" stroke-opacity="0.1"/>
<path d="M481 623L413 856" stroke-opacity="0.1"/>
<path d="M520 626L351 750M520 626L422 782" stroke-opacity="0.1"/>
<path d="M415 640L413 856" stroke-opacity="0.1"/>
<path d="M615 642L376 783M615 642L461 843M615 642L360 872" stroke-opacity="0.1"/>
<path d="M511 648L461 843" stroke-opacity="0.1"/>
<path d="M568 665L422 782M568 665L461 843M568 665L413 856" stroke-opacity="0.1"/>
<path d="M446 678L435 815M446 678L301 864" stroke-opacity="0.1"/>
<path d="M587 678L313 817" stroke-opacity="0.1"/>
<path d="M474 686L461 874" stroke-opacity="0.1"/>
<path d="M520 685L351 750M520 685L435 815" stroke-opacity="0.1"/>
<path d="M495 698L422 904" stroke-opacity="0.1"/>
<path d="M540 696L422 904M540 696L401 942" stroke-opacity="0.1"/>
<path d="M449 701L422 782" stroke-opacity="0.1"/>
<path d="M509 724L368 701M509 724L502 833M509 724L413 856M509 724L446 947" stroke-opacity="0.1"/>
<path d="M574 719L376 783M574 719L461 843M574 719L413 856" stroke-opacity="0.1"/>
<path d="M604 716L415 733M604 716L376 783M604 716L446 947" stroke-opacity="0.1"/>
<path d="M563 744L461 874M563 744L401 942" stroke-opacity="0.1"/>
<path d="M319 156L403 366M319 156L876 588" stroke-opacity="0.11"/>
<path d="M482 128L478 502" stroke-opacity="0.11"/>
<path d="M515 128L307 353M515 128L511 648M515 128L482 763" stroke-opacity="0.11"/>
<path d="M621 146L491 397M621 146L814 474M621 146L927 514M621 146L510 608" stroke-opacity="0.11"/>
<path d="M538 170L1001 558M538 170L474 686" stroke-opacity="0.11"/>
<path d="M594 180L603 262M594 180L442 340M594 180L348 448" stroke-opacity="0.11"/>
<path d="M758 228L503 270M758 228L606 300M758 228L712 434M758 228L927 514M758 228L586 609" stroke-opacity="0.11"/>
<path d="M603 262L603 433M603 262L753 537M603 262L510 608" stroke-opacity="0.11"/>
<path d="M676 265L722 341M676 265L804 550M676 265L651 588" stroke-opacity="0.11"/>
<path d="M503 270L660 285M503 270L470 438M503 270L509 482M503 270L280 562" stroke-opacity="0.11"/>
<path d="M537 270L307 353M537 270L369 405M537 270L830 666M537 270L368 701" stroke-opacity="0.11"/>
<path d="M660 285L737 467M660 285L651 588M660 285L510 608" stroke-opacity="0.11"/>
<path d="M575 290L804 550M575 290L511 648M575 290L423 670M575 290L495 698" stroke-opacity="0.11"/>
<path d="M606 300L411 522M606 300L866 500M606 300L804 550M606 300L830 666" stroke-opacity="0.11"/>
<path d="M471 308L179 445M471 308L272 600M471 308L731 502M471 308L423 670M471 308L563 744" stroke-opacity="0.11"/>
<path d="M717 311L255 258M717 311L348 448M717 311L478 502M717 311L411 522M717 311L804 550M717 311L671 553M717 311L667 650M717 311L558 656M717 311L481 623M717 311L604 716M717 311L563 744" stroke-opacity="0.11"/>
<path d="M364 310L446 678M364 310L474 686M364 310L401 942" stroke-opacity="0.11"/>
<path d="M442 340L470 438M442 340L822 636M442 340L511 648M442 340L563 744" stroke-opacity="0.11"/>
<path d="M722 341L603 433M722 341L491 397M722 341L469 560M722 341L755 491M722 341L682 525M722 341L699 519M722 341L802 518M722 341L760 626M722 341L520 626" stroke-opacity="0.11"/>
<path d="M307 353L403 366M307 353L272 600M307 353L465 608M307 353L468 653M307 353L449 701" stroke-opacity="0.11"/>
<path d="M369 405L280 428M369 405L603 433M369 405L179 445M369 405L245 712M369 405L636 402M369 405L586 609M369 405L509 724" stroke-opacity="0.11"/>
<path d="M280 428L470 438M280 428L469 560M280 428L245 712M280 428L373 813" stroke-opacity="0.11"/>
<path d="M470 438L280 562M470 438L327 558M470 438L530 551M470 438L603 691M470 438L475 807" stroke-opacity="0.11"/>
<path d="M603 433L712 434M603 433L682 525M603 433L797 625M603 433L468 653M603 433L541 724" stroke-opacity="0.11"/>
<path d="M441 482L403 602M441 482L446 678M441 482L540 696M441 482L373 813M441 482L475 807" stroke-opacity="0.11"/>
<path d="M403 366L509 482M403 366L556 826" stroke-opacity="0.11"/>
<path d="M491 397L656 528M491 397L580 454M491 397L530 551M491 397L610 590M491 397L686 701" stroke-opacity="0.11"/>
<path d="M603 399L835 787M603 399L843 446M603 399L814 474M603 399L640 508M603 399L530 551M603 399L720 577M603 399L666 678M603 399L706 675" stroke-opacity="0.11"/>
<path d="M821 426L735 730M821 426L835 787M821 426L712 434M821 426L927 514M821 426L651 588" stroke-opacity="0.11"/>
<path d="M116 446L411 522" stroke-opacity="0.11"/>
<path d="M853 475L1027 708M853 475L666 444M853 475L618 548M853 475L720 577M853 475L652 623M853 475L697 642M853 475L510 608" stroke-opacity="0.11"/>
<path d="M318 485L699 519M318 485L549 780M318 485L507 660M318 485L474 686M318 485L368 701" stroke-opacity="0.11"/>
<path d="M370 489L596 746M370 489L446 678" stroke-opacity="0.11"/>
<path d="M509 482L558 656M509 482L569 777M509 482L574 719" stroke-opacity="0.11"/>
<path d="M478 502L685 571M478 502L610 590M478 502L422 782" stroke-opacity="0.11"/>
<path d="M411 522L580 454" stroke-opacity="0.11"/>
<path d="M656 528L753 537M656 528L804 550M656 528L671 553M656 528L552 568M656 528L446 678" stroke-opacity="0.11"/>
<path d="M778 538L927 696M778 538L792 700M778 538L972 787M778 538L580 454M778 538L649 464M778 538L846 604" stroke-opacity="0.11"/>
<path d="M280 562L544 610M280 562L373 813" stroke-opacity="0.11"/>
<path d="M327 558L556 826M327 558L474 686M327 558L540 696M327 558L574 719M327 558L351 750" stroke-opacity="0.11"/>
<path d="M429 565L731 502M429 565L586 609M429 565L615 642M429 565L587 678" stroke-opacity="0.11"/>
<path d="M469 560L737 467M469 560L697 642M469 560L596 746M469 560L689 769M469 560L521 774M469 560L507 660M469 560L413 856" stroke-opacity="0.11"/>
<path d="M272 600L521 774M272 600L595 775M272 600L422 904" stroke-opacity="0.11"/>
<path d="M403 602L558 656M403 602L481 623M403 602L482 763M403 602L376 783" stroke-opacity="0.11"/>
<path d="M326 615L569 777M326 615L648 846M326 615L604 716M326 615L446 947" stroke-opacity="0.11"/>
<path d="M796 596L1032 652M796 596L746 791M796 596L877 540M796 596L618 548M796 596L652 623" stroke-opacity="0.11"/>
<path d="M1032 652L804 550M1032 652L1001 558M1032 652L552 568" stroke-opacity="0.11"/>
<path d="M961 677L752 700M961 677L647 714M961 677L807 970M961 677L861 522M961 677L652 623M961 677L646 655M961 677L706 675" stroke-opacity="0.11"/>
<path d="M927 696L712 434M927 696L596 558M927 696L651 588M927 696L686 701" stroke-opacity="0.11"/>
<path d="M245 712L482 730M245 712L543 890" stroke-opacity="0.11"/>
<path d="M752 700L861 522M752 700L818 702" stroke-opacity="0.11"/>
<path d="M792 700L972 787M792 700L926 919M792 700L846 604M792 700L739 644M792 700L667 650" stroke-opacity="0.11"/>
<path d="M864 706L755 491M864 706L861 522M864 706L732 532M864 706L618 548M864 706L766 576M864 706L760 652" stroke-opacity="0.11"/>
<path d="M1027 708L671 553M1027 708L685 571" stroke-opacity="0.11"/>
<path d="M647 714L807 970M647 714L649 464M647 714L739 644M647 714L646 655M647 714L507 660" stroke-opacity="0.11"/>
<path d="M718 739L557 493M718 739L710 546M718 739L804 550M718 739L797 625M718 739L587 678M718 739L339 842M718 739L486 898" stroke-opacity="0.11"/>
<path d="M735 730L636 402M735 730L737 467M735 730L596 558" stroke-opacity="0.11"/>
<path d="M852 759L926 919M852 759L557 493M852 759L927 514M852 759L699 519M852 759L720 577M852 759L610 590M852 759L502 833" stroke-opacity="0.11"/>
<path d="M1046 778L846 604M1046 778L624 614M1046 778L800 665M1046 778L830 666" stroke-opacity="0.11"/>
<path d="M746 791L807 970M746 791L710 546M746 791L567 699M746 791L615 642M746 791L422 904" stroke-opacity="0.11"/>
<path d="M835 787L755 491" stroke-opacity="0.11"/>
<path d="M972 787L807 970M972 787L596 558M972 787L903 590" stroke-opacity="0.11"/>
<path d="M902 819L682 525M902 819L732 532M902 819L685 571M902 819L651 588" stroke-opacity="0.11"/>
<path d="M926 919L697 642" stroke-opacity="0.11"/>
<path d="M807 970L530 551M807 970L567 699M807 970L486 898" stroke-opacity="0.11"/>
<path d="M809 303L636 402M809 303L610 590M809 303L830 666M809 303L604 716" stroke-opacity="0.11"/>
<path d="M636 402L712 434M636 402L732 532M636 402L830 666M636 402L482 730M636 402L758 750M636 402L368 701" stroke-opacity="0.11"/>
<path d="M712 434L543 890M712 434L415 640" stroke-opacity="0.11"/>
<path d="M666 444L830 666M666 444L615 642M666 444L368 701" stroke-opacity="0.11"/>
<path d="M843 446L877 540M843 446L651 588M843 446L697 642M843 446L446 634M843 446L507 660M843 446L368 701" stroke-opacity="0.11"/>
<path d="M580 454L866 500M580 454L830 666M580 454L686 701M580 454L521 774M580 454L648 846M580 454L446 634M580 454L511 648M580 454L415 733" stroke-opacity="0.11"/>
<path d="M649 464L699 519M649 464L667 650M649 464L482 730M649 464L592 839M649 464L468 653M649 464L509 724M649 464L415 733" stroke-opacity="0.11"/>
<path d="M618 468L861 522M618 468L610 590" stroke-opacity="0.11"/>
<path d="M737 467L802 518M737 467L646 655M737 467L603 691M737 467L615 642M737 467L495 698" stroke-opacity="0.11"/>
<path d="M690 479L755 491M690 479L866 500M690 479L877 540M690 479L804 550M690 479L596 746M690 479L540 696" stroke-opacity="0.11"/>
<path d="M814 474L699 519M814 474L710 546M814 474L510 608M814 474L468 653M814 474L568 665" stroke-opacity="0.11"/>
<path d="M557 493L596 746M557 493L481 623" stroke-opacity="0.11"/>
<path d="M755 491L927 514M755 491L685 571" stroke-opacity="0.11"/>
<path d="M731 502L689 769M731 502L648 846" stroke-opacity="0.11"/>
<path d="M866 500L753 537M866 500L706 675M866 500L413 856" stroke-opacity="0.11"/>
<path d="M640 508L846 604M640 508L689 769M640 508L461 874" stroke-opacity="0.11"/>
<path d="M927 514L760 652M927 514L520 685" stroke-opacity="0.11"/>
<path d="M580 520L530 551M580 520L804 550M580 520L651 588M580 520L739 644M580 520L376 783" stroke-opacity="0.11"/>
<path d="M682 525L876 588M682 525L376 783" stroke-opacity="0.11"/>
<path d="M699 519L861 522M699 519L624 614M699 519L758 750M699 519L592 839M699 519L520 685" stroke-opacity="0.11"/>
<path d="M802 518L861 522M802 518L877 540M802 518L685 571M802 518L830 666M802 518L507 660" stroke-opacity="0.11"/>
<path d="M861 522L685 571M861 522L544 610M861 522L446 634" stroke-opacity="0.11"/>
<path d="M732 532L804 550M732 532L742 602M732 532L760 652M732 532L495 698" stroke-opacity="0.11"/>
<path d="M753 537L530 551M753 537L603 691M753 537L615 642M753 537L449 701M753 537L368 701" stroke-opacity="0.11"/>
<path d="M877 540L671 553M877 540L624 614M877 540L818 702" stroke-opacity="0.11"/>
<path d="M530 551L760 626M530 551L648 846M530 551L586 609M530 551L509 724M530 551L415 733M530 551L482 763M530 551L502 833M530 551L401 942" stroke-opacity="0.11"/>
<path d="M618 548L549 780M618 548L446 634M618 548L541 724M618 548L475 807M618 548L486 898" stroke-opacity="0.11"/>
<path d="M710 546L685 571M710 546L510 608M710 546L415 640M710 546L502 833" stroke-opacity="0.11"/>
<path d="M804 550L876 588M804 550L586 609M804 550L615 642" stroke-opacity="0.11"/>
<path d="M671 553L596 558M671 553L903 590M671 553L510 608M671 553L511 648" stroke-opacity="0.11"/>
<path d="M1001 558L903 590M1001 558L540 696" stroke-opacity="0.11"/>
<path d="M596 558L643 568M596 558L521 774M596 558L520 685" stroke-opacity="0.11"/>
<path d="M552 568L651 588M552 568L475 807" stroke-opacity="0.11"/>
<path d="M643 568L569 777M643 568L543 890M643 568L586 609M643 568L541 724" stroke-opacity="0.11"/>
<path d="M685 571L766 576M685 571L672 588M685 571L742 602M685 571L596 746" stroke-opacity="0.11"/>
<path d="M720 577L648 846M720 577L511 648M720 577L474 686M720 577L520 685M720 577L482 763M720 577L486 898" stroke-opacity="0.11"/>
<path d="M766 576L672 588M766 576L520 626M766 576L568 665M766 576L587 678M766 576L541 724M766 576L422 782" stroke-opacity="0.11"/>
<path d="M876 588L509 724M876 588L574 719" stroke-opacity="0.11"/>
<path d="M903 590L520 626" stroke-opacity="0.11"/>
<path d="M610 590L760 652M610 590L595 775M610 590L544 610M610 590L509 724M610 590L574 719M610 590L422 782" stroke-opacity="0.11"/>
<path d="M651 588L686 701M651 588L481 623M651 588L540 696M651 588L502 833M651 588L461 843" stroke-opacity="0.11"/>
<path d="M672 588L596 746M672 588L758 750M672 588L569 777M672 588L461 874" stroke-opacity="0.11"/>
<path d="M846 604L666 678M846 604L706 675" stroke-opacity="0.11"/>
<path d="M624 614L797 625M624 614L648 846M624 614L465 608M624 614L415 640M624 614L574 719M624 614L486 898" stroke-opacity="0.11"/>
<path d="M652 623L822 636M652 623L758 750M652 623L536 809M652 623L449 701M652 623L413 856" stroke-opacity="0.11"/>
<path d="M760 626L697 642M760 626L423 670M760 626L587 678M760 626L541 724M760 626L313 817M760 626L461 843" stroke-opacity="0.11"/>
<path d="M797 625L697 642M797 625L760 652M797 625L465 608M797 625L373 813" stroke-opacity="0.11"/>
<path d="M822 636L667 650M822 636L646 655M822 636L603 691M822 636L818 702M822 636L540 696" stroke-opacity="0.11"/>
<path d="M697 642L586 609M697 642L495 698M697 642L351 750" stroke-opacity="0.11"/>
<path d="M739 644L569 777M739 644L446 634M739 644L507 660M739 644L474 686M739 644L461 874" stroke-opacity="0.11"/>
<path d="M667 650L511 648M667 650L423 670" stroke-opacity="0.11"/>
<path d="M760 652L520 685M760 652L435 815M760 652L422 904" stroke-opacity="0.11"/>
<path d="M558 656L689 769M558 656L413 856" stroke-opacity="0.11"/>
<path d="M646 655L482 730M646 655L586 609M646 655L541 724M646 655L604 716M646 655L422 782M646 655L461 874M646 655L446 947" stroke-opacity="0.11"/>
<path d="M800 665L511 648M800 665L368 701" stroke-opacity="0.11"/>
<path d="M830 666L666 678M830 666L567 699M830 666L686 701M830 666L510 608M830 666L481 623M830 666L446 634M830 666L568 665M830 666L587 678M830 666L376 783" stroke-opacity="0.11"/>
<path d="M666 678L569 777M666 678L510 608M666 678L511 648M666 678L495 698M666 678L509 724M666 678L502 833" stroke-opacity="0.11"/>
<path d="M706 675L686 701M706 675L592 839" stroke-opacity="0.11"/>
<path d="M603 691L645 693M603 691L567 699M603 691L556 826M603 691L592 839M603 691L544 610" stroke-opacity="0.11"/>
<path d="M645 693L818 702M645 693L368 701M645 693L482 763M645 693L475 807" stroke-opacity="0.11"/>
<path d="M567 699L569 777M567 699L556 826M567 699L368 701M567 699L482 763" stroke-opacity="0.11"/>
<path d="M686 701L615 642M686 701L507 660M686 701L563 744" stroke-opacity="0.11"/>
<path d="M482 730L595 775M482 730L556 826M482 730L446 678M482 730L449 701" stroke-opacity="0.11"/>
<path d="M596 746L648 846M596 746L543 890M596 746L586 609M596 746L488 650M596 746L423 670" stroke-opacity="0.11"/>
<path d="M758 750L521 774M758 750L543 890M758 750L481 623M758 750L511 648M758 750L474 686M758 750L541 724" stroke-opacity="0.11"/>
<path d="M689 769L507 660M689 769L604 716M689 769L563 744" stroke-opacity="0.11"/>
<path d="M521 774L465 608M521 774L481 623M521 774L615 642M521 774L587 678M521 774L509 724" stroke-opacity="0.11"/>
<path d="M549 780L415 640M549 780L383 864" stroke-opacity="0.11"/>
<path d="M595 775L423 670" stroke-opacity="0.11"/>
<path d="M536 809L520 626M536 809L415 640M536 809L568 665M536 809L540 696M536 809L449 701" stroke-opacity="0.11"/>
<path d="M556 826L520 626" stroke-opacity="0.11"/>
<path d="M648 846L383 864" stroke-opacity="0.11"/>
<path d="M690 865L415 640" stroke-opacity="0.11"/>
<path d="M543 890L446 634" stroke-opacity="0.11"/>
<path d="M465 608L301 864M465 608L422 904" stroke-opacity="0.11"/>
<path d="M510 608L368 906" stroke-opacity="0.11"/>
<path d="M544 610L351 750M544 610L368 906" stroke-opacity="0.11"/>
<path d="M586 609L413 856M586 609L486 898" stroke-opacity="0.11"/>
<path d="M520 626L373 813M520 626L502 833M520 626L486 898" stroke-opacity="0.11"/>
<path d="M446 634L415 733M446 634L413 856M446 634L461 874M446 634L422 904" stroke-opacity="0.11"/>
<path d="M415 640L313 817M415 640L435 815M415 640L461 843M415 640L461 874" stroke-opacity="0.11"/>
<path d="M615 642L415 733" stroke-opacity="0.11"/>
<path d="M488 650L376 783M488 650L486 898" stroke-opacity="0.11"/>
<path d="M507 660L376 783M507 660L446 947" stroke-opacity="0.11"/>
<path d="M423 670L413 856M423 670L360 872M423 670L486 898" stroke-opacity="0.11"/>
<path d="M446 678L360 872M446 678L461 874" stroke-opacity="0.11"/>
<path d="M587 678L368 906M587 678L401 942" stroke-opacity="0.11"/>
<path d="M474 686L482 763M474 686L435 815M474 686L339 842M474 686L413 856" stroke-opacity="0.11"/>
<path d="M520 685L383 864M520 685L368 906" stroke-opacity="0.11"/>
<path d="M495 698L383 864M495 698L368 906" stroke-opacity="0.11"/>
<path d="M540 696L301 864M540 696L461 874M540 696L486 898" stroke-opacity="0.11"/>
<path d="M509 724L376 783M509 724L475 807" stroke-opacity="0.11"/>
<path d="M541 724L360 872M541 724L368 906" stroke-opacity="0.11"/>
<path d="M574 719L422 782M574 719L461 874M574 719L486 898" stroke-opacity="0.11"/>
<path d="M604 716L368 701" stroke-opacity="0.11"/>
<path d="M563 744L461 843" stroke-opacity="0.11"/>
<path d="M482 763L486 898" stroke-opacity="0.11"/>
<path d="M475 807L401 942" stroke-opacity="0.11"/>
<path d="M461 843L401 942" stroke-opacity="0.11"/>
<path d="M319 156L515 128M319 156L568 665M319 156L541 724" stroke-opacity="0.12"/>
<path d="M482 128L594 180" stroke-opacity="0.12"/>
<path d="M515 128L471 308M515 128L866 500" stroke-opacity="0.12"/>
<path d="M621 146L594 180M621 146L660 285" stroke-opacity="0.12"/>
<path d="M538 170L471 308M538 170L274 283M538 170L179 445M538 170L530 551M538 170L568 665M538 170L574 719" stroke-opacity="0.12"/>
<path d="M594 180L510 608M594 180L568 665M594 180L449 701" stroke-opacity="0.12"/>
<path d="M758 228L660 285M758 228L640 508" stroke-opacity="0.12"/>
<path d="M603 262L575 290M603 262L369 405M603 262L470 438M603 262L690 479M603 262L586 609" stroke-opacity="0.12"/>
<path d="M676 265L491 397M676 265L586 609" stroke-opacity="0.12"/>
<path d="M503 270L606 300M503 270L722 341M503 270L307 353M503 270L179 445M503 270L699 519M503 270L615 642M503 270L474 686" stroke-opacity="0.12"/>
<path d="M537 270L470 438M537 270L603 433M537 270L348 448M537 270L755 491M537 270L586 609" stroke-opacity="0.12"/>
<path d="M660 285L471 308M660 285L326 615M660 285L822 636M660 285L520 626M660 285L615 642M660 285L574 719" stroke-opacity="0.12"/>
<path d="M575 290L327 558M575 290L326 615" stroke-opacity="0.12"/>
<path d="M606 300L255 258M606 300L97 336M606 300L753 537M606 300L651 588M606 300L568 665" stroke-opacity="0.12"/>
<path d="M471 308L255 258M471 308L469 560M471 308L843 446M471 308L510 608M471 308L482 763" stroke-opacity="0.12"/>
<path d="M717 311L491 397M717 311L280 562M717 311L766 576M717 311L822 636M717 311L706 675M717 311L520 626M717 311L507 660" stroke-opacity="0.12"/>
<path d="M364 310L755 491M364 310L866 500M364 310L610 590M364 310L415 640" stroke-opacity="0.12"/>
<path d="M442 340L116 446M442 340L509 482M442 340L587 678" stroke-opacity="0.12"/>
<path d="M722 341L540 696" stroke-opacity="0.12"/>
<path d="M307 353L441 482M307 353L116 446M307 353L843 446M307 353L510 608M307 353L507 660" stroke-opacity="0.12"/>
<path d="M369 405L481 623M369 405L520 685M369 405L376 783M369 405L461 843" stroke-opacity="0.12"/>
<path d="M280 428L672 588" stroke-opacity="0.12"/>
<path d="M470 438L272 600M470 438L649 464M470 438L800 665M470 438L415 640M470 438L488 650M470 438L574 719" stroke-opacity="0.12"/>
<path d="M603 433L429 565M603 433L649 464M603 433L822 636M603 433L586 609M603 433L446 634" stroke-opacity="0.12"/>
<path d="M441 482L411 522M441 482L739 644M441 482L760 652M441 482L818 702M441 482L510 608M441 482L509 724" stroke-opacity="0.12"/>
<path d="M274 283L280 562" stroke-opacity="0.12"/>
<path d="M97 336L368 701" stroke-opacity="0.12"/>
<path d="M403 366L469 560M403 366L510 608M403 366L587 678" stroke-opacity="0.12"/>
<path d="M491 397L326 615M491 397L580 520M491 397L449 701" stroke-opacity="0.12"/>
<path d="M603 399L712 434M603 399L737 467M603 399L804 550M603 399L652 623M603 399L645 693" stroke-opacity="0.12"/>
<path d="M821 426L755 491M821 426L699 519M821 426L710 546" stroke-opacity="0.12"/>
<path d="M116 446L348 448" stroke-opacity="0.12"/>
<path d="M179 445L544 610M179 445L511 648" stroke-opacity="0.12"/>
<path d="M348 448L478 502M348 448L482 730M348 448L596 746M348 448L689 769" stroke-opacity="0.12"/>
<path d="M853 475L649 464M853 475L557 493M853 475L672 588" stroke-opacity="0.12"/>
<path d="M318 485L552 568M318 485L569 777M318 485L615 642" stroke-opacity="0.12"/>
<path d="M370 489L557 493M370 489L552 568" stroke-opacity="0.12"/>
<path d="M509 482L411 522M509 482L689 769" stroke-opacity="0.12"/>
<path d="M478 502L272 600M478 502L640 508M478 502L544 610M478 502L415 733" stroke-opacity="0.12"/>
<path d="M411 522L556 826M411 522L313 817M411 522L461 843" stroke-opacity="0.12"/>
<path d="M656 528L712 434M656 528L731 502M656 528L618 548M656 528L645 693M656 528L488 650" stroke-opacity="0.12"/>
<path d="M778 538L852 759M778 538L690 479M778 538L640 508M778 538L877 540M778 538L530 551M778 538L624 614" stroke-opacity="0.12"/>
<path d="M280 562L245 712M280 562L586 609" stroke-opacity="0.12"/>
<path d="M327 558L469 560M327 558L596 746M327 558L368 701" stroke-opacity="0.12"/>
<path d="M429 565L618 468M429 565L697 642M429 565L446 634M429 565L488 650" stroke-opacity="0.12"/>
<path d="M469 560L245 712M469 560L618 468M469 560L814 474M469 560L682 525M469 560L558 656M469 560L758 750M469 560L648 846M469 560L690 865M469 560L474 686" stroke-opacity="0.12"/>
<path d="M403 602L541 724M403 602L574 719M403 602L368 701" stroke-opacity="0.12"/>
<path d="M326 615L465 608M326 615L544 610M326 615L540 696M326 615L368 701M326 615L435 815" stroke-opacity="0.12"/>
<path d="M796 596L718 739M796 596L666 444M796 596L580 454M796 596L903 590M796 596L646 655M796 596L568 665M796 596L475 807" stroke-opacity="0.12"/>
<path d="M1032 652L926 919M1032 652L720 577M1032 652L742 602" stroke-opacity="0.12"/>
<path d="M961 677L690 479M961 677L640 508M961 677L802 518M961 677L877 540" stroke-opacity="0.12"/>
<path d="M927 696L835 787M927 696L843 446M927 696L753 537M927 696L739 644M927 696L760 652M927 696L830 666" stroke-opacity="0.12"/>
<path d="M164 699L446 634" stroke-opacity="0.12"/>
<path d="M245 712L596 746M245 712L435 815" stroke-opacity="0.12"/>
<path d="M752 700L580 454M752 700L530 551M752 700L804 550M752 700L651 588" stroke-opacity="0.12"/>
<path d="M792 700L807 970M792 700L649 464" stroke-opacity="0.12"/>
<path d="M864 706L647 714M864 706L640 508M864 706L710 546M864 706L643 568M864 706L652 623M864 706L604 716" stroke-opacity="0.12"/>
<path d="M1027 708L735 730M1027 708L667 650" stroke-opacity="0.12"/>
<path d="M647 714L746 791M647 714L731 502M647 714L682 525M647 714L877 540M647 714L530 551M647 714L672 588M647 714L797 625" stroke-opacity="0.12"/>
<path d="M718 739L699 519M718 739L766 576M718 739L760 626M718 739L822 636M718 739L697 642M718 739L558 656M718 739L604 716M718 739L475 807" stroke-opacity="0.12"/>
<path d="M735 730L640 508M735 730L552 568M735 730L685 571M735 730L666 678M735 730L481 623" stroke-opacity="0.12"/>
<path d="M852 759L643 568M852 759L903 590M852 759L739 644M852 759L800 665M852 759L540 696" stroke-opacity="0.12"/>
<path d="M746 791L671 553M746 791L667 650" stroke-opacity="0.12"/>
<path d="M835 787L652 623M835 787L567 699" stroke-opacity="0.12"/>
<path d="M972 787L731 502M972 787L877 540" stroke-opacity="0.12"/>
<path d="M902 819L646 655M902 819L686 701M902 819L604 716" stroke-opacity="0.12"/>
<path d="M926 919L686 701M926 919L818 702" stroke-opacity="0.12"/>
<path d="M809 303L618 468M809 303L760 626M809 303L520 626" stroke-opacity="0.12"/>
<path d="M712 434L737 467M712 434L587 678M712 434L563 744" stroke-opacity="0.12"/>
<path d="M666 444L814 474M666 444L866 500M666 444L706 675" stroke-opacity="0.12"/>
<path d="M843 446L866 500M843 446L685 571M843 446L652 623M843 446L520 626" stroke-opacity="0.12"/>
<path d="M580 454L804 550M580 454L742 602" stroke-opacity="0.12"/>
<path d="M649 464L755 491M649 464L1001 558" stroke-opacity="0.12"/>
<path d="M618 468L643 568M618 468L468 653" stroke-opacity="0.12"/>
<path d="M737 467L804 550M737 467L760 652M737 467L706 675M737 467L520 685" stroke-opacity="0.12"/>
<path d="M690 479L766 576M690 479L568 665" stroke-opacity="0.12"/>
<path d="M814 474L822 636M814 474L563 744" stroke-opacity="0.12"/>
<path d="M557 493L640 508M557 493L876 588M557 493L689 769M557 493L574 719" stroke-opacity="0.12"/>
<path d="M755 491L465 608" stroke-opacity="0.12"/>
<path d="M731 502L732 532M731 502L552 568M731 502L766 576M731 502L510 608M731 502L604 716M731 502L339 842" stroke-opacity="0.12"/>
<path d="M866 500L742 602M866 500L574 719" stroke-opacity="0.12"/>
<path d="M640 508L540 696" stroke-opacity="0.12"/>
<path d="M927 514L488 650M927 514L502 833" stroke-opacity="0.12"/>
<path d="M580 520L697 642M580 520L574 719" stroke-opacity="0.12"/>
<path d="M682 525L671 553M682 525L446 678" stroke-opacity="0.12"/>
<path d="M699 519L587 678" stroke-opacity="0.12"/>
<path d="M802 518L446 634M802 518L446 947" stroke-opacity="0.12"/>
<path d="M861 522L643 568" stroke-opacity="0.12"/>
<path d="M732 532L536 809" stroke-opacity="0.12"/>
<path d="M753 537L643 568M753 537L604 716" stroke-opacity="0.12"/>
<path d="M877 540L604 716" stroke-opacity="0.12"/>
<path d="M530 551L423 670M530 551L541 724M530 551L422 904" stroke-opacity="0.12"/>
<path d="M618 548L556 826M618 548L511 648M618 548L351 750" stroke-opacity="0.12"/>
<path d="M710 546L818 702" stroke-opacity="0.12"/>
<path d="M804 550L797 625M804 550L646 655M804 550L488 650M804 550L486 898" stroke-opacity="0.12"/>
<path d="M671 553L846 604M671 553L592 839M671 553L568 665M671 553L446 678M671 553L474 686M671 553L563 744M671 553L313 817" stroke-opacity="0.12"/>
<path d="M1001 558L511 648" stroke-opacity="0.12"/>
<path d="M596 558L536 809M596 558L465 608" stroke-opacity="0.12"/>
<path d="M552 568L818 702M552 568L495 698" stroke-opacity="0.12"/>
<path d="M643 568L758 750M643 568L449 701M643 568L351 750M643 568L376 783" stroke-opacity="0.12"/>
<path d="M685 571L758 750M685 571L507 660" stroke-opacity="0.12"/>
<path d="M720 577L672 588M720 577L697 642M720 577L556 826M720 577L604 716" stroke-opacity="0.12"/>
<path d="M766 576L760 652M766 576L558 656M766 576L461 874" stroke-opacity="0.12"/>
<path d="M876 588L520 626M876 588L541 724" stroke-opacity="0.12"/>
<path d="M903 590L800 665M903 590L686 701M903 590L481 623" stroke-opacity="0.12"/>
<path d="M610 590L645 693M610 590L596 746M610 590L758 750M610 590L449 701M610 590L604 716M610 590L422 904" stroke-opacity="0.12"/>
<path d="M651 588L596 746M651 588L758 750M651 588L351 750" stroke-opacity="0.12"/>
<path d="M672 588L690 865M672 588L468 653" stroke-opacity="0.12"/>
<path d="M742 602L558 656M742 602L645 693" stroke-opacity="0.12"/>
<path d="M846 604L603 691" stroke-opacity="0.12"/>
<path d="M624 614L758 750M624 614L475 807" stroke-opacity="0.12"/>
<path d="M652 623L510 608" stroke-opacity="0.12"/>
<path d="M760 626L800 665M760 626L468 653" stroke-opacity="0.12"/>
<path d="M797 625L739 644M797 625L474 686" stroke-opacity="0.12"/>
<path d="M822 636L586 609M822 636L468 653M822 636L488 650M822 636L482 763M822 636L502 833" stroke-opacity="0.12"/>
<path d="M697 642L373 813" stroke-opacity="0.12"/>
<path d="M739 644L543 890M739 644L482 763" stroke-opacity="0.12"/>
<path d="M667 650L689 769M667 650L449 701M667 650L509 724" stroke-opacity="0.12"/>
<path d="M760 652L511 648M760 652L446 678M760 652L449 701" stroke-opacity="0.12"/>
<path d="M558 656L800 665M558 656L449 701M558 656L461 843M558 656L301 864" stroke-opacity="0.12"/>
<path d="M646 655L645 693M646 655L595 775M646 655L556 826M646 655L574 719M646 655L415 733M646 655L313 817M646 655L422 904" stroke-opacity="0.12"/>
<path d="M800 665L666 678M800 665L586 609M800 665L507 660" stroke-opacity="0.12"/>
<path d="M830 666L574 719" stroke-opacity="0.12"/>
<path d="M666 678L543 890M666 678L461 874" stroke-opacity="0.12"/>
<path d="M706 675L645 693M706 675L596 746M706 675L689 769" stroke-opacity="0.12"/>
<path d="M603 691L596 746M603 691L415 640M603 691L520 685M603 691L509 724M603 691L482 763M603 691L475 807M603 691L413 856" stroke-opacity="0.12"/>
<path d="M645 693L339 842" stroke-opacity="0.12"/>
<path d="M567 699L596 746M567 699L449 701" stroke-opacity="0.12"/>
<path d="M686 701L689 769M686 701L474 686M686 701L435 815" stroke-opacity="0.12"/>
<path d="M818 702L544 610M818 702L413 856" stroke-opacity="0.12"/>
<path d="M482 730L511 648M482 730L568 665M482 730L563 744" stroke-opacity="0.12"/>
<path d="M596 746L549 780" stroke-opacity="0.12"/>
<path d="M689 769L544 610M689 769L468 653" stroke-opacity="0.12"/>
<path d="M521 774L544 610M521 774L511 648" stroke-opacity="0.12"/>
<path d="M549 780L569 777M549 780L648 846M549 780L465 608M549 780L586 609M549 780L449 701" stroke-opacity="0.12"/>
<path d="M569 777L595 775" stroke-opacity="0.12"/>
<path d="M592 839L690 865M592 839L587 678" stroke-opacity="0.12"/>
<path d="M648 846L465 608M648 846L568 665" stroke-opacity="0.12"/>
<path d="M690 865L507 660M690 865L474 686" stroke-opacity="0.12"/>
<path d="M510 608L351 750M510 608L461 843M510 608L422 904" stroke-opacity="0.12"/>
<path d="M544 610L475 807" stroke-opacity="0.12"/>
<path d="M586 609L373 813" stroke-opacity="0.12"/>
<path d="M446 634L401 942" stroke-opacity="0.12"/>
<path d="M468 653L482 763M468 653L313 817" stroke-opacity="0.12"/>
<path d="M488 650L360 872" stroke-opacity="0.12"/>
<path d="M507 660L415 733M507 660L413 856" stroke-opacity="0.12"/>
<path d="M511 648L482 763M511 648L422 782M511 648L383 864" stroke-opacity="0.12"/>
<path d="M568 665L502 833" stroke-opacity="0.12"/>
<path d="M423 670L482 763" stroke-opacity="0.12"/>
<path d="M446 678L422 904" stroke-opacity="0.12"/>
<path d="M474 686L368 701M474 686L368 906" stroke-opacity="0.12"/>
<path d="M449 701L413 856M449 701L301 864" stroke-opacity="0.12"/>
<path d="M604 716L313 817" stroke-opacity="0.12"/>
<path d="M563 744L415 733M563 744L373 813" stroke-opacity="0.12"/>
<path d="M313 817L486 898" stroke-opacity="0.12"/>
<path d="M319 156L97 336" stroke-opacity="0.13"/>
<path d="M482 128L580 454M482 128L830 666" stroke-opacity="0.13"/>
<path d="M515 128L717 311M515 128L423 670M515 128L587 678" stroke-opacity="0.13"/>
<path d="M621 146L809 303" stroke-opacity="0.13"/>
<path d="M538 170L403 366M538 170L520 685" stroke-opacity="0.13"/>
<path d="M758 228L690 479" stroke-opacity="0.13"/>
<path d="M603 262L471 308M603 262L441 482M603 262L814 474M603 262L640 508M603 262L710 546M603 262L643 568M603 262L507 660" stroke-opacity="0.13"/>
<path d="M676 265L503 270M676 265L606 300M676 265L671 553M676 265L760 626M676 265L822 636M676 265L511 648" stroke-opacity="0.13"/>
<path d="M503 270L255 258M503 270L797 625M503 270L446 634" stroke-opacity="0.13"/>
<path d="M537 270L274 283M537 270L403 366M537 270L809 303M537 270L814 474M537 270L530 551M537 270L511 648M537 270L509 724M537 270L574 719" stroke-opacity="0.13"/>
<path d="M660 285L690 479M660 285L423 670" stroke-opacity="0.13"/>
<path d="M575 290L866 500" stroke-opacity="0.13"/>
<path d="M606 300L737 467M606 300L618 548" stroke-opacity="0.13"/>
<path d="M471 308L717 311M471 308L369 405M471 308L866 500M471 308L558 656" stroke-opacity="0.13"/>
<path d="M717 311L603 433M717 311L618 468M717 311L877 540M717 311L1001 558" stroke-opacity="0.13"/>
<path d="M364 310L97 336M364 310L116 446M364 310L179 445" stroke-opacity="0.13"/>
<path d="M442 340L540 696" stroke-opacity="0.13"/>
<path d="M722 341L580 454M722 341L737 467M722 341L800 665M722 341L666 678M722 341L615 642" stroke-opacity="0.13"/>
<path d="M307 353L753 537" stroke-opacity="0.13"/>
<path d="M369 405L441 482M369 405L280 562M369 405L326 615M369 405L474 686M369 405L449 701M369 405L604 716" stroke-opacity="0.13"/>
<path d="M280 428L441 482M280 428L255 258M280 428L274 283M280 428L671 553M280 428L465 608M280 428L507 660M280 428L423 670M280 428L540 696" stroke-opacity="0.13"/>
<path d="M470 438L603 433M470 438L370 489M470 438L429 565M470 438L861 522M470 438L830 666M470 438L686 701M470 438L540 696M470 438L449 701M470 438L541 724" stroke-opacity="0.13"/>
<path d="M603 433L469 560M603 433L731 502M603 433L697 642M603 433L481 623M603 433L368 906" stroke-opacity="0.13"/>
<path d="M441 482L520 626M441 482L474 686M441 482L541 724M441 482L604 716" stroke-opacity="0.13"/>
<path d="M255 258L274 283M255 258L97 336M255 258L469 560" stroke-opacity="0.13"/>
<path d="M274 283L97 336M274 283L478 502M274 283L509 724" stroke-opacity="0.13"/>
<path d="M491 397L640 508M491 397L521 774" stroke-opacity="0.13"/>
<path d="M603 399L656 528M603 399L796 596M603 399L690 479M603 399L903 590" stroke-opacity="0.13"/>
<path d="M821 426L843 446M821 426L640 508M821 426L760 652" stroke-opacity="0.13"/>
<path d="M179 445L326 615M179 445L245 712M179 445L488 650M179 445L423 670M179 445L368 701" stroke-opacity="0.13"/>
<path d="M853 475L746 791M853 475L610 590M853 475L742 602" stroke-opacity="0.13"/>
<path d="M318 485L411 522M318 485L540 696" stroke-opacity="0.13"/>
<path d="M370 489L327 558M370 489L415 640M370 489L488 650" stroke-opacity="0.13"/>
<path d="M509 482L272 600M509 482L592 839" stroke-opacity="0.13"/>
<path d="M478 502L690 479M478 502L667 650M478 502L574 719M478 502L301 864" stroke-opacity="0.13"/>
<path d="M411 522L481 623" stroke-opacity="0.13"/>
<path d="M1133 520L656 528M1133 520L796 596M1133 520L752 700M1133 520L792 700M1133 520L864 706M1133 520L718 739M1133 520L699 519M1133 520L1001 558M1133 520L766 576M1133 520L846 604M1133 520L739 644" stroke-opacity="0.13"/>
<path d="M656 528L649 464M656 528L814 474M656 528L766 576M656 528L646 655" stroke-opacity="0.13"/>
<path d="M778 538L902 819M778 538L610 590" stroke-opacity="0.13"/>
<path d="M280 562L557 493M280 562L569 777M280 562L592 839" stroke-opacity="0.13"/>
<path d="M327 558L245 712M327 558L536 809M327 558L507 660" stroke-opacity="0.13"/>
<path d="M429 565L403 602M429 565L536 809M429 565L544 610M429 565L541 724" stroke-opacity="0.13"/>
<path d="M469 560L549 780M469 560L510 608M469 560L520 626M469 560L604 716" stroke-opacity="0.13"/>
<path d="M272 600L164 699M272 600L446 678M272 600L368 701" stroke-opacity="0.13"/>
<path d="M403 602L720 577" stroke-opacity="0.13"/>
<path d="M326 615L423 670" stroke-opacity="0.13"/>
<path d="M796 596L861 522M796 596L651 588M796 596L760 652M796 596L422 904" stroke-opacity="0.13"/>
<path d="M1032 652L732 532M1032 652L877 540M1032 652L710 546" stroke-opacity="0.13"/>
<path d="M961 677L737 467M961 677L732 532M961 677L643 568M961 677L846 604M961 677L760 626M961 677L567 699" stroke-opacity="0.13"/>
<path d="M927 696L752 700" stroke-opacity="0.13"/>
<path d="M164 699L689 769" stroke-opacity="0.13"/>
<path d="M245 712L446 634" stroke-opacity="0.13"/>
<path d="M752 700L618 468M752 700L731 502M752 700L671 553M752 700L697 642M752 700L646 655" stroke-opacity="0.13"/>
<path d="M792 700L1046 778M792 700L712 434M792 700L640 508M792 700L830 666M792 700L461 874" stroke-opacity="0.13"/>
<path d="M864 706L580 454M864 706L866 500M864 706L580 520M864 706L1001 558M864 706L903 590M864 706L830 666" stroke-opacity="0.13"/>
<path d="M647 714L732 532M647 714L753 537M647 714L685 571M647 714L720 577M647 714L652 623M647 714L558 656M647 714L540 696" stroke-opacity="0.13"/>
<path d="M718 739L753 537M718 739L643 568M718 739L651 588M718 739L846 604M718 739L624 614M718 739L739 644M718 739L567 699" stroke-opacity="0.13"/>
<path d="M735 730L753 537M735 730L710 546M735 730L720 577M735 730L541 724M735 730L376 783" stroke-opacity="0.13"/>
<path d="M852 759L649 464M852 759L685 571M852 759L383 864" stroke-opacity="0.13"/>
<path d="M746 791L685 571M746 791L760 626" stroke-opacity="0.13"/>
<path d="M835 787L651 588" stroke-opacity="0.13"/>
<path d="M972 787L690 479M972 787L699 519M972 787L766 576M972 787L822 636" stroke-opacity="0.13"/>
<path d="M902 819L926 919M902 819L807 970M902 819L720 577M902 819L876 588" stroke-opacity="0.13"/>
<path d="M926 919L643 568" stroke-opacity="0.13"/>
<path d="M807 970L697 642M807 970L686 701" stroke-opacity="0.13"/>
<path d="M809 303L710 546M809 303L903 590" stroke-opacity="0.13"/>
<path d="M636 402L802 518M636 402L1001 558" stroke-opacity="0.13"/>
<path d="M712 434L544 610" stroke-opacity="0.13"/>
<path d="M843 446L649 464M843 446L861 522" stroke-opacity="0.13"/>
<path d="M580 454L482 730M580 454L543 890" stroke-opacity="0.13"/>
<path d="M649 464L720 577M649 464L569 777" stroke-opacity="0.13"/>
<path d="M618 468L830 666M618 468L595 775" stroke-opacity="0.13"/>
<path d="M737 467L1001 558M737 467L465 608" stroke-opacity="0.13"/>
<path d="M690 479L720 577M690 479L541 724" stroke-opacity="0.13"/>
<path d="M814 474L927 514M814 474L830 666M814 474L520 626" stroke-opacity="0.13"/>
<path d="M557 493L802 518M557 493L742 602M557 493L465 608M557 493L510 608" stroke-opacity="0.13"/>
<path d="M755 491L710 546" stroke-opacity="0.13"/>
<path d="M731 502L822 636" stroke-opacity="0.13"/>
<path d="M866 500L861 522M866 500L672 588M866 500L846 604" stroke-opacity="0.13"/>
<path d="M640 508L690 865" stroke-opacity="0.13"/>
<path d="M580 520L760 652" stroke-opacity="0.13"/>
<path d="M682 525L903 590M682 525L646 655M682 525L339 842" stroke-opacity="0.13"/>
<path d="M699 519L846 604M699 519L509 724M699 519L604 716" stroke-opacity="0.13"/>
<path d="M802 518L797 625" stroke-opacity="0.13"/>
<path d="M861 522L1001 558M861 522L486 898" stroke-opacity="0.13"/>
<path d="M732 532L530 551M732 532L797 625M732 532L697 642M732 532L521 774M732 532L568 665" stroke-opacity="0.13"/>
<path d="M753 537L552 568M753 537L646 655M753 537L465 608M753 537L586 609M753 537L541 724M753 537L574 719" stroke-opacity="0.13"/>
<path d="M618 548L760 652M618 548L543 890M618 548L482 763" stroke-opacity="0.13"/>
<path d="M710 546L903 590M710 546L482 730M710 546L648 846M710 546L507 660M710 546L587 678M710 546L604 716M710 546L482 763M710 546L373 813" stroke-opacity="0.13"/>
<path d="M804 550L624 614M804 550L510 608M804 550L544 610" stroke-opacity="0.13"/>
<path d="M671 553L758 750M671 553L595 775" stroke-opacity="0.13"/>
<path d="M1001 558L766 576M1001 558L587 678" stroke-opacity="0.13"/>
<path d="M596 558L446 634" stroke-opacity="0.13"/>
<path d="M552 568L482 730M552 568L536 809M552 568L510 608M552 568L568 665M552 568L563 744M552 568L422 782M552 568L401 942" stroke-opacity="0.13"/>
<path d="M643 568L690 865" stroke-opacity="0.13"/>
<path d="M685 571L651 588M685 571L502 833" stroke-opacity="0.13"/>
<path d="M720 577L666 678M720 577L446 947" stroke-opacity="0.13"/>
<path d="M766 576L903 590M766 576L610 590M766 576L667 650M766 576L603 691M766 576L818 702M766 576L615 642M766 576L488 650" stroke-opacity="0.13"/>
<path d="M876 588L672 588M876 588L604 716M876 588L351 750" stroke-opacity="0.13"/>
<path d="M903 590L739 644" stroke-opacity="0.13"/>
<path d="M610 590L543 890M610 590L461 874" stroke-opacity="0.13"/>
<path d="M651 588L549 780" stroke-opacity="0.13"/>
<path d="M672 588L587 678" stroke-opacity="0.13"/>
<path d="M742 602L818 702M742 602L415 640M742 602L568 665M742 602L563 744" stroke-opacity="0.13"/>
<path d="M846 604L507 660M846 604L541 724M846 604L563 744" stroke-opacity="0.13"/>
<path d="M624 614L830 666M624 614L495 698" stroke-opacity="0.13"/>
<path d="M652 623L615 642M652 623L604 716" stroke-opacity="0.13"/>
<path d="M760 626L686 701M760 626L435 815" stroke-opacity="0.13"/>
<path d="M797 625L495 698M797 625L502 833M797 625L446 947" stroke-opacity="0.13"/>
<path d="M822 636L615 642" stroke-opacity="0.13"/>
<path d="M697 642L595 775" stroke-opacity="0.13"/>
<path d="M739 644L645 693M739 644L422 782" stroke-opacity="0.13"/>
<path d="M667 650L758 750M667 650L595 775M667 650L586 609M667 650L468 653M667 650L446 947" stroke-opacity="0.13"/>
<path d="M760 652L615 642M760 652L383 864" stroke-opacity="0.13"/>
<path d="M558 656L482 730M558 656L511 648M558 656L495 698M558 656L376 783M558 656L475 807" stroke-opacity="0.13"/>
<path d="M646 655L689 769M646 655L502 833" stroke-opacity="0.13"/>
<path d="M800 665L686 701M800 665L544 610" stroke-opacity="0.13"/>
<path d="M830 666L446 678M830 666L474 686" stroke-opacity="0.13"/>
<path d="M666 678L586 609M666 678L540 696" stroke-opacity="0.13"/>
<path d="M706 675L549 780M706 675L556 826M706 675L510 608" stroke-opacity="0.13"/>
<path d="M603 691L482 730M603 691L758 750" stroke-opacity="0.13"/>
<path d="M645 693L556 826M645 693L615 642" stroke-opacity="0.13"/>
<path d="M567 699L758 750M567 699L615 642M567 699L474 686M567 699L475 807" stroke-opacity="0.13"/>
<path d="M686 701L556 826M686 701L376 783" stroke-opacity="0.13"/>
<path d="M482 730L758 750M482 730L415 640M482 730L422 782" stroke-opacity="0.13"/>
<path d="M758 750L549 780M758 750L569 777M758 750L595 775M758 750L690 865M758 750L449 701M758 750L509 724" stroke-opacity="0.13"/>
<path d="M689 769L592 839M689 769L543 890" stroke-opacity="0.13"/>
<path d="M521 774L488 650" stroke-opacity="0.13"/>
<path d="M549 780L495 698" stroke-opacity="0.13"/>
<path d="M595 775L488 650M595 775L568 665" stroke-opacity="0.13"/>
<path d="M536 809L511 648" stroke-opacity="0.13"/>
<path d="M556 826L690 865M556 826L520 685" stroke-opacity="0.13"/>
<path d="M592 839L615 642" stroke-opacity="0.13"/>
<path d="M648 846L481 623M648 846L540 696M648 846L449 701M648 846L541 724" stroke-opacity="0.13"/>
<path d="M690 865L520 626M690 865L423 670" stroke-opacity="0.13"/>
<path d="M543 890L423 670M543 890L540 696M543 890L509 724M543 890L604 716" stroke-opacity="0.13"/>
<path d="M465 608L422 782" stroke-opacity="0.13"/>
<path d="M481 623L376 783" stroke-opacity="0.13"/>
<path d="M520 626L415 733" stroke-opacity="0.13"/>
<path d="M415 640L475 807M415 640L301 864" stroke-opacity="0.13"/>
<path d="M615 642L368 701M615 642L422 782" stroke-opacity="0.13"/>
<path d="M468 653L446 947" stroke-opacity="0.13"/>
<path d="M488 650L415 733" stroke-opacity="0.13"/>
<path d="M507 660L373 813" stroke-opacity="0.13"/>
<path d="M568 665L475 807" stroke-opacity="0.13"/>
<path d="M423 670L373 813" stroke-opacity="0.13"/>
<path d="M587 678L461 874" stroke-opacity="0.13"/>
<path d="M474 686L486 898" stroke-opacity="0.13"/>
<path d="M520 685L475 807M520 685L461 874" stroke-opacity="0.13"/>
<path d="M495 698L368 701M495 698L373 813M495 698L502 833M495 698L360 872M495 698L486 898" stroke-opacity="0.13"/>
<path d="M540 696L383 864" stroke-opacity="0.13"/>
<path d="M449 701L461 843M449 701L461 874" stroke-opacity="0.13"/>
<path d="M509 724L422 782" stroke-opacity="0.13"/>
<path d="M541 724L422 782M541 724L313 817M541 724L502 833" stroke-opacity="0.13"/>
<path d="M574 719L435 815M574 719L446 947" stroke-opacity="0.13"/>
<path d="M563 744L413 856" stroke-opacity="0.13"/>
<path d="M368 701L373 813M368 701L435 815M368 701L339 842" stroke-opacity="0.13"/>
<path d="M376 783L401 942" stroke-opacity="0.13"/>
<path d="M422 782L368 906" stroke-opacity="0.13"/>
<path d="M373 813L422 904" stroke-opacity="0.13"/>
<path d="M482 128L503 270M482 128L575 290M482 128L814 474M482 128L488 650" stroke-opacity="0.14"/>
<path d="M515 128L606 300" stroke-opacity="0.14"/>
<path d="M621 146L537 270M621 146L843 446M621 146L465 608" stroke-opacity="0.14"/>
<path d="M538 170L766 576" stroke-opacity="0.14"/>
<path d="M603 262L755 491M603 262L587 678" stroke-opacity="0.14"/>
<path d="M676 265L690 479M676 265L802 518" stroke-opacity="0.14"/>
<path d="M503 270L760 652" stroke-opacity="0.14"/>
<path d="M537 270L478 502M537 270L280 562M537 270L544 610M537 270L446 678" stroke-opacity="0.14"/>
<path d="M660 285L442 340M660 285L370 489M660 285L814 474M660 285L742 602M660 285L760 652M660 285L604 716" stroke-opacity="0.14"/>
<path d="M575 290L606 300M575 290L491 397M575 290L760 626M575 290L507 660M575 290L587 678" stroke-opacity="0.14"/>
<path d="M606 300L469 560M606 300L618 468M606 300L580 520M606 300L446 634" stroke-opacity="0.14"/>
<path d="M471 308L442 340M471 308L307 353M471 308L446 678M471 308L449 701" stroke-opacity="0.14"/>
<path d="M717 311L586 609" stroke-opacity="0.14"/>
<path d="M364 310L470 438" stroke-opacity="0.14"/>
<path d="M442 340L369 405M442 340L274 283M442 340L491 397M442 340L690 479M442 340L481 623M442 340L495 698" stroke-opacity="0.14"/>
<path d="M722 341L697 642M722 341L468 653M722 341L604 716" stroke-opacity="0.14"/>
<path d="M307 353L179 445M307 353L509 482M307 353L530 551" stroke-opacity="0.14"/>
<path d="M280 428L179 445M280 428L478 502M280 428L802 518" stroke-opacity="0.14"/>
<path d="M470 438L495 698" stroke-opacity="0.14"/>
<path d="M603 433L491 397M603 433L509 482M603 433L587 678M603 433L376 783" stroke-opacity="0.14"/>
<path d="M441 482L429 565M441 482L649 464M441 482L568 665M441 482L461 874" stroke-opacity="0.14"/>
<path d="M255 258L326 615" stroke-opacity="0.14"/>
<path d="M403 366L327 558M403 366L603 691M403 366L465 608M403 366L474 686" stroke-opacity="0.14"/>
<path d="M491 397L507 660" stroke-opacity="0.14"/>
<path d="M603 399L552 568M603 399L672 588" stroke-opacity="0.14"/>
<path d="M821 426L656 528M821 426L752 700M821 426L809 303M821 426L720 577M821 426L624 614" stroke-opacity="0.14"/>
<path d="M116 446L280 562M116 446L465 608" stroke-opacity="0.14"/>
<path d="M348 448L521 774M348 448L556 826M348 448L520 626M348 448L511 648" stroke-opacity="0.14"/>
<path d="M853 475L1046 778M853 475L926 919M853 475L814 474M853 475L699 519M853 475L877 540" stroke-opacity="0.14"/>
<path d="M318 485L596 746M318 485L544 610M318 485L587 678" stroke-opacity="0.14"/>
<path d="M370 489L411 522M370 489L543 890" stroke-opacity="0.14"/>
<path d="M509 482L640 508M509 482L520 685" stroke-opacity="0.14"/>
<path d="M478 502L327 558" stroke-opacity="0.14"/>
<path d="M411 522L413 856" stroke-opacity="0.14"/>
<path d="M656 528L710 546M656 528L797 625M656 528L667 650" stroke-opacity="0.14"/>
<path d="M778 538L731 502M778 538L618 548M778 538L586 609" stroke-opacity="0.14"/>
<path d="M280 562L540 696M280 562L509 724" stroke-opacity="0.14"/>
<path d="M327 558L415 640M327 558L423 670" stroke-opacity="0.14"/>
<path d="M429 565L603 691M429 565L689 769M429 565L521 774M429 565L465 608M429 565L520 626" stroke-opacity="0.14"/>
<path d="M272 600L482 730M272 600L549 780" stroke-opacity="0.14"/>
<path d="M403 602L164 699M403 602L580 520M403 602L521 774M403 602L415 640M403 602L446 678" stroke-opacity="0.14"/>
<path d="M326 615L530 551M326 615L595 775" stroke-opacity="0.14"/>
<path d="M796 596L804 550M796 596L624 614" stroke-opacity="0.14"/>
<path d="M1032 652L972 787" stroke-opacity="0.14"/>
<path d="M961 677L735 730M961 677L682 525M961 677L618 548" stroke-opacity="0.14"/>
<path d="M927 696L802 518M927 696L876 588M927 696L903 590M927 696L760 626M927 696L558 656" stroke-opacity="0.14"/>
<path d="M164 699L313 817" stroke-opacity="0.14"/>
<path d="M752 700L760 652M752 700L666 678" stroke-opacity="0.14"/>
<path d="M792 700L530 551M792 700L804 550M792 700L666 678M792 700L604 716" stroke-opacity="0.14"/>
<path d="M864 706L672 588M864 706L697 642M864 706L646 655" stroke-opacity="0.14"/>
<path d="M647 714L574 719" stroke-opacity="0.14"/>
<path d="M718 739L926 919M718 739L646 655M718 739L520 685" stroke-opacity="0.14"/>
<path d="M735 730L902 819M735 730L686 701" stroke-opacity="0.14"/>
<path d="M852 759L682 525M852 759L697 642" stroke-opacity="0.14"/>
<path d="M746 791L753 537M746 791L552 568M746 791L903 590M746 791L846 604M746 791L563 744" stroke-opacity="0.14"/>
<path d="M835 787L720 577M835 787L846 604" stroke-opacity="0.14"/>
<path d="M902 819L712 434M902 819L699 519M902 819L645 693" stroke-opacity="0.14"/>
<path d="M926 919L624 614" stroke-opacity="0.14"/>
<path d="M807 970L830 666" stroke-opacity="0.14"/>
<path d="M809 303L1001 558M809 303L520 685" stroke-opacity="0.14"/>
<path d="M636 402L423 670" stroke-opacity="0.14"/>
<path d="M712 434L804 550M712 434L502 833" stroke-opacity="0.14"/>
<path d="M666 444L624 614" stroke-opacity="0.14"/>
<path d="M843 446L615 642" stroke-opacity="0.14"/>
<path d="M580 454L732 532M580 454L481 623M580 454L563 744" stroke-opacity="0.14"/>
<path d="M618 468L877 540M618 468L804 550" stroke-opacity="0.14"/>
<path d="M737 467L760 626M737 467L800 665M737 467L596 746" stroke-opacity="0.14"/>
<path d="M690 479L507 660" stroke-opacity="0.14"/>
<path d="M814 474L640 508M814 474L877 540M814 474L446 947" stroke-opacity="0.14"/>
<path d="M557 493L618 548M557 493L488 650M557 493L313 817" stroke-opacity="0.14"/>
<path d="M755 491L618 548M755 491L742 602M755 491L652 623M755 491L706 675M755 491L511 648M755 491L422 782" stroke-opacity="0.14"/>
<path d="M731 502L800 665M731 502L596 746M731 502L563 744M731 502L422 782" stroke-opacity="0.14"/>
<path d="M866 500L732 532M866 500L671 553" stroke-opacity="0.14"/>
<path d="M640 508L903 590M640 508L830 666M640 508L596 746" stroke-opacity="0.14"/>
<path d="M927 514L603 691M927 514L586 609M927 514L587 678" stroke-opacity="0.14"/>
<path d="M580 520L760 626" stroke-opacity="0.14"/>
<path d="M682 525L536 809" stroke-opacity="0.14"/>
<path d="M699 519L742 602M699 519L339 842" stroke-opacity="0.14"/>
<path d="M802 518L742 602M802 518L563 744" stroke-opacity="0.14"/>
<path d="M861 522L666 678M861 522L706 675M861 522L686 701M861 522L511 648" stroke-opacity="0.14"/>
<path d="M732 532L753 537M732 532L486 898" stroke-opacity="0.14"/>
<path d="M877 540L446 634" stroke-opacity="0.14"/>
<path d="M618 548L482 730M618 548L569 777M618 548L415 733" stroke-opacity="0.14"/>
<path d="M710 546L876 588M710 546L568 665M710 546L509 724" stroke-opacity="0.14"/>
<path d="M804 550L465 608M804 550L520 626" stroke-opacity="0.14"/>
<path d="M671 553L822 636M671 553L465 608M671 553L544 610M671 553L481 623M671 553L383 864" stroke-opacity="0.14"/>
<path d="M596 558L587 678" stroke-opacity="0.14"/>
<path d="M643 568L413 856" stroke-opacity="0.14"/>
<path d="M685 571L568 665M685 571L482 763" stroke-opacity="0.14"/>
<path d="M766 576L797 625M766 576L706 675M766 576L481 623" stroke-opacity="0.14"/>
<path d="M876 588L760 626M876 588L544 610M876 588L461 874" stroke-opacity="0.14"/>
<path d="M903 590L760 626M903 590L646 655M903 590L544 610M903 590L474 686" stroke-opacity="0.14"/>
<path d="M610 590L686 701M610 590L511 648M610 590L368 701" stroke-opacity="0.14"/>
<path d="M651 588L645 693M651 588L482 730M651 588L520 626" stroke-opacity="0.14"/>
<path d="M672 588L846 604M672 588L567 699M672 588L689 769M672 588L586 609M672 588L383 864" stroke-opacity="0.14"/>
<path d="M742 602L586 609M742 602L495 698M742 602L540 696" stroke-opacity="0.14"/>
<path d="M624 614L818 702" stroke-opacity="0.14"/>
<path d="M652 623L646 655" stroke-opacity="0.14"/>
<path d="M760 626L797 625M760 626L474 686M760 626L540 696M760 626L502 833" stroke-opacity="0.14"/>
<path d="M797 625L488 650" stroke-opacity="0.14"/>
<path d="M822 636L568 665M822 636L474 686" stroke-opacity="0.14"/>
<path d="M697 642L368 906" stroke-opacity="0.14"/>
<path d="M739 644L486 898" stroke-opacity="0.14"/>
<path d="M667 650L615 642M667 650L482 763" stroke-opacity="0.14"/>
<path d="M760 652L686 701M760 652L468 653M760 652L495 698M760 652L376 783" stroke-opacity="0.14"/>
<path d="M558 656L510 608M558 656L351 750" stroke-opacity="0.14"/>
<path d="M646 655L596 746M646 655L465 608" stroke-opacity="0.14"/>
<path d="M800 665L604 716" stroke-opacity="0.14"/>
<path d="M666 678L567 699M666 678L689 769M666 678L520 685M666 678L604 716" stroke-opacity="0.14"/>
<path d="M706 675L563 744" stroke-opacity="0.14"/>
<path d="M603 691L587 678" stroke-opacity="0.14"/>
<path d="M645 693L758 750M645 693L435 815M645 693L502 833" stroke-opacity="0.14"/>
<path d="M567 699L301 864" stroke-opacity="0.14"/>
<path d="M686 701L549 780M686 701L586 609M686 701L415 733M686 701L461 874" stroke-opacity="0.14"/>
<path d="M818 702L475 807M818 702L486 898" stroke-opacity="0.14"/>
<path d="M596 746L510 608" stroke-opacity="0.14"/>
<path d="M758 750L544 610M758 750L586 609" stroke-opacity="0.14"/>
<path d="M689 769L690 865" stroke-opacity="0.14"/>
<path d="M521 774L536 809M521 774L520 626" stroke-opacity="0.14"/>
<path d="M549 780L520 626M549 780L604 716" stroke-opacity="0.14"/>
<path d="M569 777L586 609M569 777L468 653" stroke-opacity="0.14"/>
<path d="M595 775L592 839M595 775L446 678" stroke-opacity="0.14"/>
<path d="M536 809L510 608M536 809L507 660M536 809L587 678M536 809L509 724M536 809L574 719" stroke-opacity="0.14"/>
<path d="M592 839L488 650" stroke-opacity="0.14"/>
<path d="M648 846L544 610" stroke-opacity="0.14"/>
<path d="M690 865L586 609" stroke-opacity="0.14"/>
<path d="M543 890L568 665M543 890L563 744" stroke-opacity="0.14"/>
<path d="M465 608L482 763" stroke-opacity="0.14"/>
<path d="M544 610L502 833" stroke-opacity="0.14"/>
<path d="M586 609L415 733" stroke-opacity="0.14"/>
<path d="M481 623L415 733M481 623L422 782M481 623L301 864" stroke-opacity="0.14"/>
<path d="M415 640L415 733" stroke-opacity="0.14"/>
<path d="M468 653L415 733M468 653L435 815" stroke-opacity="0.14"/>
<path d="M507 660L368 701" stroke-opacity="0.14"/>
<path d="M446 678L413 856" stroke-opacity="0.14"/>
<path d="M587 678L435 815M587 678L339 842M587 678L413 856" stroke-opacity="0.14"/>
<path d="M474 686L422 782" stroke-opacity="0.14"/>
<path d="M495 698L415 733M495 698L475 807" stroke-opacity="0.14"/>
<path d="M449 701L446 947" stroke-opacity="0.14"/>
<path d="M509 724L435 815M509 724L486 898" stroke-opacity="0.14"/>
<path d="M541 724L482 763M541 724L301 864M541 724L401 942" stroke-opacity="0.14"/>
<path d="M574 719L422 904" stroke-opacity="0.14"/>
<path d="M563 744L301 864M563 744L486 898" stroke-opacity="0.14"/>
<path d="M313 817L461 843" stroke-opacity="0.14"/>
<path d="M475 807L383 864" stroke-opacity="0.14"/>
<path d="M339 842L486 898" stroke-opacity="0.14"/>
<path d="M422 904L446 947" stroke-opacity="0.14"/>
<path d="M482 128L606 300" stroke-opacity="0.15"/>
<path d="M515 128L676 265M515 128L478 502" stroke-opacity="0.15"/>
<path d="M621 146L717 311" stroke-opacity="0.15"/>
<path d="M538 170L537 270M538 170L586 609" stroke-opacity="0.15"/>
<path d="M758 228L491 397M758 228L731 502" stroke-opacity="0.15"/>
<path d="M603 262L326 615M603 262L809 303" stroke-opacity="0.15"/>
<path d="M676 265L471 308M676 265L809 303M676 265L507 660" stroke-opacity="0.15"/>
<path d="M503 270L690 479M503 270L753 537" stroke-opacity="0.15"/>
<path d="M537 270L471 308M537 270L442 340M537 270L318 485M537 270L509 482M537 270L411 522" stroke-opacity="0.15"/>
<path d="M660 285L327 558M660 285L710 546M660 285L672 588M660 285L446 634" stroke-opacity="0.15"/>
<path d="M606 300L666 444M606 300L446 678" stroke-opacity="0.15"/>
<path d="M471 308L280 428M471 308L327 558M471 308L618 468M471 308L446 634" stroke-opacity="0.15"/>
<path d="M717 311L470 438M717 311L742 602M717 311L446 634" stroke-opacity="0.15"/>
<path d="M364 310L411 522" stroke-opacity="0.15"/>
<path d="M442 340L603 433M442 340L441 482M442 340L666 444M442 340L557 493" stroke-opacity="0.15"/>
<path d="M722 341L876 588M722 341L822 636M722 341L586 609M722 341L568 665M722 341L520 685M722 341L449 701M722 341L563 744" stroke-opacity="0.15"/>
<path d="M369 405L470 438M369 405L446 634" stroke-opacity="0.15"/>
<path d="M280 428L116 446M280 428L348 448M280 428L509 482" stroke-opacity="0.15"/>
<path d="M470 438L580 454M470 438L465 608M470 438L511 648M470 438L446 678" stroke-opacity="0.15"/>
<path d="M603 433L411 522M603 433L557 493" stroke-opacity="0.15"/>
<path d="M441 482L348 448M441 482L530 551" stroke-opacity="0.15"/>
<path d="M255 258L348 448" stroke-opacity="0.15"/>
<path d="M274 283L411 522" stroke-opacity="0.15"/>
<path d="M491 397L468 653M491 397L423 670" stroke-opacity="0.15"/>
<path d="M603 399L647 714M603 399L927 514M603 399L699 519M603 399L624 614M603 399L507 660" stroke-opacity="0.15"/>
<path d="M821 426L961 677M821 426L852 759M821 426L866 500" stroke-opacity="0.15"/>
<path d="M116 446L423 670" stroke-opacity="0.15"/>
<path d="M179 445L164 699M179 445L474 686" stroke-opacity="0.15"/>
<path d="M348 448L164 699" stroke-opacity="0.15"/>
<path d="M853 475L618 468M853 475L737 467M853 475L643 568M853 475L685 571M853 475L822 636M853 475L830 666" stroke-opacity="0.15"/>
<path d="M318 485L245 712M318 485L568 665" stroke-opacity="0.15"/>
<path d="M370 489L587 678" stroke-opacity="0.15"/>
<path d="M509 482L446 678" stroke-opacity="0.15"/>
<path d="M478 502L326 615M478 502L689 769" stroke-opacity="0.15"/>
<path d="M656 528L610 590M656 528L739 644" stroke-opacity="0.15"/>
<path d="M778 538L737 467M778 538L797 625" stroke-opacity="0.15"/>
<path d="M280 562L465 608M280 562L415 640" stroke-opacity="0.15"/>
<path d="M429 565L423 670M429 565L449 701" stroke-opacity="0.15"/>
<path d="M469 560L481 623M469 560L540 696" stroke-opacity="0.15"/>
<path d="M272 600L520 685" stroke-opacity="0.15"/>
<path d="M403 602L482 730" stroke-opacity="0.15"/>
<path d="M326 615L510 608M326 615L446 678M326 615L509 724M326 615L313 817" stroke-opacity="0.15"/>
<path d="M796 596L846 604" stroke-opacity="0.15"/>
<path d="M1032 652L835 787" stroke-opacity="0.15"/>
<path d="M961 677L814 474M961 677L720 577M961 677L903 590" stroke-opacity="0.15"/>
<path d="M927 696L877 540" stroke-opacity="0.15"/>
<path d="M245 712L648 846M245 712L520 626" stroke-opacity="0.15"/>
<path d="M752 700L1046 778M752 700L807 970M752 700L636 402M752 700L710 546M752 700L520 685M752 700L422 782" stroke-opacity="0.15"/>
<path d="M792 700L552 568" stroke-opacity="0.15"/>
<path d="M864 706L682 525M864 706L468 653" stroke-opacity="0.15"/>
<path d="M647 714L666 678" stroke-opacity="0.15"/>
<path d="M735 730L618 468M735 730L846 604" stroke-opacity="0.15"/>
<path d="M852 759L804 550M852 759L822 636" stroke-opacity="0.15"/>
<path d="M746 791L636 402" stroke-opacity="0.15"/>
<path d="M835 787L636 402M835 787L618 548" stroke-opacity="0.15"/>
<path d="M972 787L712 434M972 787L760 626" stroke-opacity="0.15"/>
<path d="M926 919L807 970" stroke-opacity="0.15"/>
<path d="M809 303L927 514M809 303L766 576M809 303L667 650" stroke-opacity="0.15"/>
<path d="M636 402L742 602M636 402L760 626M636 402L543 890M636 402L510 608M636 402L415 733M636 402L413 856" stroke-opacity="0.15"/>
<path d="M712 434L818 702M712 434L758 750" stroke-opacity="0.15"/>
<path d="M666 444L818 702M666 444L758 750" stroke-opacity="0.15"/>
<path d="M843 446L804 550M843 446L846 604M843 446L544 610" stroke-opacity="0.15"/>
<path d="M580 454L645 693M580 454L520 685" stroke-opacity="0.15"/>
<path d="M649 464L814 474M649 464L648 846M649 464L482 763" stroke-opacity="0.15"/>
<path d="M737 467L822 636M737 467L758 750M737 467L540 696" stroke-opacity="0.15"/>
<path d="M690 479L1001 558M690 479L596 558M690 479L569 777M690 479L536 809" stroke-opacity="0.15"/>
<path d="M814 474L544 610M814 474L383 864" stroke-opacity="0.15"/>
<path d="M557 493L586 609M557 493L422 782" stroke-opacity="0.15"/>
<path d="M755 491L903 590M755 491L760 626" stroke-opacity="0.15"/>
<path d="M731 502L699 519M731 502L753 537M731 502L1001 558M731 502L592 839" stroke-opacity="0.15"/>
<path d="M640 508L753 537" stroke-opacity="0.15"/>
<path d="M580 520L861 522M580 520L544 610M580 520L615 642" stroke-opacity="0.15"/>
<path d="M682 525L368 701" stroke-opacity="0.15"/>
<path d="M699 519L689 769M699 519L615 642M699 519L461 843" stroke-opacity="0.15"/>
<path d="M861 522L760 626" stroke-opacity="0.15"/>
<path d="M732 532L482 730M732 532L586 609M732 532L415 733" stroke-opacity="0.15"/>
<path d="M753 537L760 626" stroke-opacity="0.15"/>
<path d="M877 540L667 650M877 540L415 640M877 540L488 650M877 540L520 685" stroke-opacity="0.15"/>
<path d="M618 548L563 744" stroke-opacity="0.15"/>
<path d="M710 546L742 602M710 546L569 777M710 546L520 685" stroke-opacity="0.15"/>
<path d="M804 550L558 656" stroke-opacity="0.15"/>
<path d="M1001 558L760 652" stroke-opacity="0.15"/>
<path d="M596 558L482 730M596 558L543 890" stroke-opacity="0.15"/>
<path d="M552 568L474 686" stroke-opacity="0.15"/>
<path d="M643 568L556 826" stroke-opacity="0.15"/>
<path d="M685 571L800 665M685 571L511 648M685 571L541 724" stroke-opacity="0.15"/>
<path d="M720 577L742 602M720 577L587 678" stroke-opacity="0.15"/>
<path d="M766 576L646 655M766 576L830 666M766 576L507 660M766 576L540 696" stroke-opacity="0.15"/>
<path d="M876 588L797 625" stroke-opacity="0.15"/>
<path d="M903 590L563 744" stroke-opacity="0.15"/>
<path d="M651 588L475 807" stroke-opacity="0.15"/>
<path d="M672 588L648 846M672 588L488 650" stroke-opacity="0.15"/>
<path d="M742 602L624 614M742 602L604 716" stroke-opacity="0.15"/>
<path d="M846 604L624 614M846 604L800 665M846 604L568 665" stroke-opacity="0.15"/>
<path d="M624 614L549 780M624 614L422 782" stroke-opacity="0.15"/>
<path d="M652 623L818 702M652 623L482 730M652 623L569 777M652 623L587 678" stroke-opacity="0.15"/>
<path d="M760 626L760 652M760 626L465 608M760 626L495 698" stroke-opacity="0.15"/>
<path d="M822 636L739 644M822 636L587 678" stroke-opacity="0.15"/>
<path d="M697 642L520 626M697 642L615 642M697 642L541 724" stroke-opacity="0.15"/>
<path d="M739 644L509 724M739 644L475 807" stroke-opacity="0.15"/>
<path d="M667 650L521 774M667 650L544 610M667 650L435 815" stroke-opacity="0.15"/>
<path d="M760 652L800 665" stroke-opacity="0.15"/>
<path d="M558 656L422 782M558 656L368 906" stroke-opacity="0.15"/>
<path d="M800 665L488 650M800 665L540 696M800 665L373 813" stroke-opacity="0.15"/>
<path d="M830 666L586 609" stroke-opacity="0.15"/>
<path d="M666 678L587 678M666 678L422 904" stroke-opacity="0.15"/>
<path d="M706 675L568 665" stroke-opacity="0.15"/>
<path d="M603 691L648 846M603 691L543 890" stroke-opacity="0.15"/>
<path d="M645 693L549 780M645 693L563 744" stroke-opacity="0.15"/>
<path d="M567 699L468 653M567 699L495 698" stroke-opacity="0.15"/>
<path d="M686 701L520 626" stroke-opacity="0.15"/>
<path d="M818 702L574 719" stroke-opacity="0.15"/>
<path d="M482 730L543 890M482 730L544 610M482 730L446 634M482 730L509 724" stroke-opacity="0.15"/>
<path d="M758 750L536 809M758 750L604 716" stroke-opacity="0.15"/>
<path d="M549 780L536 809" stroke-opacity="0.15"/>
<path d="M569 777L556 826" stroke-opacity="0.15"/>
<path d="M595 775L690 865M595 775L468 653M595 775L541 724" stroke-opacity="0.15"/>
<path d="M536 809L495 698" stroke-opacity="0.15"/>
<path d="M556 826L543 890M556 826L465 608M556 826L563 744" stroke-opacity="0.15"/>
<path d="M648 846L510 608M648 846L586 609" stroke-opacity="0.15"/>
<path d="M690 865L481 623M690 865L615 642M690 865L511 648M690 865L509 724" stroke-opacity="0.15"/>
<path d="M543 890L468 653" stroke-opacity="0.15"/>
<path d="M510 608L422 782" stroke-opacity="0.15"/>
<path d="M544 610L486 898" stroke-opacity="0.15"/>
<path d="M586 609L461 874" stroke-opacity="0.15"/>
<path d="M481 623L502 833" stroke-opacity="0.15"/>
<path d="M446 634L502 833" stroke-opacity="0.15"/>
<path d="M468 653L376 783" stroke-opacity="0.15"/>
<path d="M488 650L482 763" stroke-opacity="0.15"/>
<path d="M507 660L422 782M507 660L301 864" stroke-opacity="0.15"/>
<path d="M423 670L422 904" stroke-opacity="0.15"/>
<path d="M446 678L368 906" stroke-opacity="0.15"/>
<path d="M587 678L446 947" stroke-opacity="0.15"/>
<path d="M520 685L360 872" stroke-opacity="0.15"/>
<path d="M540 696L415 733M540 696L475 807" stroke-opacity="0.15"/>
<path d="M449 701L368 906" stroke-opacity="0.15"/>
<path d="M509 724L415 733" stroke-opacity="0.15"/>
<path d="M541 724L373 813M541 724L475 807M541 724L461 843" stroke-opacity="0.15"/>
<path d="M574 719L502 833" stroke-opacity="0.15"/>
<path d="M604 716L482 763" stroke-opacity="0.15"/>
<path d="M368 701L413 856" stroke-opacity="0.15"/>
<path d="M351 750L461 843M351 750L413 856" stroke-opacity="0.15"/>
<path d="M482 763L475 807" stroke-opacity="0.15"/>
<path d="M422 782L422 904" stroke-opacity="0.15"/>
<path d="M461 843L446 947" stroke-opacity="0.15"/>
<path d="M319 156L503 270M319 156L423 670" stroke-opacity="0.16"/>
<path d="M482 128L274 283M482 128L568 665" stroke-opacity="0.16"/>
<path d="M515 128L509 482" stroke-opacity="0.16"/>
<path d="M621 146L471 308M621 146L722 341" stroke-opacity="0.16"/>
<path d="M538 170L446 634" stroke-opacity="0.16"/>
<path d="M594 180L369 405M594 180L478 502" stroke-opacity="0.16"/>
<path d="M758 228L732 532M758 228L903 590" stroke-opacity="0.16"/>
<path d="M603 262L364 310M603 262L468 653M603 262L449 701" stroke-opacity="0.16"/>
<path d="M676 265L537 270M676 265L660 285M676 265L755 491" stroke-opacity="0.16"/>
<path d="M503 270L429 565" stroke-opacity="0.16"/>
<path d="M537 270L364 310" stroke-opacity="0.16"/>
<path d="M660 285L722 341M660 285L666 444" stroke-opacity="0.16"/>
<path d="M575 290L364 310M575 290L604 716" stroke-opacity="0.16"/>
<path d="M606 300L478 502M606 300L682 525M606 300L520 626" stroke-opacity="0.16"/>
<path d="M471 308L403 366M471 308L666 444" stroke-opacity="0.16"/>
<path d="M717 311L731 502" stroke-opacity="0.16"/>
<path d="M364 310L507 660" stroke-opacity="0.16"/>
<path d="M442 340L449 701" stroke-opacity="0.16"/>
<path d="M722 341L403 366M722 341L830 666" stroke-opacity="0.16"/>
<path d="M307 353L370 489M307 353L766 576" stroke-opacity="0.16"/>
<path d="M369 405L403 366" stroke-opacity="0.16"/>
<path d="M280 428L429 565M280 428L495 698" stroke-opacity="0.16"/>
<path d="M470 438L245 712" stroke-opacity="0.16"/>
<path d="M603 433L280 562M603 433L809 303M603 433L544 610M603 433L615 642M603 433L474 686" stroke-opacity="0.16"/>
<path d="M441 482L272 600M441 482L552 568M441 482L586 609M441 482L488 650M441 482L563 744" stroke-opacity="0.16"/>
<path d="M274 283L179 445" stroke-opacity="0.16"/>
<path d="M97 336L272 600" stroke-opacity="0.16"/>
<path d="M403 366L280 562" stroke-opacity="0.16"/>
<path d="M603 399L735 730M603 399L557 493M603 399L682 525M603 399L603 691" stroke-opacity="0.16"/>
<path d="M821 426L636 402M821 426L580 520M821 426L877 540M821 426L530 551M821 426L603 691" stroke-opacity="0.16"/>
<path d="M853 475L766 576" stroke-opacity="0.16"/>
<path d="M370 489L272 600M370 489L672 588" stroke-opacity="0.16"/>
<path d="M509 482L530 551M509 482L520 626" stroke-opacity="0.16"/>
<path d="M478 502L521 774" stroke-opacity="0.16"/>
<path d="M656 528L682 525" stroke-opacity="0.16"/>
<path d="M778 538L699 519M778 538L804 550M778 538L742 602" stroke-opacity="0.16"/>
<path d="M280 562L758 750" stroke-opacity="0.16"/>
<path d="M327 558L511 648" stroke-opacity="0.16"/>
<path d="M429 565L507 660" stroke-opacity="0.16"/>
<path d="M469 560L326 615M469 560L482 730" stroke-opacity="0.16"/>
<path d="M272 600L488 650" stroke-opacity="0.16"/>
<path d="M403 602L510 608M403 602L313 817" stroke-opacity="0.16"/>
<path d="M796 596L755 491M796 596L732 532M796 596L685 571" stroke-opacity="0.16"/>
<path d="M1032 652L671 553" stroke-opacity="0.16"/>
<path d="M927 696L737 467M927 696L710 546" stroke-opacity="0.16"/>
<path d="M164 699L482 730M164 699L507 660" stroke-opacity="0.16"/>
<path d="M752 700L926 919M752 700L685 571M752 700L742 602" stroke-opacity="0.16"/>
<path d="M792 700L1027 708M792 700L699 519M792 700L818 702" stroke-opacity="0.16"/>
<path d="M864 706L852 759" stroke-opacity="0.16"/>
<path d="M1027 708L830 666M1027 708L706 675" stroke-opacity="0.16"/>
<path d="M647 714L735 730M647 714L926 919M647 714L686 701" stroke-opacity="0.16"/>
<path d="M718 739L802 518" stroke-opacity="0.16"/>
<path d="M735 730L746 791M735 730L926 919M735 730L510 608M735 730L568 665" stroke-opacity="0.16"/>
<path d="M852 759L830 666" stroke-opacity="0.16"/>
<path d="M1046 778L835 787M1046 778L672 588" stroke-opacity="0.16"/>
<path d="M746 791L672 588M746 791L706 675" stroke-opacity="0.16"/>
<path d="M835 787L690 479M835 787L822 636M835 787L706 675" stroke-opacity="0.16"/>
<path d="M972 787L737 467M972 787L1001 558" stroke-opacity="0.16"/>
<path d="M809 303L753 537M809 303L568 665" stroke-opacity="0.16"/>
<path d="M666 444L861 522M666 444L800 665" stroke-opacity="0.16"/>
<path d="M649 464L766 576" stroke-opacity="0.16"/>
<path d="M618 468L569 777" stroke-opacity="0.16"/>
<path d="M737 467L567 699" stroke-opacity="0.16"/>
<path d="M814 474L760 626" stroke-opacity="0.16"/>
<path d="M557 493L568 665M557 493L495 698" stroke-opacity="0.16"/>
<path d="M731 502L482 730" stroke-opacity="0.16"/>
<path d="M866 500L580 520" stroke-opacity="0.16"/>
<path d="M640 508L648 846" stroke-opacity="0.16"/>
<path d="M927 514L804 550" stroke-opacity="0.16"/>
<path d="M580 520L569 777M580 520L415 640" stroke-opacity="0.16"/>
<path d="M699 519L753 537" stroke-opacity="0.16"/>
<path d="M802 518L903 590M802 518L672 588M802 518L558 656M802 518L646 655M802 518L615 642" stroke-opacity="0.16"/>
<path d="M861 522L903 590M861 522L742 602M861 522L822 636M861 522L830 666" stroke-opacity="0.16"/>
<path d="M732 532L690 865" stroke-opacity="0.16"/>
<path d="M753 537L596 558M753 537L797 625M753 537L739 644" stroke-opacity="0.16"/>
<path d="M877 540L643 568M877 540L797 625M877 540L558 656M877 540L520 626" stroke-opacity="0.16"/>
<path d="M530 551L710 546M530 551L465 608M530 551L615 642M530 551L422 782" stroke-opacity="0.16"/>
<path d="M618 548L846 604" stroke-opacity="0.16"/>
<path d="M710 546L549 780M710 546L615 642" stroke-opacity="0.16"/>
<path d="M804 550L903 590M804 550L568 665" stroke-opacity="0.16"/>
<path d="M671 553L760 626" stroke-opacity="0.16"/>
<path d="M596 558L544 610M596 558L541 724" stroke-opacity="0.16"/>
<path d="M685 571L760 626" stroke-opacity="0.16"/>
<path d="M766 576L739 644M766 576L520 685" stroke-opacity="0.16"/>
<path d="M876 588L739 644" stroke-opacity="0.16"/>
<path d="M903 590L666 678" stroke-opacity="0.16"/>
<path d="M651 588L449 701" stroke-opacity="0.16"/>
<path d="M672 588L415 640" stroke-opacity="0.16"/>
<path d="M742 602L760 652M742 602L830 666" stroke-opacity="0.16"/>
<path d="M846 604L830 666M846 604L818 702M846 604L446 634M846 604L509 724" stroke-opacity="0.16"/>
<path d="M624 614L603 691M624 614L556 826M624 614L586 609" stroke-opacity="0.16"/>
<path d="M652 623L592 839M652 623L373 813" stroke-opacity="0.16"/>
<path d="M760 626L818 702M760 626L475 807" stroke-opacity="0.16"/>
<path d="M797 625L822 636M797 625L540 696" stroke-opacity="0.16"/>
<path d="M822 636L645 693" stroke-opacity="0.16"/>
<path d="M697 642L569 777M697 642L648 846M697 642L376 783" stroke-opacity="0.16"/>
<path d="M739 644L540 696" stroke-opacity="0.16"/>
<path d="M760 652L544 610" stroke-opacity="0.16"/>
<path d="M558 656L596 746M558 656L481 623M558 656L574 719" stroke-opacity="0.16"/>
<path d="M646 655L543 890M646 655L568 665" stroke-opacity="0.16"/>
<path d="M800 665L520 626M800 665L475 807" stroke-opacity="0.16"/>
<path d="M830 666L818 702" stroke-opacity="0.16"/>
<path d="M666 678L595 775" stroke-opacity="0.16"/>
<path d="M603 691L690 865M603 691L502 833" stroke-opacity="0.16"/>
<path d="M645 693L509 724M645 693L415 733M645 693L373 813" stroke-opacity="0.16"/>
<path d="M567 699L351 750" stroke-opacity="0.16"/>
<path d="M686 701L502 833" stroke-opacity="0.16"/>
<path d="M482 730L474 686" stroke-opacity="0.16"/>
<path d="M596 746L689 769M596 746L481 623" stroke-opacity="0.16"/>
<path d="M758 750L689 769M758 750L520 626M758 750L568 665M758 750L495 698" stroke-opacity="0.16"/>
<path d="M689 769L587 678" stroke-opacity="0.16"/>
<path d="M521 774L510 608" stroke-opacity="0.16"/>
<path d="M549 780L520 685" stroke-opacity="0.16"/>
<path d="M569 777L446 634M569 777L415 640M569 777L615 642M569 777L446 678M569 777L474 686" stroke-opacity="0.16"/>
<path d="M595 775L509 724M595 775L574 719" stroke-opacity="0.16"/>
<path d="M536 809L690 865M536 809L446 634M536 809L488 650" stroke-opacity="0.16"/>
<path d="M592 839L415 640" stroke-opacity="0.16"/>
<path d="M648 846L446 634" stroke-opacity="0.16"/>
<path d="M690 865L510 608M690 865L520 685M690 865L574 719" stroke-opacity="0.16"/>
<path d="M465 608L360 872" stroke-opacity="0.16"/>
<path d="M510 608L435 815" stroke-opacity="0.16"/>
<path d="M481 623L482 763" stroke-opacity="0.16"/>
<path d="M520 626L368 701M520 626L482 763" stroke-opacity="0.16"/>
<path d="M488 650L435 815M488 650L413 856" stroke-opacity="0.16"/>
<path d="M511 648L413 856M511 648L360 872" stroke-opacity="0.16"/>
<path d="M423 670L313 817" stroke-opacity="0.16"/>
<path d="M446 678L376 783M446 678L401 942" stroke-opacity="0.16"/>
<path d="M520 685L301 864" stroke-opacity="0.16"/>
<path d="M495 698L376 783" stroke-opacity="0.16"/>
<path d="M540 696L373 813" stroke-opacity="0.16"/>
<path d="M449 701L422 904" stroke-opacity="0.16"/>
<path d="M509 724L422 904" stroke-opacity="0.16"/>
<path d="M604 716L435 815" stroke-opacity="0.16"/>
<path d="M563 744L360 872" stroke-opacity="0.16"/>
<path d="M415 733L446 947" stroke-opacity="0.16"/>
<path d="M373 813L486 898" stroke-opacity="0.16"/>
<path d="M319 156L364 310" stroke-opacity="0.17"/>
<path d="M482 128L586 609" stroke-opacity="0.17"/>
<path d="M621 146L575 290M621 146L877 540" stroke-opacity="0.17"/>
<path d="M538 170L544 610" stroke-opacity="0.17"/>
<path d="M758 228L575 290M758 228L802 518M758 228L804 550" stroke-opacity="0.17"/>
<path d="M603 262L403 602M603 262L766 576" stroke-opacity="0.17"/>
<path d="M660 285L712 434M660 285L755 491" stroke-opacity="0.17"/>
<path d="M575 290L802 518M575 290L465 608" stroke-opacity="0.17"/>
<path d="M606 300L511 648" stroke-opacity="0.17"/>
<path d="M471 308L280 562M471 308L809 303M471 308L760 626" stroke-opacity="0.17"/>
<path d="M717 311L574 719" stroke-opacity="0.17"/>
<path d="M364 310L491 397" stroke-opacity="0.17"/>
<path d="M442 340L376 783" stroke-opacity="0.17"/>
<path d="M722 341L809 303" stroke-opacity="0.17"/>
<path d="M307 353L255 258" stroke-opacity="0.17"/>
<path d="M369 405L507 660" stroke-opacity="0.17"/>
<path d="M280 428L488 650" stroke-opacity="0.17"/>
<path d="M470 438L520 626M470 438L507 660" stroke-opacity="0.17"/>
<path d="M603 433L415 640" stroke-opacity="0.17"/>
<path d="M441 482L326 615M441 482L766 576" stroke-opacity="0.17"/>
<path d="M255 258L521 774" stroke-opacity="0.17"/>
<path d="M403 366L595 775" stroke-opacity="0.17"/>
<path d="M491 397L478 502M491 397L280 562M491 397L615 642" stroke-opacity="0.17"/>
<path d="M603 399L646 655" stroke-opacity="0.17"/>
<path d="M821 426L766 576M821 426L822 636" stroke-opacity="0.17"/>
<path d="M116 446L327 558" stroke-opacity="0.17"/>
<path d="M179 445L465 608" stroke-opacity="0.17"/>
<path d="M853 475L796 596M853 475L927 696M853 475L861 522M853 475L760 652" stroke-opacity="0.17"/>
<path d="M318 485L482 763" stroke-opacity="0.17"/>
<path d="M370 489L280 562M370 489L376 783" stroke-opacity="0.17"/>
<path d="M509 482L563 744" stroke-opacity="0.17"/>
<path d="M478 502L618 468M478 502L423 670M478 502L495 698" stroke-opacity="0.17"/>
<path d="M411 522L482 730M411 522L549 780" stroke-opacity="0.17"/>
<path d="M656 528L718 739M656 528L666 444M656 528L877 540M656 528L686 701M656 528L510 608" stroke-opacity="0.17"/>
<path d="M778 538L685 571M778 538L567 699" stroke-opacity="0.17"/>
<path d="M327 558L758 750M327 558L549 780M327 558L510 608M327 558L541 724M327 558L376 783" stroke-opacity="0.17"/>
<path d="M469 560L610 590M469 560L574 719" stroke-opacity="0.17"/>
<path d="M326 615L482 730" stroke-opacity="0.17"/>
<path d="M796 596L1027 708M796 596L735 730M796 596L802 518M796 596L697 642" stroke-opacity="0.17"/>
<path d="M961 677L530 551" stroke-opacity="0.17"/>
<path d="M927 696L926 919" stroke-opacity="0.17"/>
<path d="M792 700L567 699" stroke-opacity="0.17"/>
<path d="M864 706L1046 778M864 706L699 519" stroke-opacity="0.17"/>
<path d="M1027 708L610 590" stroke-opacity="0.17"/>
<path d="M647 714L580 520" stroke-opacity="0.17"/>
<path d="M718 739L690 479M718 739L640 508M718 739L818 702" stroke-opacity="0.17"/>
<path d="M735 730L651 588M735 730L645 693" stroke-opacity="0.17"/>
<path d="M852 759L802 518M852 759L732 532M852 759L652 623" stroke-opacity="0.17"/>
<path d="M746 791L800 665M746 791L830 666" stroke-opacity="0.17"/>
<path d="M972 787L802 518" stroke-opacity="0.17"/>
<path d="M902 819L666 444" stroke-opacity="0.17"/>
<path d="M807 970L624 614" stroke-opacity="0.17"/>
<path d="M809 303L804 550M809 303L446 678" stroke-opacity="0.17"/>
<path d="M636 402L797 625" stroke-opacity="0.17"/>
<path d="M666 444L544 610" stroke-opacity="0.17"/>
<path d="M843 446L732 532M843 446L666 678" stroke-opacity="0.17"/>
<path d="M649 464L822 636M649 464L568 665" stroke-opacity="0.17"/>
<path d="M618 468L557 493M618 468L482 730M618 468L568 665M618 468L368 701" stroke-opacity="0.17"/>
<path d="M814 474L1001 558" stroke-opacity="0.17"/>
<path d="M557 493L682 525" stroke-opacity="0.17"/>
<path d="M755 491L643 568M755 491L800 665" stroke-opacity="0.17"/>
<path d="M731 502L521 774M731 502L569 777M731 502L502 833" stroke-opacity="0.17"/>
<path d="M866 500L903 590M866 500L511 648M866 500L540 696" stroke-opacity="0.17"/>
<path d="M640 508L760 626M640 508L481 623" stroke-opacity="0.17"/>
<path d="M927 514L682 525M927 514L753 537" stroke-opacity="0.17"/>
<path d="M580 520L797 625M580 520L536 809M580 520L415 733" stroke-opacity="0.17"/>
<path d="M699 519L720 577" stroke-opacity="0.17"/>
<path d="M802 518L760 626M802 518L760 652M802 518L488 650M802 518L587 678" stroke-opacity="0.17"/>
<path d="M861 522L465 608" stroke-opacity="0.17"/>
<path d="M753 537L488 650" stroke-opacity="0.17"/>
<path d="M877 540L1001 558M877 540L742 602" stroke-opacity="0.17"/>
<path d="M618 548L689 769" stroke-opacity="0.17"/>
<path d="M710 546L760 626M710 546L586 609M710 546L574 719" stroke-opacity="0.17"/>
<path d="M804 550L671 553M804 550L822 636M804 550L446 678" stroke-opacity="0.17"/>
<path d="M671 553L509 724" stroke-opacity="0.17"/>
<path d="M596 558L415 733" stroke-opacity="0.17"/>
<path d="M552 568L313 817" stroke-opacity="0.17"/>
<path d="M643 568L536 809" stroke-opacity="0.17"/>
<path d="M876 588L511 648" stroke-opacity="0.17"/>
<path d="M903 590L446 634" stroke-opacity="0.17"/>
<path d="M610 590L689 769M610 590L301 864" stroke-opacity="0.17"/>
<path d="M651 588L706 675" stroke-opacity="0.17"/>
<path d="M672 588L543 890" stroke-opacity="0.17"/>
<path d="M742 602L603 691" stroke-opacity="0.17"/>
<path d="M624 614L376 783" stroke-opacity="0.17"/>
<path d="M652 623L760 652M652 623L511 648" stroke-opacity="0.17"/>
<path d="M760 626L415 640" stroke-opacity="0.17"/>
<path d="M697 642L313 817" stroke-opacity="0.17"/>
<path d="M667 650L301 864" stroke-opacity="0.17"/>
<path d="M760 652L507 660M760 652L373 813" stroke-opacity="0.17"/>
<path d="M558 656L568 665M558 656L368 701" stroke-opacity="0.17"/>
<path d="M646 655L818 702M646 655L549 780M646 655L475 807" stroke-opacity="0.17"/>
<path d="M706 675L422 782" stroke-opacity="0.17"/>
<path d="M603 691L536 809M603 691L568 665" stroke-opacity="0.17"/>
<path d="M645 693L461 843" stroke-opacity="0.17"/>
<path d="M686 701L569 777" stroke-opacity="0.17"/>
<path d="M482 730L586 609M482 730L495 698" stroke-opacity="0.17"/>
<path d="M596 746L556 826M596 746L446 678" stroke-opacity="0.17"/>
<path d="M758 750L488 650" stroke-opacity="0.17"/>
<path d="M689 769L549 780M689 769L615 642M689 769L574 719" stroke-opacity="0.17"/>
<path d="M549 780L587 678" stroke-opacity="0.17"/>
<path d="M595 775L615 642" stroke-opacity="0.17"/>
<path d="M536 809L475 807" stroke-opacity="0.17"/>
<path d="M556 826L615 642M556 826L488 650M556 826L587 678" stroke-opacity="0.17"/>
<path d="M690 865L488 650" stroke-opacity="0.17"/>
<path d="M543 890L510 608" stroke-opacity="0.17"/>
<path d="M446 634L339 842M446 634L383 864" stroke-opacity="0.17"/>
<path d="M488 650L373 813" stroke-opacity="0.17"/>
<path d="M507 660L486 898" stroke-opacity="0.17"/>
<path d="M446 678L422 782" stroke-opacity="0.17"/>
<path d="M474 686L461 843M474 686L422 904" stroke-opacity="0.17"/>
<path d="M520 685L415 733M520 685L413 856" stroke-opacity="0.17"/>
<path d="M540 696L368 701M540 696L313 817" stroke-opacity="0.17"/>
<path d="M449 701L376 783" stroke-opacity="0.17"/>
<path d="M509 724L401 942" stroke-opacity="0.17"/>
<path d="M574 719L383 864" stroke-opacity="0.17"/>
<path d="M563 744L482 763M563 744L422 782M563 744L502 833" stroke-opacity="0.17"/>
<path d="M376 783L301 864M376 783L486 898" stroke-opacity="0.17"/>
<path d="M383 864L368 906" stroke-opacity="0.17"/>
<path d="M515 128L403 366" stroke-opacity="0.18"/>
<path d="M758 228L755 491" stroke-opacity="0.18"/>
<path d="M676 265L575 290M676 265L846 604" stroke-opacity="0.18"/>
<path d="M503 270L364 310M503 270L557 493" stroke-opacity="0.18"/>
<path d="M537 270L465 608M537 270L510 608" stroke-opacity="0.18"/>
<path d="M575 290L446 634" stroke-opacity="0.18"/>
<path d="M606 300L717 311M606 300L470 438M606 300L441 482" stroke-opacity="0.18"/>
<path d="M717 311L712 434" stroke-opacity="0.18"/>
<path d="M364 310L369 405" stroke-opacity="0.18"/>
<path d="M442 340L510 608M442 340L586 609M442 340L488 650M442 340L507 660M442 340L568 665M442 340L520 685" stroke-opacity="0.18"/>
<path d="M307 353L97 336M307 353L491 397M307 353L318 485" stroke-opacity="0.18"/>
<path d="M280 428L544 610M280 428L509 724" stroke-opacity="0.18"/>
<path d="M470 438L403 366M470 438L737 467M470 438L568 665" stroke-opacity="0.18"/>
<path d="M603 433L766 576M603 433L509 724" stroke-opacity="0.18"/>
<path d="M441 482L97 336M441 482L403 366M441 482L481 623M441 482L449 701" stroke-opacity="0.18"/>
<path d="M403 366L411 522M403 366L415 640" stroke-opacity="0.18"/>
<path d="M603 399L731 502M603 399L465 608" stroke-opacity="0.18"/>
<path d="M821 426L697 642" stroke-opacity="0.18"/>
<path d="M348 448L318 485M348 448L415 640" stroke-opacity="0.18"/>
<path d="M853 475L961 677M853 475L755 491" stroke-opacity="0.18"/>
<path d="M318 485L403 602" stroke-opacity="0.18"/>
<path d="M509 482L469 560M509 482L667 650M509 482L465 608" stroke-opacity="0.18"/>
<path d="M478 502L469 560M478 502L510 608" stroke-opacity="0.18"/>
<path d="M411 522L530 551M411 522L595 775" stroke-opacity="0.18"/>
<path d="M656 528L778 538M656 528L735 730M656 528L972 787M656 528L568 665" stroke-opacity="0.18"/>
<path d="M778 538L557 493M778 538L766 576" stroke-opacity="0.18"/>
<path d="M280 562L595 775" stroke-opacity="0.18"/>
<path d="M327 558L272 600M327 558L422 782" stroke-opacity="0.18"/>
<path d="M429 565L509 724" stroke-opacity="0.18"/>
<path d="M164 699L368 701" stroke-opacity="0.18"/>
<path d="M792 700L746 791" stroke-opacity="0.18"/>
<path d="M864 706L685 571M864 706L686 701" stroke-opacity="0.18"/>
<path d="M647 714L835 787M647 714L552 568M647 714L415 733" stroke-opacity="0.18"/>
<path d="M718 739L461 843" stroke-opacity="0.18"/>
<path d="M735 730L690 479M735 730L567 699" stroke-opacity="0.18"/>
<path d="M746 791L760 652M746 791L645 693" stroke-opacity="0.18"/>
<path d="M835 787L807 970M835 787L710 546M835 787L368 701" stroke-opacity="0.18"/>
<path d="M902 819L567 699" stroke-opacity="0.18"/>
<path d="M636 402L861 522M636 402L610 590" stroke-opacity="0.18"/>
<path d="M712 434L903 590" stroke-opacity="0.18"/>
<path d="M666 444L802 518M666 444L482 730M666 444L569 777" stroke-opacity="0.18"/>
<path d="M843 446L802 518" stroke-opacity="0.18"/>
<path d="M580 454L760 652M580 454L592 839" stroke-opacity="0.18"/>
<path d="M618 468L822 636" stroke-opacity="0.18"/>
<path d="M737 467L797 625M737 467L568 665M737 467L474 686" stroke-opacity="0.18"/>
<path d="M814 474L552 568M814 474L766 576M814 474L876 588M814 474L686 701" stroke-opacity="0.18"/>
<path d="M731 502L520 685" stroke-opacity="0.18"/>
<path d="M866 500L682 525" stroke-opacity="0.18"/>
<path d="M640 508L521 774" stroke-opacity="0.18"/>
<path d="M802 518L667 650" stroke-opacity="0.18"/>
<path d="M861 522L652 623" stroke-opacity="0.18"/>
<path d="M732 532L461 843" stroke-opacity="0.18"/>
<path d="M877 540L760 626" stroke-opacity="0.18"/>
<path d="M530 551L595 775" stroke-opacity="0.18"/>
<path d="M618 548L800 665" stroke-opacity="0.18"/>
<path d="M710 546L758 750M710 546L689 769" stroke-opacity="0.18"/>
<path d="M671 553L766 576M671 553L549 780" stroke-opacity="0.18"/>
<path d="M596 558L520 626" stroke-opacity="0.18"/>
<path d="M643 568L797 625M643 568L368 701" stroke-opacity="0.18"/>
<path d="M685 571L903 590M685 571L818 702M685 571L449 701" stroke-opacity="0.18"/>
<path d="M766 576L876 588M766 576L510 608M766 576L544 610" stroke-opacity="0.18"/>
<path d="M876 588L846 604M876 588L830 666M876 588L666 678" stroke-opacity="0.18"/>
<path d="M903 590L797 625M903 590L568 665" stroke-opacity="0.18"/>
<path d="M651 588L586 609" stroke-opacity="0.18"/>
<path d="M672 588L507 660" stroke-opacity="0.18"/>
<path d="M624 614L760 626M624 614L822 636M624 614L587 678" stroke-opacity="0.18"/>
<path d="M760 626L488 650" stroke-opacity="0.18"/>
<path d="M797 625L646 655M797 625L686 701M797 625L604 716" stroke-opacity="0.18"/>
<path d="M667 650L760 652" stroke-opacity="0.18"/>
<path d="M558 656L648 846M558 656L373 813" stroke-opacity="0.18"/>
<path d="M646 655L563 744" stroke-opacity="0.18"/>
<path d="M706 675L595 775M706 675L415 733" stroke-opacity="0.18"/>
<path d="M603 691L401 942" stroke-opacity="0.18"/>
<path d="M567 699L313 817M567 699L502 833M567 699L461 843" stroke-opacity="0.18"/>
<path d="M686 701L475 807" stroke-opacity="0.18"/>
<path d="M482 730L592 839" stroke-opacity="0.18"/>
<path d="M596 746L520 626M596 746L520 685" stroke-opacity="0.18"/>
<path d="M758 750L507 660" stroke-opacity="0.18"/>
<path d="M689 769L540 696" stroke-opacity="0.18"/>
<path d="M521 774L586 609M521 774L540 696M521 774L563 744" stroke-opacity="0.18"/>
<path d="M549 780L510 608" stroke-opacity="0.18"/>
<path d="M569 777L648 846" stroke-opacity="0.18"/>
<path d="M536 809L468 653M536 809L604 716" stroke-opacity="0.18"/>
<path d="M556 826L541 724" stroke-opacity="0.18"/>
<path d="M592 839L544 610" stroke-opacity="0.18"/>
<path d="M543 890L449 701M543 890L574 719" stroke-opacity="0.18"/>
<path d="M415 640L360 872" stroke-opacity="0.18"/>
<path d="M468 653L422 782" stroke-opacity="0.18"/>
<path d="M488 650L422 782" stroke-opacity="0.18"/>
<path d="M423 670L376 783" stroke-opacity="0.18"/>
<path d="M446 678L475 807M446 678L339 842" stroke-opacity="0.18"/>
<path d="M474 686L383 864" stroke-opacity="0.18"/>
<path d="M495 698L351 750M495 698L446 947" stroke-opacity="0.18"/>
<path d="M449 701L475 807" stroke-opacity="0.18"/>
<path d="M509 724L461 843" stroke-opacity="0.18"/>
<path d="M541 724L461 874" stroke-opacity="0.18"/>
<path d="M604 716L351 750M604 716L486 898" stroke-opacity="0.18"/>
<path d="M368 701L475 807" stroke-opacity="0.18"/>
<path d="M351 750L339 842M351 750L360 872" stroke-opacity="0.18"/>
<path d="M313 817L401 942" stroke-opacity="0.18"/>
<path d="M435 815L301 864M435 815L486 898" stroke-opacity="0.18"/>
<path d="M538 170L575 290" stroke-opacity="0.19"/>
<path d="M594 180L606 300M594 180L481 623" stroke-opacity="0.19"/>
<path d="M758 228L603 262M758 228L520 626" stroke-opacity="0.19"/>
<path d="M603 262L537 270M603 262L491 397M603 262L830 666" stroke-opacity="0.19"/>
<path d="M503 270L491 397" stroke-opacity="0.19"/>
<path d="M537 270L636 402" stroke-opacity="0.19"/>
<path d="M660 285L809 303" stroke-opacity="0.19"/>
<path d="M575 290L540 696" stroke-opacity="0.19"/>
<path d="M717 311L697 642" stroke-opacity="0.19"/>
<path d="M364 310L478 502" stroke-opacity="0.19"/>
<path d="M442 340L370 489M442 340L326 615" stroke-opacity="0.19"/>
<path d="M722 341L618 468" stroke-opacity="0.19"/>
<path d="M307 353L274 283" stroke-opacity="0.19"/>
<path d="M369 405L488 650" stroke-opacity="0.19"/>
<path d="M280 428L446 634" stroke-opacity="0.19"/>
<path d="M470 438L760 626" stroke-opacity="0.19"/>
<path d="M603 433L540 696" stroke-opacity="0.19"/>
<path d="M255 258L446 634" stroke-opacity="0.19"/>
<path d="M603 399L752 700M603 399L618 468M603 399L732 532" stroke-opacity="0.19"/>
<path d="M821 426L778 538M821 426L1027 708M821 426L903 590" stroke-opacity="0.19"/>
<path d="M348 448L272 600" stroke-opacity="0.19"/>
<path d="M318 485L370 489" stroke-opacity="0.19"/>
<path d="M370 489L403 602" stroke-opacity="0.19"/>
<path d="M778 538L712 434M778 538L710 546M778 538L558 656" stroke-opacity="0.19"/>
<path d="M280 562L429 565" stroke-opacity="0.19"/>
<path d="M429 565L468 653" stroke-opacity="0.19"/>
<path d="M272 600L556 826M272 600L510 608" stroke-opacity="0.19"/>
<path d="M796 596L731 502M796 596L580 520M796 596L876 588" stroke-opacity="0.19"/>
<path d="M961 677L667 650" stroke-opacity="0.19"/>
<path d="M927 696L1046 778M927 696L671 553" stroke-opacity="0.19"/>
<path d="M752 700L753 537M752 700L541 724" stroke-opacity="0.19"/>
<path d="M792 700L876 588M792 700L797 625M792 700L558 656M792 700L706 675" stroke-opacity="0.19"/>
<path d="M864 706L746 791" stroke-opacity="0.19"/>
<path d="M1027 708L835 787M1027 708L686 701" stroke-opacity="0.19"/>
<path d="M647 714L567 699M647 714L474 686" stroke-opacity="0.19"/>
<path d="M718 739L596 558M718 739L610 590M718 739L645 693" stroke-opacity="0.19"/>
<path d="M735 730L666 444" stroke-opacity="0.19"/>
<path d="M835 787L830 666" stroke-opacity="0.19"/>
<path d="M902 819L739 644" stroke-opacity="0.19"/>
<path d="M809 303L846 604M809 303L818 702" stroke-opacity="0.19"/>
<path d="M636 402L648 846" stroke-opacity="0.19"/>
<path d="M666 444L446 678" stroke-opacity="0.19"/>
<path d="M649 464L760 652" stroke-opacity="0.19"/>
<path d="M618 468L481 623" stroke-opacity="0.19"/>
<path d="M690 479L903 590M690 479L544 610" stroke-opacity="0.19"/>
<path d="M814 474L742 602" stroke-opacity="0.19"/>
<path d="M557 493L690 865" stroke-opacity="0.19"/>
<path d="M866 500L624 614M866 500L739 644M866 500L800 665" stroke-opacity="0.19"/>
<path d="M640 508L818 702" stroke-opacity="0.19"/>
<path d="M927 514L552 568M927 514L818 702M927 514L449 701" stroke-opacity="0.19"/>
<path d="M580 520L753 537M580 520L689 769" stroke-opacity="0.19"/>
<path d="M682 525L604 716" stroke-opacity="0.19"/>
<path d="M699 519L530 551" stroke-opacity="0.19"/>
<path d="M802 518L481 623" stroke-opacity="0.19"/>
<path d="M861 522L876 588" stroke-opacity="0.19"/>
<path d="M732 532L689 769M732 532L543 890" stroke-opacity="0.19"/>
<path d="M753 537L652 623M753 537L645 693M753 537L540 696" stroke-opacity="0.19"/>
<path d="M877 540L686 701" stroke-opacity="0.19"/>
<path d="M530 551L482 730M530 551L574 719" stroke-opacity="0.19"/>
<path d="M618 548L587 678" stroke-opacity="0.19"/>
<path d="M804 550L468 653" stroke-opacity="0.19"/>
<path d="M671 553L423 670" stroke-opacity="0.19"/>
<path d="M1001 558L760 626M1001 558L739 644" stroke-opacity="0.19"/>
<path d="M596 558L360 872" stroke-opacity="0.19"/>
<path d="M552 568L706 675" stroke-opacity="0.19"/>
<path d="M685 571L760 652" stroke-opacity="0.19"/>
<path d="M720 577L521 774" stroke-opacity="0.19"/>
<path d="M766 576L742 602" stroke-opacity="0.19"/>
<path d="M610 590L495 698M610 590L482 763" stroke-opacity="0.19"/>
<path d="M846 604L615 642M846 604L574 719" stroke-opacity="0.19"/>
<path d="M760 626L567 699" stroke-opacity="0.19"/>
<path d="M800 665L615 642" stroke-opacity="0.19"/>
<path d="M603 691L422 782" stroke-opacity="0.19"/>
<path d="M645 693L465 608M645 693L510 608" stroke-opacity="0.19"/>
<path d="M567 699L521 774M567 699L574 719M567 699L486 898" stroke-opacity="0.19"/>
<path d="M482 730L549 780" stroke-opacity="0.19"/>
<path d="M596 746L507 660M596 746L568 665" stroke-opacity="0.19"/>
<path d="M689 769L446 634M689 769L520 685" stroke-opacity="0.19"/>
<path d="M521 774L543 890" stroke-opacity="0.19"/>
<path d="M549 780L690 865M549 780L507 660" stroke-opacity="0.19"/>
<path d="M569 777L423 670" stroke-opacity="0.19"/>
<path d="M595 775L510 608M595 775L481 623M595 775L511 648M595 775L587 678" stroke-opacity="0.19"/>
<path d="M536 809L592 839M536 809L481 623" stroke-opacity="0.19"/>
<path d="M556 826L544 610" stroke-opacity="0.19"/>
<path d="M592 839L465 608M592 839L574 719" stroke-opacity="0.19"/>
<path d="M690 865L465 608" stroke-opacity="0.19"/>
<path d="M520 626L339 842M520 626L413 856" stroke-opacity="0.19"/>
<path d="M415 640L339 842" stroke-opacity="0.19"/>
<path d="M511 648L376 783" stroke-opacity="0.19"/>
<path d="M568 665L368 701" stroke-opacity="0.19"/>
<path d="M474 686L415 733" stroke-opacity="0.19"/>
<path d="M520 685L446 947" stroke-opacity="0.19"/>
<path d="M449 701L415 733M449 701L482 763" stroke-opacity="0.19"/>
<path d="M574 719L360 872" stroke-opacity="0.19"/>
<path d="M563 744L475 807" stroke-opacity="0.19"/>
<path d="M415 733L360 872" stroke-opacity="0.19"/>
<path d="M351 750L422 904" stroke-opacity="0.19"/>
<path d="M313 817L461 874" stroke-opacity="0.19"/>
<path d="M301 864L368 906" stroke-opacity="0.19"/>
<path d="M482 128L621 146" stroke-opacity="0.2"/>
<path d="M621 146L538 170" stroke-opacity="0.2"/>
<path d="M538 170L442 340" stroke-opacity="0.2"/>
<path d="M537 270L575 290" stroke-opacity="0.2"/>
<path d="M660 285L580 520" stroke-opacity="0.2"/>
<path d="M606 300L370 489M606 300L509 482M606 300L586 609" stroke-opacity="0.2"/>
<path d="M471 308L465 608" stroke-opacity="0.2"/>
<path d="M364 310L580 454M364 310L446 634" stroke-opacity="0.2"/>
<path d="M442 340L415 640" stroke-opacity="0.2"/>
<path d="M280 428L326 615" stroke-opacity="0.2"/>
<path d="M470 438L441 482M470 438L474 686M470 438L520 685" stroke-opacity="0.2"/>
<path d="M603 433L326 615M603 433L672 588M603 433L495 698" stroke-opacity="0.2"/>
<path d="M403 366L318 485" stroke-opacity="0.2"/>
<path d="M491 397L411 522M491 397L488 650" stroke-opacity="0.2"/>
<path d="M821 426L732 532" stroke-opacity="0.2"/>
<path d="M116 446L179 445" stroke-opacity="0.2"/>
<path d="M348 448L327 558" stroke-opacity="0.2"/>
<path d="M318 485L280 562M318 485L469 560" stroke-opacity="0.2"/>
<path d="M370 489L446 634" stroke-opacity="0.2"/>
<path d="M656 528L1032 652M656 528L835 787M656 528L580 454M656 528L737 467M656 528L530 551M656 528L643 568" stroke-opacity="0.2"/>
<path d="M778 538L814 474M778 538L596 558" stroke-opacity="0.2"/>
<path d="M469 560L403 602M469 560L569 777" stroke-opacity="0.2"/>
<path d="M403 602L689 769M403 602L474 686" stroke-opacity="0.2"/>
<path d="M326 615L164 699M326 615L245 712M326 615L449 701" stroke-opacity="0.2"/>
<path d="M796 596L864 706" stroke-opacity="0.2"/>
<path d="M1032 652L1027 708" stroke-opacity="0.2"/>
<path d="M927 696L690 479M927 696L640 508" stroke-opacity="0.2"/>
<path d="M752 700L652 623" stroke-opacity="0.2"/>
<path d="M864 706L667 650" stroke-opacity="0.2"/>
<path d="M647 714L636 402M647 714L737 467M647 714L800 665" stroke-opacity="0.2"/>
<path d="M1046 778L902 819" stroke-opacity="0.2"/>
<path d="M835 787L926 919M835 787L739 644" stroke-opacity="0.2"/>
<path d="M809 303L843 446" stroke-opacity="0.2"/>
<path d="M636 402L822 636M636 402L689 769" stroke-opacity="0.2"/>
<path d="M843 446L1001 558" stroke-opacity="0.2"/>
<path d="M690 479L671 553" stroke-opacity="0.2"/>
<path d="M814 474L755 491M814 474L596 558" stroke-opacity="0.2"/>
<path d="M755 491L830 666M755 491L645 693" stroke-opacity="0.2"/>
<path d="M731 502L549 780" stroke-opacity="0.2"/>
<path d="M866 500L558 656M866 500L818 702" stroke-opacity="0.2"/>
<path d="M927 514L766 576M927 514L822 636" stroke-opacity="0.2"/>
<path d="M682 525L686 701" stroke-opacity="0.2"/>
<path d="M699 519L877 540" stroke-opacity="0.2"/>
<path d="M802 518L732 532M802 518L739 644M802 518L465 608" stroke-opacity="0.2"/>
<path d="M861 522L587 678" stroke-opacity="0.2"/>
<path d="M732 532L556 826" stroke-opacity="0.2"/>
<path d="M710 546L541 724" stroke-opacity="0.2"/>
<path d="M804 550L651 588M804 550L567 699" stroke-opacity="0.2"/>
<path d="M596 558L488 650M596 558L383 864" stroke-opacity="0.2"/>
<path d="M643 568L800 665" stroke-opacity="0.2"/>
<path d="M720 577L800 665M720 577L495 698" stroke-opacity="0.2"/>
<path d="M766 576L760 626M766 576L465 608M766 576L574 719M766 576L604 716" stroke-opacity="0.2"/>
<path d="M610 590L592 839M610 590L373 813M610 590L461 843" stroke-opacity="0.2"/>
<path d="M742 602L520 626M742 602L541 724" stroke-opacity="0.2"/>
<path d="M846 604L488 650" stroke-opacity="0.2"/>
<path d="M624 614L569 777" stroke-opacity="0.2"/>
<path d="M652 623L351 750" stroke-opacity="0.2"/>
<path d="M760 626L563 744" stroke-opacity="0.2"/>
<path d="M739 644L689 769" stroke-opacity="0.2"/>
<path d="M667 650L587 678" stroke-opacity="0.2"/>
<path d="M760 652L510 608" stroke-opacity="0.2"/>
<path d="M567 699L415 733" stroke-opacity="0.2"/>
<path d="M482 730L615 642M482 730L574 719" stroke-opacity="0.2"/>
<path d="M758 750L446 634" stroke-opacity="0.2"/>
<path d="M569 777L540 696M569 777L449 701" stroke-opacity="0.2"/>
<path d="M648 846L415 640M648 846L574 719" stroke-opacity="0.2"/>
<path d="M690 865L544 610" stroke-opacity="0.2"/>
<path d="M543 890L474 686" stroke-opacity="0.2"/>
<path d="M586 609L351 750" stroke-opacity="0.2"/>
<path d="M520 626L368 906" stroke-opacity="0.2"/>
<path d="M488 650L461 843" stroke-opacity="0.2"/>
<path d="M507 660L435 815M507 660L502 833" stroke-opacity="0.2"/>
<path d="M511 648L313 817M511 648L339 842" stroke-opacity="0.2"/>
<path d="M540 696L502 833" stroke-opacity="0.2"/>
<path d="M541 724L435 815" stroke-opacity="0.2"/>
<path d="M604 716L475 807" stroke-opacity="0.2"/>
<path d="M563 744L376 783" stroke-opacity="0.2"/>
<path d="M368 701L383 864" stroke-opacity="0.2"/>
<path d="M351 750L313 817" stroke-opacity="0.2"/>
<path d="M482 763L461 874" stroke-opacity="0.2"/>
<path d="M376 783L383 864" stroke-opacity="0.2"/>
<path d="M313 817L475 807" stroke-opacity="0.2"/>
<path d="M475 807L446 947" stroke-opacity="0.2"/>
<path d="M339 842L461 843" stroke-opacity="0.2"/>
<path d="M502 833L383 864" stroke-opacity="0.2"/>
<path d="M368 906L446 947" stroke-opacity="0.2"/>
<path d="M482 128L509 724" stroke-opacity="0.21"/>
<path d="M515 128L538 170M515 128L503 270" stroke-opacity="0.21"/>
<path d="M621 146L676 265" stroke-opacity="0.21"/>
<path d="M758 228L676 265M758 228L481 623" stroke-opacity="0.21"/>
<path d="M503 270L442 340" stroke-opacity="0.21"/>
<path d="M660 285L861 522" stroke-opacity="0.21"/>
<path d="M575 290L846 604" stroke-opacity="0.21"/>
<path d="M606 300L710 546" stroke-opacity="0.21"/>
<path d="M471 308L274 283M471 308L429 565" stroke-opacity="0.21"/>
<path d="M717 311L737 467" stroke-opacity="0.21"/>
<path d="M722 341L753 537" stroke-opacity="0.21"/>
<path d="M470 438L274 283M470 438L646 655M470 438L586 609M470 438L468 653" stroke-opacity="0.21"/>
<path d="M603 433L636 402M603 433L927 514" stroke-opacity="0.21"/>
<path d="M441 482L469 560M441 482L465 608" stroke-opacity="0.21"/>
<path d="M603 399L610 590" stroke-opacity="0.21"/>
<path d="M821 426L643 568" stroke-opacity="0.21"/>
<path d="M318 485L478 502M318 485L429 565M318 485L415 640" stroke-opacity="0.21"/>
<path d="M370 489L469 560" stroke-opacity="0.21"/>
<path d="M509 482L557 493" stroke-opacity="0.21"/>
<path d="M656 528L690 479" stroke-opacity="0.21"/>
<path d="M778 538L753 537" stroke-opacity="0.21"/>
<path d="M403 602L536 809" stroke-opacity="0.21"/>
<path d="M1032 652L961 677" stroke-opacity="0.21"/>
<path d="M961 677L731 502M961 677L818 702" stroke-opacity="0.21"/>
<path d="M927 696L792 700" stroke-opacity="0.21"/>
<path d="M245 712L509 724" stroke-opacity="0.21"/>
<path d="M752 700L746 791M752 700L902 819M752 700L640 508" stroke-opacity="0.21"/>
<path d="M792 700L742 602M792 700L822 636M792 700L645 693" stroke-opacity="0.21"/>
<path d="M864 706L846 604" stroke-opacity="0.21"/>
<path d="M1027 708L760 626" stroke-opacity="0.21"/>
<path d="M718 739L686 701" stroke-opacity="0.21"/>
<path d="M852 759L876 588M852 759L651 588" stroke-opacity="0.21"/>
<path d="M807 970L739 644" stroke-opacity="0.21"/>
<path d="M809 303L797 625M809 303L760 652" stroke-opacity="0.21"/>
<path d="M843 446L690 479" stroke-opacity="0.21"/>
<path d="M649 464L802 518M649 464L804 550M649 464L415 640M649 464L540 696" stroke-opacity="0.21"/>
<path d="M618 468L648 846M618 468L474 686" stroke-opacity="0.21"/>
<path d="M737 467L689 769M737 467L510 608" stroke-opacity="0.21"/>
<path d="M690 479L482 763" stroke-opacity="0.21"/>
<path d="M814 474L861 522M814 474L753 537" stroke-opacity="0.21"/>
<path d="M557 493L648 846M557 493L540 696" stroke-opacity="0.21"/>
<path d="M755 491L732 532M755 491L1001 558" stroke-opacity="0.21"/>
<path d="M731 502L830 666" stroke-opacity="0.21"/>
<path d="M866 500L802 518" stroke-opacity="0.21"/>
<path d="M640 508L549 780" stroke-opacity="0.21"/>
<path d="M927 514L876 588" stroke-opacity="0.21"/>
<path d="M861 522L804 550M861 522L667 650M861 522L800 665" stroke-opacity="0.21"/>
<path d="M753 537L568 665" stroke-opacity="0.21"/>
<path d="M877 540L876 588M877 540L822 636M877 540L511 648" stroke-opacity="0.21"/>
<path d="M530 551L435 815" stroke-opacity="0.21"/>
<path d="M618 548L568 665" stroke-opacity="0.21"/>
<path d="M710 546L544 610" stroke-opacity="0.21"/>
<path d="M804 550L818 702" stroke-opacity="0.21"/>
<path d="M596 558L556 826" stroke-opacity="0.21"/>
<path d="M552 568L615 642" stroke-opacity="0.21"/>
<path d="M766 576L586 609" stroke-opacity="0.21"/>
<path d="M903 590L818 702" stroke-opacity="0.21"/>
<path d="M742 602L846 604M742 602L666 678" stroke-opacity="0.21"/>
<path d="M624 614L482 730" stroke-opacity="0.21"/>
<path d="M652 623L800 665" stroke-opacity="0.21"/>
<path d="M697 642L502 833" stroke-opacity="0.21"/>
<path d="M667 650L569 777M667 650L690 865" stroke-opacity="0.21"/>
<path d="M760 652L830 666" stroke-opacity="0.21"/>
<path d="M558 656L446 678M558 656L482 763" stroke-opacity="0.21"/>
<path d="M666 678L521 774" stroke-opacity="0.21"/>
<path d="M567 699L511 648" stroke-opacity="0.21"/>
<path d="M686 701L521 774M686 701L595 775" stroke-opacity="0.21"/>
<path d="M596 746L615 642M596 746L449 701" stroke-opacity="0.21"/>
<path d="M758 750L446 678" stroke-opacity="0.21"/>
<path d="M689 769L586 609M689 769L481 623" stroke-opacity="0.21"/>
<path d="M521 774L595 775M521 774L423 670M521 774L574 719" stroke-opacity="0.21"/>
<path d="M549 780L468 653" stroke-opacity="0.21"/>
<path d="M569 777L507 660" stroke-opacity="0.21"/>
<path d="M595 775L465 608M595 775L507 660" stroke-opacity="0.21"/>
<path d="M536 809L648 846" stroke-opacity="0.21"/>
<path d="M556 826L446 678" stroke-opacity="0.21"/>
<path d="M592 839L543 890M592 839L446 678" stroke-opacity="0.21"/>
<path d="M690 865L604 716" stroke-opacity="0.21"/>
<path d="M543 890L488 650M543 890L520 685" stroke-opacity="0.21"/>
<path d="M544 610L373 813" stroke-opacity="0.21"/>
<path d="M468 653L422 904" stroke-opacity="0.21"/>
<path d="M488 650L368 701" stroke-opacity="0.21"/>
<path d="M423 670L383 864" stroke-opacity="0.21"/>
<path d="M587 678L475 807" stroke-opacity="0.21"/>
<path d="M449 701L435 815" stroke-opacity="0.21"/>
<path d="M509 724L482 763M509 724L301 864" stroke-opacity="0.21"/>
<path d="M574 719L373 813" stroke-opacity="0.21"/>
<path d="M415 733L435 815" stroke-opacity="0.21"/>
<path d="M482 763L360 872" stroke-opacity="0.21"/>
<path d="M373 813L475 807" stroke-opacity="0.21"/>
<path d="M475 807L339 842" stroke-opacity="0.21"/>
<path d="M339 842L360 872M339 842L422 904" stroke-opacity="0.21"/>
<path d="M301 864L422 904" stroke-opacity="0.21"/>
<path d="M383 864L422 904" stroke-opacity="0.21"/>
<path d="M319 156L274 283" stroke-opacity="0.22"/>
<path d="M482 128L660 285M482 128L471 308" stroke-opacity="0.22"/>
<path d="M538 170L809 303" stroke-opacity="0.22"/>
<path d="M758 228L537 270" stroke-opacity="0.22"/>
<path d="M575 290L403 366M575 290L636 402M575 290L481 623" stroke-opacity="0.22"/>
<path d="M717 311L797 625" stroke-opacity="0.22"/>
<path d="M364 310L326 615" stroke-opacity="0.22"/>
<path d="M722 341L465 608" stroke-opacity="0.22"/>
<path d="M307 353L369 405" stroke-opacity="0.22"/>
<path d="M470 438L469 560" stroke-opacity="0.22"/>
<path d="M603 433L755 491M603 433L699 519M603 433L552 568" stroke-opacity="0.22"/>
<path d="M441 482L596 558M441 482L544 610M441 482L615 642M441 482L468 653" stroke-opacity="0.22"/>
<path d="M603 399L580 520M603 399L567 699" stroke-opacity="0.22"/>
<path d="M821 426L737 467" stroke-opacity="0.22"/>
<path d="M348 448L280 562" stroke-opacity="0.22"/>
<path d="M318 485L327 558" stroke-opacity="0.22"/>
<path d="M509 482L403 602" stroke-opacity="0.22"/>
<path d="M656 528L640 508M656 528L603 691" stroke-opacity="0.22"/>
<path d="M778 538L760 626" stroke-opacity="0.22"/>
<path d="M429 565L595 775" stroke-opacity="0.22"/>
<path d="M469 560L423 670" stroke-opacity="0.22"/>
<path d="M403 602L552 568M403 602L465 608" stroke-opacity="0.22"/>
<path d="M796 596L961 677M796 596L852 759M796 596L610 590M796 596L739 644" stroke-opacity="0.22"/>
<path d="M961 677L746 791" stroke-opacity="0.22"/>
<path d="M927 696L667 650" stroke-opacity="0.22"/>
<path d="M752 700L864 706" stroke-opacity="0.22"/>
<path d="M1027 708L876 588" stroke-opacity="0.22"/>
<path d="M647 714L667 650M647 714L645 693" stroke-opacity="0.22"/>
<path d="M718 739L636 402" stroke-opacity="0.22"/>
<path d="M735 730L652 623M735 730L818 702" stroke-opacity="0.22"/>
<path d="M852 759L567 699" stroke-opacity="0.22"/>
<path d="M835 787L646 655M835 787L686 701" stroke-opacity="0.22"/>
<path d="M902 819L652 623" stroke-opacity="0.22"/>
<path d="M926 919L567 699" stroke-opacity="0.22"/>
<path d="M809 303L737 467M809 303L802 518" stroke-opacity="0.22"/>
<path d="M712 434L877 540M712 434L488 650" stroke-opacity="0.22"/>
<path d="M843 446L753 537M843 446L797 625" stroke-opacity="0.22"/>
<path d="M580 454L818 702" stroke-opacity="0.22"/>
<path d="M649 464L511 648" stroke-opacity="0.22"/>
<path d="M557 493L753 537" stroke-opacity="0.22"/>
<path d="M755 491L866 500" stroke-opacity="0.22"/>
<path d="M927 514L903 590" stroke-opacity="0.22"/>
<path d="M580 520L596 746" stroke-opacity="0.22"/>
<path d="M699 519L903 590M699 519L595 775" stroke-opacity="0.22"/>
<path d="M802 518L618 548" stroke-opacity="0.22"/>
<path d="M732 532L549 780" stroke-opacity="0.22"/>
<path d="M877 540L509 724" stroke-opacity="0.22"/>
<path d="M618 548L520 685" stroke-opacity="0.22"/>
<path d="M685 571L413 856" stroke-opacity="0.22"/>
<path d="M651 588L689 769" stroke-opacity="0.22"/>
<path d="M624 614L568 665" stroke-opacity="0.22"/>
<path d="M697 642L544 610" stroke-opacity="0.22"/>
<path d="M558 656L415 733M558 656L435 815" stroke-opacity="0.22"/>
<path d="M646 655L592 839M646 655L373 813" stroke-opacity="0.22"/>
<path d="M645 693L568 665" stroke-opacity="0.22"/>
<path d="M567 699L648 846M567 699L507 660" stroke-opacity="0.22"/>
<path d="M482 730L520 685" stroke-opacity="0.22"/>
<path d="M521 774L592 839M521 774L474 686" stroke-opacity="0.22"/>
<path d="M549 780L592 839M549 780L446 634M549 780L509 724" stroke-opacity="0.22"/>
<path d="M569 777L544 610" stroke-opacity="0.22"/>
<path d="M556 826L509 724" stroke-opacity="0.22"/>
<path d="M592 839L604 716" stroke-opacity="0.22"/>
<path d="M648 846L690 865" stroke-opacity="0.22"/>
<path d="M520 626L313 817" stroke-opacity="0.22"/>
<path d="M468 653L368 701" stroke-opacity="0.22"/>
<path d="M488 650L351 750" stroke-opacity="0.22"/>
<path d="M474 686L373 813" stroke-opacity="0.22"/>
<path d="M449 701L368 701" stroke-opacity="0.22"/>
<path d="M509 724L461 874M509 724L368 906" stroke-opacity="0.22"/>
<path d="M563 744L368 701" stroke-opacity="0.22"/>
<path d="M368 701L351 750" stroke-opacity="0.22"/>
<path d="M415 733L461 874" stroke-opacity="0.22"/>
<path d="M482 763L422 904" stroke-opacity="0.22"/>
<path d="M373 813L435 815" stroke-opacity="0.22"/>
<path d="M301 864L383 864" stroke-opacity="0.22"/>
<path d="M383 864L446 947" stroke-opacity="0.22"/>
<path d="M515 128L470 438" stroke-opacity="0.23"/>
<path d="M538 170L594 180" stroke-opacity="0.23"/>
<path d="M594 180L717 311M594 180L491 397" stroke-opacity="0.23"/>
<path d="M503 270L603 433M503 270L348 448" stroke-opacity="0.23"/>
<path d="M537 270L660 285" stroke-opacity="0.23"/>
<path d="M660 285L580 454" stroke-opacity="0.23"/>
<path d="M575 290L369 405" stroke-opacity="0.23"/>
<path d="M364 310L442 340M364 310L307 353M364 310L510 608" stroke-opacity="0.23"/>
<path d="M307 353L280 428" stroke-opacity="0.23"/>
<path d="M369 405L348 448" stroke-opacity="0.23"/>
<path d="M603 433L596 558" stroke-opacity="0.23"/>
<path d="M491 397L327 558" stroke-opacity="0.23"/>
<path d="M603 399L580 454" stroke-opacity="0.23"/>
<path d="M179 445L327 558" stroke-opacity="0.23"/>
<path d="M853 475L656 528M853 475L1001 558" stroke-opacity="0.23"/>
<path d="M656 528L720 577" stroke-opacity="0.23"/>
<path d="M778 538L682 525M778 538L802 518M778 538L475 807" stroke-opacity="0.23"/>
<path d="M429 565L164 699" stroke-opacity="0.23"/>
<path d="M403 602L568 665" stroke-opacity="0.23"/>
<path d="M1032 652L864 706M1032 652L735 730M1032 652L902 819" stroke-opacity="0.23"/>
<path d="M961 677L1027 708" stroke-opacity="0.23"/>
<path d="M927 696L735 730M927 696L927 514" stroke-opacity="0.23"/>
<path d="M245 712L423 670" stroke-opacity="0.23"/>
<path d="M735 730L807 970M735 730L731 502" stroke-opacity="0.23"/>
<path d="M852 759L807 970" stroke-opacity="0.23"/>
<path d="M580 454L689 769" stroke-opacity="0.23"/>
<path d="M649 464L742 602" stroke-opacity="0.23"/>
<path d="M618 468L488 650" stroke-opacity="0.23"/>
<path d="M814 474L646 655" stroke-opacity="0.23"/>
<path d="M755 491L574 719" stroke-opacity="0.23"/>
<path d="M866 500L927 514M866 500L876 588" stroke-opacity="0.23"/>
<path d="M927 514L797 625" stroke-opacity="0.23"/>
<path d="M580 520L521 774M580 520L502 833" stroke-opacity="0.23"/>
<path d="M682 525L540 696" stroke-opacity="0.23"/>
<path d="M699 519L536 809" stroke-opacity="0.23"/>
<path d="M802 518L876 588" stroke-opacity="0.23"/>
<path d="M618 548L595 775" stroke-opacity="0.23"/>
<path d="M643 568L521 774" stroke-opacity="0.23"/>
<path d="M685 571L435 815" stroke-opacity="0.23"/>
<path d="M651 588L592 839" stroke-opacity="0.23"/>
<path d="M742 602L446 634" stroke-opacity="0.23"/>
<path d="M846 604L760 626" stroke-opacity="0.23"/>
<path d="M624 614L592 839" stroke-opacity="0.23"/>
<path d="M822 636L830 666" stroke-opacity="0.23"/>
<path d="M646 655L603 691" stroke-opacity="0.23"/>
<path d="M830 666L615 642" stroke-opacity="0.23"/>
<path d="M482 730L604 716" stroke-opacity="0.23"/>
<path d="M596 746L758 750" stroke-opacity="0.23"/>
<path d="M758 750L615 642M758 750L468 653" stroke-opacity="0.23"/>
<path d="M689 769L474 686" stroke-opacity="0.23"/>
<path d="M569 777L520 685M569 777L563 744" stroke-opacity="0.23"/>
<path d="M595 775L648 846M595 775L543 890" stroke-opacity="0.23"/>
<path d="M536 809L543 890M536 809L544 610M536 809L474 686" stroke-opacity="0.23"/>
<path d="M592 839L541 724M592 839L563 744" stroke-opacity="0.23"/>
<path d="M543 890L481 623" stroke-opacity="0.23"/>
<path d="M415 640L401 942" stroke-opacity="0.23"/>
<path d="M507 660L482 763" stroke-opacity="0.23"/>
<path d="M568 665L482 763M568 665L435 815" stroke-opacity="0.23"/>
<path d="M540 696L376 783" stroke-opacity="0.23"/>
<path d="M449 701L373 813" stroke-opacity="0.23"/>
<path d="M301 864L360 872" stroke-opacity="0.23"/>
<path d="M319 156L255 258" stroke-opacity="0.24"/>
<path d="M515 128L594 180" stroke-opacity="0.24"/>
<path d="M603 262L272 600" stroke-opacity="0.24"/>
<path d="M660 285L575 290" stroke-opacity="0.24"/>
<path d="M441 482L255 258M441 482L376 783" stroke-opacity="0.24"/>
<path d="M403 366L478 502" stroke-opacity="0.24"/>
<path d="M821 426L846 604" stroke-opacity="0.24"/>
<path d="M853 475L1032 652M853 475L864 706" stroke-opacity="0.24"/>
<path d="M478 502L403 602M478 502L569 777" stroke-opacity="0.24"/>
<path d="M411 522L429 565" stroke-opacity="0.24"/>
<path d="M656 528L796 596" stroke-opacity="0.24"/>
<path d="M280 562L468 653M280 562L422 782" stroke-opacity="0.24"/>
<path d="M327 558L326 615" stroke-opacity="0.24"/>
<path d="M469 560L272 600" stroke-opacity="0.24"/>
<path d="M403 602L468 653" stroke-opacity="0.24"/>
<path d="M326 615L541 724" stroke-opacity="0.24"/>
<path d="M796 596L647 714M796 596L643 568M796 596L797 625" stroke-opacity="0.24"/>
<path d="M1032 652L903 590" stroke-opacity="0.24"/>
<path d="M961 677L1046 778" stroke-opacity="0.24"/>
<path d="M752 700L666 444M752 700L877 540" stroke-opacity="0.24"/>
<path d="M792 700L852 759M792 700L902 819M792 700L596 558" stroke-opacity="0.24"/>
<path d="M864 706L735 730M864 706L902 819" stroke-opacity="0.24"/>
<path d="M718 739L685 571" stroke-opacity="0.24"/>
<path d="M735 730L800 665" stroke-opacity="0.24"/>
<path d="M852 759L835 787" stroke-opacity="0.24"/>
<path d="M902 819L814 474" stroke-opacity="0.24"/>
<path d="M809 303L586 609" stroke-opacity="0.24"/>
<path d="M843 446L580 520M843 446L596 558" stroke-opacity="0.24"/>
<path d="M737 467L866 500" stroke-opacity="0.24"/>
<path d="M814 474L903 590M814 474L818 702" stroke-opacity="0.24"/>
<path d="M755 491L861 522" stroke-opacity="0.24"/>
<path d="M866 500L804 550M866 500L760 626" stroke-opacity="0.24"/>
<path d="M699 519L610 590M699 519L556 826" stroke-opacity="0.24"/>
<path d="M530 551L536 809" stroke-opacity="0.24"/>
<path d="M552 568L604 716" stroke-opacity="0.24"/>
<path d="M720 577L595 775" stroke-opacity="0.24"/>
<path d="M876 588L697 642" stroke-opacity="0.24"/>
<path d="M610 590L569 777" stroke-opacity="0.24"/>
<path d="M742 602L739 644" stroke-opacity="0.24"/>
<path d="M760 652L818 702M760 652L488 650M760 652L574 719" stroke-opacity="0.24"/>
<path d="M645 693L648 846" stroke-opacity="0.24"/>
<path d="M567 699L541 724" stroke-opacity="0.24"/>
<path d="M482 730L596 746M482 730L488 650" stroke-opacity="0.24"/>
<path d="M758 750L587 678" stroke-opacity="0.24"/>
<path d="M595 775L520 626" stroke-opacity="0.24"/>
<path d="M690 865L543 890" stroke-opacity="0.24"/>
<path d="M543 890L541 724" stroke-opacity="0.24"/>
<path d="M465 608L368 701M465 608L461 874" stroke-opacity="0.24"/>
<path d="M510 608L482 763M510 608L376 783" stroke-opacity="0.24"/>
<path d="M481 623L373 813" stroke-opacity="0.24"/>
<path d="M520 626L461 843" stroke-opacity="0.24"/>
<path d="M511 648L435 815M511 648L401 942" stroke-opacity="0.24"/>
<path d="M446 678L368 701M446 678L446 947" stroke-opacity="0.24"/>
<path d="M587 678L461 843" stroke-opacity="0.24"/>
<path d="M520 685L376 783" stroke-opacity="0.24"/>
<path d="M540 696L422 782" stroke-opacity="0.24"/>
<path d="M574 719L475 807" stroke-opacity="0.24"/>
<path d="M415 733L461 843M415 733L301 864" stroke-opacity="0.24"/>
<path d="M482 763L401 942" stroke-opacity="0.24"/>
<path d="M422 782L373 813" stroke-opacity="0.24"/>
<path d="M373 813L301 864" stroke-opacity="0.24"/>
<path d="M413 856L446 947" stroke-opacity="0.24"/>
<path d="M461 874L422 904" stroke-opacity="0.24"/>
<path d="M486 898L368 906" stroke-opacity="0.24"/>
<path d="M538 170L503 270" stroke-opacity="0.25"/>
<path d="M594 180L660 285M594 180L753 537" stroke-opacity="0.25"/>
<path d="M575 290L717 311M575 290L348 448" stroke-opacity="0.25"/>
<path d="M364 310L603 433M364 310L760 626" stroke-opacity="0.25"/>
<path d="M442 340L468 653" stroke-opacity="0.25"/>
<path d="M307 353L280 562" stroke-opacity="0.25"/>
<path d="M470 438L753 537" stroke-opacity="0.25"/>
<path d="M603 433L802 518" stroke-opacity="0.25"/>
<path d="M441 482L415 640M441 482L423 670" stroke-opacity="0.25"/>
<path d="M603 399L821 426" stroke-opacity="0.25"/>
<path d="M116 446L272 600" stroke-opacity="0.25"/>
<path d="M509 482L643 568" stroke-opacity="0.25"/>
<path d="M411 522L403 602" stroke-opacity="0.25"/>
<path d="M778 538L482 763" stroke-opacity="0.25"/>
<path d="M327 558L482 730" stroke-opacity="0.25"/>
<path d="M429 565L415 640" stroke-opacity="0.25"/>
<path d="M752 700L718 739M752 700L596 558M752 700L624 614" stroke-opacity="0.25"/>
<path d="M1027 708L846 604" stroke-opacity="0.25"/>
<path d="M718 739L541 724" stroke-opacity="0.25"/>
<path d="M746 791L926 919M746 791L646 655" stroke-opacity="0.25"/>
<path d="M972 787L742 602" stroke-opacity="0.25"/>
<path d="M843 446L495 698" stroke-opacity="0.25"/>
<path d="M814 474L760 652" stroke-opacity="0.25"/>
<path d="M866 500L507 660" stroke-opacity="0.25"/>
<path d="M699 519L568 665" stroke-opacity="0.25"/>
<path d="M877 540L800 665" stroke-opacity="0.25"/>
<path d="M618 548L592 839" stroke-opacity="0.25"/>
<path d="M552 568L521 774" stroke-opacity="0.25"/>
<path d="M903 590L760 652" stroke-opacity="0.25"/>
<path d="M742 602L822 636" stroke-opacity="0.25"/>
<path d="M558 656L556 826" stroke-opacity="0.25"/>
<path d="M646 655L544 610" stroke-opacity="0.25"/>
<path d="M596 746L511 648" stroke-opacity="0.25"/>
<path d="M758 750L465 608" stroke-opacity="0.25"/>
<path d="M549 780L615 642" stroke-opacity="0.25"/>
<path d="M569 777L536 809M569 777L495 698M569 777L574 719" stroke-opacity="0.25"/>
<path d="M556 826L510 608" stroke-opacity="0.25"/>
<path d="M592 839L509 724" stroke-opacity="0.25"/>
<path d="M690 865L495 698" stroke-opacity="0.25"/>
<path d="M446 634L360 872" stroke-opacity="0.25"/>
<path d="M615 642L461 874" stroke-opacity="0.25"/>
<path d="M511 648L368 701" stroke-opacity="0.25"/>
<path d="M423 670L351 750M423 670L446 947" stroke-opacity="0.25"/>
<path d="M449 701L486 898" stroke-opacity="0.25"/>
<path d="M563 744L422 904" stroke-opacity="0.25"/>
<path d="M415 733L373 813M415 733L502 833M415 733L413 856" stroke-opacity="0.25"/>
<path d="M376 783L435 815" stroke-opacity="0.25"/>
<path d="M422 782L339 842" stroke-opacity="0.25"/>
<path d="M313 817L435 815" stroke-opacity="0.25"/>
<path d="M373 813L461 874" stroke-opacity="0.25"/>
<path d="M502 833L446 947" stroke-opacity="0.25"/>
<path d="M461 843L360 872" stroke-opacity="0.25"/>
<path d="M319 156L307 353" stroke-opacity="0.26"/>
<path d="M758 228L717 311" stroke-opacity="0.26"/>
<path d="M603 262L676 265" stroke-opacity="0.26"/>
<path d="M503 270L510 608" stroke-opacity="0.26"/>
<path d="M575 290L471 308" stroke-opacity="0.26"/>
<path d="M717 311L866 500" stroke-opacity="0.26"/>
<path d="M722 341L814 474" stroke-opacity="0.26"/>
<path d="M369 405L491 397" stroke-opacity="0.26"/>
<path d="M470 438L481 623M470 438L615 642M470 438L423 670" stroke-opacity="0.26"/>
<path d="M348 448L326 615" stroke-opacity="0.26"/>
<path d="M318 485L326 615" stroke-opacity="0.26"/>
<path d="M411 522L326 615" stroke-opacity="0.26"/>
<path d="M656 528L652 623" stroke-opacity="0.26"/>
<path d="M280 562L272 600" stroke-opacity="0.26"/>
<path d="M326 615L351 750" stroke-opacity="0.26"/>
<path d="M796 596L690 479M796 596L530 551M796 596L710 546" stroke-opacity="0.26"/>
<path d="M927 696L718 739" stroke-opacity="0.26"/>
<path d="M752 700L852 759M752 700L835 787" stroke-opacity="0.26"/>
<path d="M1027 708L800 665" stroke-opacity="0.26"/>
<path d="M746 791L972 787M746 791L603 691" stroke-opacity="0.26"/>
<path d="M809 303L822 636" stroke-opacity="0.26"/>
<path d="M755 491L646 655" stroke-opacity="0.26"/>
<path d="M766 576L697 642" stroke-opacity="0.26"/>
<path d="M760 626L604 716" stroke-opacity="0.26"/>
<path d="M800 665L465 608" stroke-opacity="0.26"/>
<path d="M603 691L486 898" stroke-opacity="0.26"/>
<path d="M482 730L423 670" stroke-opacity="0.26"/>
<path d="M596 746L690 865M596 746L446 634M596 746L574 719" stroke-opacity="0.26"/>
<path d="M758 750L648 846" stroke-opacity="0.26"/>
<path d="M689 769L595 775M689 769L509 724" stroke-opacity="0.26"/>
<path d="M549 780L543 890" stroke-opacity="0.26"/>
<path d="M690 865L587 678" stroke-opacity="0.26"/>
<path d="M488 650L301 864" stroke-opacity="0.26"/>
<path d="M507 660L475 807" stroke-opacity="0.26"/>
<path d="M446 678L351 750M446 678L486 898" stroke-opacity="0.26"/>
<path d="M587 678L351 750" stroke-opacity="0.26"/>
<path d="M540 696L482 763" stroke-opacity="0.26"/>
<path d="M368 701L446 947" stroke-opacity="0.26"/>
<path d="M415 733L422 782M415 733L486 898" stroke-opacity="0.26"/>
<path d="M351 750L383 864" stroke-opacity="0.26"/>
<path d="M422 782L486 898" stroke-opacity="0.26"/>
<path d="M373 813L401 942" stroke-opacity="0.26"/>
<path d="M475 807L413 856" stroke-opacity="0.26"/>
<path d="M502 833L461 843" stroke-opacity="0.26"/>
<path d="M413 856L401 942" stroke-opacity="0.26"/>
<path d="M503 270L403 366" stroke-opacity="0.27"/>
<path d="M660 285L606 300M660 285L636 402" stroke-opacity="0.27"/>
<path d="M717 311L544 610" stroke-opacity="0.27"/>
<path d="M369 405L272 600" stroke-opacity="0.27"/>
<path d="M470 438L587 678" stroke-opacity="0.27"/>
<path d="M491 397L403 602" stroke-opacity="0.27"/>
<path d="M509 482L327 558" stroke-opacity="0.27"/>
<path d="M656 528L636 402M656 528L557 493" stroke-opacity="0.27"/>
<path d="M778 538L697 642M778 538L800 665" stroke-opacity="0.27"/>
<path d="M429 565L469 560" stroke-opacity="0.27"/>
<path d="M961 677L835 787M961 677L902 819M961 677L926 919" stroke-opacity="0.27"/>
<path d="M927 696L797 625" stroke-opacity="0.27"/>
<path d="M752 700L647 714" stroke-opacity="0.27"/>
<path d="M792 700L718 739M792 700L843 446" stroke-opacity="0.27"/>
<path d="M864 706L567 699" stroke-opacity="0.27"/>
<path d="M1027 708L852 759" stroke-opacity="0.27"/>
<path d="M718 739L902 819" stroke-opacity="0.27"/>
<path d="M746 791L643 568M746 791L651 588" stroke-opacity="0.27"/>
<path d="M712 434L569 777" stroke-opacity="0.27"/>
<path d="M843 446L766 576" stroke-opacity="0.27"/>
<path d="M755 491L822 636" stroke-opacity="0.27"/>
<path d="M861 522L797 625" stroke-opacity="0.27"/>
<path d="M903 590L830 666" stroke-opacity="0.27"/>
<path d="M760 626L603 691M760 626L586 609" stroke-opacity="0.27"/>
<path d="M797 625L818 702" stroke-opacity="0.27"/>
<path d="M667 650L536 809" stroke-opacity="0.27"/>
<path d="M686 701L422 782" stroke-opacity="0.27"/>
<path d="M596 746L509 724" stroke-opacity="0.27"/>
<path d="M689 769L541 724" stroke-opacity="0.27"/>
<path d="M549 780L595 775" stroke-opacity="0.27"/>
<path d="M569 777L510 608" stroke-opacity="0.27"/>
<path d="M468 653L461 843" stroke-opacity="0.27"/>
<path d="M368 701L486 898" stroke-opacity="0.27"/>
<path d="M482 763L413 856M482 763L383 864" stroke-opacity="0.27"/>
<path d="M376 783L313 817" stroke-opacity="0.27"/>
<path d="M313 817L360 872" stroke-opacity="0.27"/>
<path d="M475 807L301 864" stroke-opacity="0.27"/>
<path d="M339 842L401 942" stroke-opacity="0.27"/>
<path d="M461 843L486 898" stroke-opacity="0.27"/>
<path d="M482 128L538 170M482 128L537 270" stroke-opacity="0.28"/>
<path d="M515 128L603 262M515 128L575 290" stroke-opacity="0.28"/>
<path d="M621 146L603 262" stroke-opacity="0.28"/>
<path d="M538 170L603 262" stroke-opacity="0.28"/>
<path d="M594 180L758 228" stroke-opacity="0.28"/>
<path d="M758 228L809 303" stroke-opacity="0.28"/>
<path d="M603 262L660 285M603 262L606 300" stroke-opacity="0.28"/>
<path d="M676 265L717 311" stroke-opacity="0.28"/>
<path d="M503 270L575 290" stroke-opacity="0.28"/>
<path d="M660 285L717 311M660 285L470 438" stroke-opacity="0.28"/>
<path d="M575 290L442 340M575 290L722 341M575 290L509 482" stroke-opacity="0.28"/>
<path d="M606 300L809 303M606 300L541 724M606 300L482 763" stroke-opacity="0.28"/>
<path d="M471 308L364 310M471 308L478 502" stroke-opacity="0.28"/>
<path d="M717 311L814 474" stroke-opacity="0.28"/>
<path d="M364 310L544 610" stroke-opacity="0.28"/>
<path d="M442 340L255 258M442 340L403 366M442 340L348 448M442 340L478 502" stroke-opacity="0.28"/>
<path d="M369 405L429 565M369 405L520 626" stroke-opacity="0.28"/>
<path d="M280 428L403 366M280 428L370 489M280 428L272 600M280 428L403 602M280 428L520 626" stroke-opacity="0.28"/>
<path d="M470 438L478 502M470 438L760 652M470 438L510 608" stroke-opacity="0.28"/>
<path d="M603 433L478 502M603 433L568 665" stroke-opacity="0.28"/>
<path d="M441 482L370 489M441 482L509 482M441 482L280 562M441 482L327 558M441 482L580 454M441 482L446 634M441 482L511 648" stroke-opacity="0.28"/>
<path d="M255 258L403 366M255 258L179 445" stroke-opacity="0.28"/>
<path d="M97 336L116 446" stroke-opacity="0.28"/>
<path d="M403 366L491 397M403 366L370 489" stroke-opacity="0.28"/>
<path d="M491 397L348 448M491 397L509 482" stroke-opacity="0.28"/>
<path d="M603 399L853 475M603 399L666 444M603 399L649 464M603 399L710 546M603 399L596 558" stroke-opacity="0.28"/>
<path d="M821 426L853 475M821 426L927 696M821 426L685 571M821 426L667 650" stroke-opacity="0.28"/>
<path d="M179 445L348 448M179 445L318 485" stroke-opacity="0.28"/>
<path d="M348 448L370 489M348 448L411 522M348 448L469 560M348 448L403 602" stroke-opacity="0.28"/>
<path d="M853 475L778 538M853 475L835 787M853 475L927 514M853 475L732 532" stroke-opacity="0.28"/>
<path d="M318 485L272 600M318 485L164 699" stroke-opacity="0.28"/>
<path d="M370 489L509 482M370 489L478 502M370 489L429 565M370 489L326 615" stroke-opacity="0.28"/>
<path d="M509 482L478 502M509 482L280 562M509 482L544 610" stroke-opacity="0.28"/>
<path d="M478 502L411 522M478 502L429 565M478 502L586 609M478 502L488 650" stroke-opacity="0.28"/>
<path d="M411 522L327 558M411 522L469 560M411 522L586 609" stroke-opacity="0.28"/>
<path d="M656 528L927 696M656 528L752 700M656 528L792 700M656 528L647 714M656 528L618 468M656 528L580 520M656 528L596 558M656 528L651 588M656 528L672 588M656 528L624 614" stroke-opacity="0.28"/>
<path d="M778 538L796 596M778 538L961 677M778 538L752 700M778 538L864 706M778 538L735 730M778 538L666 444M778 538L755 491M778 538L732 532M778 538L672 588M778 538L667 650M778 538L686 701M778 538L510 608" stroke-opacity="0.28"/>
<path d="M280 562L327 558M280 562L403 602M280 562L326 615M280 562L164 699" stroke-opacity="0.28"/>
<path d="M327 558L429 565M327 558L403 602" stroke-opacity="0.28"/>
<path d="M429 565L326 615M429 565L482 730" stroke-opacity="0.28"/>
<path d="M469 560L580 520M469 560L511 648" stroke-opacity="0.28"/>
<path d="M272 600L403 602M272 600L326 615M272 600L245 712" stroke-opacity="0.28"/>
<path d="M403 602L520 626" stroke-opacity="0.28"/>
<path d="M796 596L752 700M796 596L792 700M796 596L720 577M796 596L672 588M796 596L706 675" stroke-opacity="0.28"/>
<path d="M1032 652L927 696M1032 652L1046 778" stroke-opacity="0.28"/>
<path d="M961 677L927 696M961 677L864 706M961 677L852 759M961 677L972 787" stroke-opacity="0.28"/>
<path d="M927 696L864 706M927 696L1027 708M927 696L852 759M927 696L972 787M927 696L902 819" stroke-opacity="0.28"/>
<path d="M752 700L792 700M752 700L1027 708M752 700L735 730M752 700L720 577M752 700L766 576M752 700L672 588M752 700L667 650M752 700L800 665M752 700L706 675M752 700L603 691M752 700L645 693" stroke-opacity="0.28"/>
<path d="M792 700L647 714M792 700L735 730M792 700L835 787M792 700L618 468M792 700L671 553M792 700L903 590M792 700L652 623M792 700L697 642M792 700L646 655" stroke-opacity="0.28"/>
<path d="M864 706L1027 708M864 706L835 787M864 706L972 787" stroke-opacity="0.28"/>
<path d="M1027 708L1046 778M1027 708L972 787M1027 708L902 819" stroke-opacity="0.28"/>
<path d="M647 714L718 739M647 714L618 548M647 714L671 553M647 714L624 614M647 714L697 642M647 714L603 691" stroke-opacity="0.28"/>
<path d="M718 739L735 730M718 739L852 759M718 739L746 791M718 739L835 787M718 739L737 467M718 739L672 588M718 739L706 675M718 739L603 691" stroke-opacity="0.28"/>
<path d="M735 730L852 759M735 730L972 787M735 730L618 548M735 730L603 691" stroke-opacity="0.28"/>
<path d="M852 759L1046 778M852 759L746 791M852 759L972 787M852 759L902 819" stroke-opacity="0.28"/>
<path d="M1046 778L972 787M1046 778L926 919" stroke-opacity="0.28"/>
<path d="M746 791L835 787M746 791L624 614M746 791L686 701" stroke-opacity="0.28"/>
<path d="M835 787L972 787M835 787L902 819M835 787L671 553M835 787L1001 558" stroke-opacity="0.28"/>
<path d="M972 787L902 819M972 787L926 919" stroke-opacity="0.28"/>
<path d="M902 819L710 546" stroke-opacity="0.28"/>
<path d="M807 970L706 675" stroke-opacity="0.28"/>
<path d="M809 303L814 474M809 303L755 491" stroke-opacity="0.28"/>
<path d="M666 444L595 775" stroke-opacity="0.28"/>
<path d="M843 446L814 474M843 446L927 514M843 446L818 702" stroke-opacity="0.28"/>
<path d="M580 454L903 590" stroke-opacity="0.28"/>
<path d="M618 468L800 665M618 468L536 809" stroke-opacity="0.28"/>
<path d="M690 479L587 678" stroke-opacity="0.28"/>
<path d="M814 474L866 500M814 474L804 550M814 474L846 604M814 474L797 625" stroke-opacity="0.28"/>
<path d="M557 493L502 833" stroke-opacity="0.28"/>
<path d="M755 491L802 518M755 491L846 604M755 491L509 724" stroke-opacity="0.28"/>
<path d="M866 500L1001 558M866 500L652 623M866 500L822 636" stroke-opacity="0.28"/>
<path d="M640 508L482 730M640 508L595 775" stroke-opacity="0.28"/>
<path d="M927 514L877 540M927 514L846 604M927 514L646 655" stroke-opacity="0.28"/>
<path d="M580 520L800 665" stroke-opacity="0.28"/>
<path d="M682 525L830 666M682 525L507 660" stroke-opacity="0.28"/>
<path d="M699 519L766 576" stroke-opacity="0.28"/>
<path d="M802 518L753 537M802 518L804 550M802 518L766 576M802 518L822 636M802 518L520 626" stroke-opacity="0.28"/>
<path d="M861 522L877 540M861 522L846 604M861 522L818 702M861 522L495 698" stroke-opacity="0.28"/>
<path d="M753 537L876 588M753 537L818 702M753 537L446 634M753 537L446 678" stroke-opacity="0.28"/>
<path d="M877 540L618 548M877 540L804 550" stroke-opacity="0.28"/>
<path d="M530 551L468 653" stroke-opacity="0.28"/>
<path d="M804 550L766 576M804 550L846 604M804 550L760 626M804 550L800 665M804 550L830 666" stroke-opacity="0.28"/>
<path d="M1001 558L876 588M1001 558L822 636M1001 558L800 665" stroke-opacity="0.28"/>
<path d="M596 558L482 763" stroke-opacity="0.28"/>
<path d="M552 568L760 626M552 568L368 701M552 568L482 763" stroke-opacity="0.28"/>
<path d="M643 568L595 775" stroke-opacity="0.28"/>
<path d="M685 571L822 636M685 571L689 769" stroke-opacity="0.28"/>
<path d="M720 577L563 744" stroke-opacity="0.28"/>
<path d="M766 576L846 604M766 576L800 665" stroke-opacity="0.28"/>
<path d="M876 588L903 590M876 588L818 702" stroke-opacity="0.28"/>
<path d="M903 590L846 604M903 590L822 636M903 590L697 642" stroke-opacity="0.28"/>
<path d="M742 602L760 626" stroke-opacity="0.28"/>
<path d="M846 604L822 636" stroke-opacity="0.28"/>
<path d="M624 614L482 763" stroke-opacity="0.28"/>
<path d="M652 623L482 763" stroke-opacity="0.28"/>
<path d="M760 626L822 636" stroke-opacity="0.28"/>
<path d="M797 625L800 665M797 625L830 666M797 625L586 609" stroke-opacity="0.28"/>
<path d="M822 636L800 665M822 636L510 608" stroke-opacity="0.28"/>
<path d="M739 644L521 774M739 644L595 775M739 644L541 724" stroke-opacity="0.28"/>
<path d="M760 652L563 744" stroke-opacity="0.28"/>
<path d="M646 655L800 665" stroke-opacity="0.28"/>
<path d="M800 665L830 666M800 665L563 744" stroke-opacity="0.28"/>
<path d="M830 666L540 696" stroke-opacity="0.28"/>
<path d="M666 678L422 782" stroke-opacity="0.28"/>
<path d="M706 675L536 809" stroke-opacity="0.28"/>
<path d="M603 691L549 780" stroke-opacity="0.28"/>
<path d="M686 701L482 763" stroke-opacity="0.28"/>
<path d="M818 702L520 626" stroke-opacity="0.28"/>
<path d="M482 730L689 769M482 730L521 774M482 730L569 777M482 730L468 653M482 730L507 660M482 730L540 696M482 730L541 724" stroke-opacity="0.28"/>
<path d="M596 746L521 774M596 746L569 777M596 746L595 775M596 746L468 653M596 746L474 686M596 746L604 716M596 746L563 744" stroke-opacity="0.28"/>
<path d="M758 750L540 696" stroke-opacity="0.28"/>
<path d="M689 769L521 774M689 769L569 777M689 769L556 826" stroke-opacity="0.28"/>
<path d="M521 774L549 780M521 774L556 826M521 774L446 678M521 774L495 698M521 774L604 716" stroke-opacity="0.28"/>
<path d="M549 780L556 826M549 780L544 610M549 780L540 696M549 780L541 724M549 780L574 719M549 780L563 744" stroke-opacity="0.28"/>
<path d="M569 777L543 890M569 777L465 608M569 777L520 626M569 777L511 648M569 777L587 678M569 777L541 724" stroke-opacity="0.28"/>
<path d="M595 775L536 809M595 775L556 826M595 775L446 634M595 775L474 686M595 775L540 696M595 775L563 744" stroke-opacity="0.28"/>
<path d="M536 809L556 826M536 809L586 609M536 809L520 685M536 809L541 724M536 809L563 744" stroke-opacity="0.28"/>
<path d="M556 826L592 839M556 826L586 609M556 826L481 623M556 826L495 698" stroke-opacity="0.28"/>
<path d="M592 839L648 846M592 839L481 623M592 839L446 634M592 839L568 665M592 839L540 696" stroke-opacity="0.28"/>
<path d="M648 846L543 890M648 846L468 653M648 846L474 686" stroke-opacity="0.28"/>
<path d="M543 890L507 660" stroke-opacity="0.28"/>
<path d="M465 608L510 608M465 608L544 610M465 608L586 609M465 608L481 623M465 608L520 626M465 608L446 634M465 608L415 640M465 608L615 642M465 608L468 653M465 608L488 650M465 608L507 660M465 608L511 648M465 608L568 665M465 608L423 670M465 608L446 678M465 608L587 678M465 608L474 686M465 608L520 685M465 608L495 698M465 608L540 696M465 608L449 701M465 608L509 724M465 608L541 724M465 608L574 719M465 608L604 716M465 608L563 744M465 608L415 733M465 608L435 815M465 608L368 906" stroke-opacity="0.28"/>
<path d="M510 608L544 610M510 608L586 609M510 608L481 623M510 608L520 626M510 608L446 634M510 608L415 640M510 608L615 642M510 608L468 653M510 608L488 650M510 608L507 660M510 608L511 648M510 608L568 665M510 608L423 670M510 608L446 678M510 608L587 678M510 608L474 686M510 608L520 685M510 608L495 698M510 608L540 696M510 608L449 701M510 608L509 724M510 608L541 724M510 608L574 719M510 608L604 716M510 608L563 744" stroke-opacity="0.28"/>
<path d="M544 610L586 609M544 610L481 623M544 610L520 626M544 610L446 634M544 610L415 640M544 610L615 642M544 610L468 653M544 610L488 650M544 610L507 660M544 610L511 648M544 610L568 665M544 610L423 670M544 610L446 678M544 610L587 678M544 610L474 686M544 610L520 685M544 610L495 698M544 610L540 696M544 610L449 701M544 610L509 724M544 610L541 724M544 610L574 719M544 610L604 716M544 610L563 744M544 610L461 874" stroke-opacity="0.28"/>
<path d="M586 609L481 623M586 609L520 626M586 609L446 634M586 609L415 640M586 609L615 642M586 609L468 653M586 609L488 650M586 609L507 660M586 609L511 648M586 609L568 665M586 609L423 670M586 609L446 678M586 609L587 678M586 609L474 686M586 609L520 685M586 609L495 698M586 609L540 696M586 609L449 701M586 609L509 724M586 609L541 724M586 609L574 719M586 609L604 716M586 609L563 744M586 609L482 763M586 609L475 807" stroke-opacity="0.28"/>
<path d="M481 623L520 626M481 623L446 634M481 623L415 640M481 623L615 642M481 623L468 653M481 623L488 650M481 623L507 660M481 623L511 648M481 623L568 665M481 623L423 670M481 623L446 678M481 623L587 678M481 623L474 686M481 623L520 685M481 623L495 698M481 623L540 696M481 623L449 701M481 623L509 724M481 623L541 724M481 623L574 719M481 623L604 716M481 623L563 744M481 623L313 817M481 623L422 904" stroke-opacity="0.28"/>
<path d="M520 626L446 634M520 626L415 640M520 626L615 642M520 626L468 653M520 626L488 650M520 626L507 660M520 626L511 648M520 626L568 665M520 626L423 670M520 626L446 678M520 626L587 678M520 626L474 686M520 626L520 685M520 626L495 698M520 626L540 696M520 626L449 701M520 626L509 724M520 626L541 724M520 626L574 719M520 626L604 716M520 626L563 744M520 626L475 807" stroke-opacity="0.28"/>
<path d="M446 634L415 640M446 634L615 642M446 634L468 653M446 634L488 650M446 634L507 660M446 634L511 648M446 634L568 665M446 634L423 670M446 634L446 678M446 634L587 678M446 634L474 686M446 634L520 685M446 634L495 698M446 634L540 696M446 634L449 701M446 634L509 724M446 634L541 724M446 634L574 719M446 634L604 716M446 634L563 744M446 634L368 701M446 634L435 815" stroke-opacity="0.28"/>
<path d="M415 640L615 642M415 640L468 653M415 640L488 650M415 640L507 660M415 640L511 648M415 640L568 665M415 640L423 670M415 640L446 678M415 640L587 678M415 640L474 686M415 640L520 685M415 640L495 698M415 640L540 696M415 640L449 701M415 640L509 724M415 640L541 724M415 640L574 719M415 640L604 716M415 640L563 744" stroke-opacity="0.28"/>
<path d="M615 642L468 653M615 642L488 650M615 642L507 660M615 642L511 648M615 642L568 665M615 642L423 670M615 642L446 678M615 642L587 678M615 642L474 686M615 642L520 685M615 642L495 698M615 642L540 696M615 642L449 701M615 642L509 724M615 642L541 724M615 642L574 719M615 642L604 716M615 642L563 744M615 642L435 815" stroke-opacity="0.28"/>
<path d="M468 653L488 650M468 653L507 660M468 653L511 648M468 653L568 665M468 653L423 670M468 653L446 678M468 653L587 678M468 653L474 686M468 653L520 685M468 653L495 698M468 653L540 696M468 653L449 701M468 653L509 724M468 653L541 724M468 653L574 719M468 653L604 716M468 653L563 744M468 653L351 750M468 653L373 813M468 653L502 833M468 653L360 872" stroke-opacity="0.28"/>
<path d="M488 650L507 660M488 650L511 648M488 650L568 665M488 650L423 670M488 650L446 678M488 650L587 678M488 650L474 686M488 650L520 685M488 650L495 698M488 650L540 696M488 650L449 701M488 650L509 724M488 650L541 724M488 650L574 719M488 650L604 716M488 650L563 744M488 650L475 807" stroke-opacity="0.28"/>
<path d="M507 660L511 648M507 660L568 665M507 660L423 670M507 660L446 678M507 660L587 678M507 660L474 686M507 660L520 685M507 660L495 698M507 660L540 696M507 660L449 701M507 660L509 724M507 660L541 724M507 660L574 719M507 660L604 716M507 660L563 744M507 660L351 750" stroke-opacity="0.28"/>
<path d="M511 648L568 665M511 648L423 670M511 648L446 678M511 648L587 678M511 648L474 686M511 648L520 685M511 648L495 698M511 648L540 696M511 648L449 701M511 648L509 724M511 648L541 724M511 648L574 719M511 648L604 716M511 648L563 744M511 648L486 898" stroke-opacity="0.28"/>
<path d="M568 665L423 670M568 665L446 678M568 665L587 678M568 665L474 686M568 665L520 685M568 665L495 698M568 665L540 696M568 665L449 701M568 665L509 724M568 665L541 724M568 665L574 719M568 665L604 716M568 665L563 744" stroke-opacity="0.28"/>
<path d="M423 670L446 678M423 670L587 678M423 670L474 686M423 670L520 685M423 670L495 698M423 670L540 696M423 670L449 701M423 670L509 724M423 670L541 724M423 670L574 719M423 670L604 716M423 670L563 744M423 670L415 733M423 670L435 815M423 670L461 874" stroke-opacity="0.28"/>
<path d="M446 678L587 678M446 678L474 686M446 678L520 685M446 678L495 698M446 678L540 696M446 678L449 701M446 678L509 724M446 678L541 724M446 678L574 719M446 678L604 716M446 678L563 744M446 678L482 763M446 678L502 833" stroke-opacity="0.28"/>
<path d="M587 678L474 686M587 678L520 685M587 678L495 698M587 678L540 696M587 678L449 701M587 678L509 724M587 678L541 724M587 678L574 719M587 678L604 716M587 678L563 744" stroke-opacity="0.28"/>
<path d="M474 686L520 685M474 686L495 698M474 686L540 696M474 686L449 701M474 686L509 724M474 686L541 724M474 686L574 719M474 686L604 716M474 686L563 744M474 686L351 750M474 686L475 807M474 686L446 947" stroke-opacity="0.28"/>
<path d="M520 685L495 698M520 685L540 696M520 685L449 701M520 685L509 724M520 685L541 724M520 685L574 719M520 685L604 716M520 685L563 744M520 685L502 833" stroke-opacity="0.28"/>
<path d="M495 698L540 696M495 698L449 701M495 698L509 724M495 698L541 724M495 698L574 719M495 698L604 716M495 698L563 744M495 698L422 782" stroke-opacity="0.28"/>
<path d="M540 696L449 701M540 696L509 724M540 696L541 724M540 696L574 719M540 696L604 716M540 696L563 744" stroke-opacity="0.28"/>
<path d="M449 701L509 724M449 701L541 724M449 701L574 719M449 701L604 716M449 701L563 744M449 701L313 817" stroke-opacity="0.28"/>
<path d="M509 724L541 724M509 724L574 719M509 724L604 716M509 724L563 744" stroke-opacity="0.28"/>
<path d="M541 724L574 719M541 724L604 716M541 724L563 744M541 724L415 733M541 724L376 783" stroke-opacity="0.28"/>
<path d="M574 719L604 716M574 719L563 744M574 719L415 733M574 719L482 763" stroke-opacity="0.28"/>
<path d="M604 716L563 744M604 716L422 782" stroke-opacity="0.28"/>
<path d="M368 701L415 733M368 701L482 763M368 701L376 783M368 701L422 782M368 701L313 817M368 701L502 833M368 701L461 843M368 701L301 864M368 701L360 872M368 701L461 874M368 701L368 906M368 701L422 904M368 701L401 942" stroke-opacity="0.28"/>
<path d="M415 733L351 750M415 733L482 763M415 733L376 783M415 733L313 817M415 733L475 807M415 733L339 842M415 733L383 864M415 733L368 906M415 733L422 904M415 733L401 942" stroke-opacity="0.28"/>
<path d="M351 750L482 763M351 750L376 783M351 750L422 782M351 750L373 813M351 750L435 815M351 750L475 807M351 750L502 833M351 750L301 864M351 750L461 874M351 750L486 898M351 750L368 906M351 750L401 942M351 750L446 947" stroke-opacity="0.28"/>
<path d="M482 763L376 783M482 763L422 782M482 763L313 817M482 763L373 813M482 763L435 815M482 763L339 842M482 763L502 833M482 763L461 843M482 763L301 864M482 763L368 906M482 763L446 947" stroke-opacity="0.28"/>
<path d="M376 783L422 782M376 783L373 813M376 783L475 807M376 783L339 842M376 783L502 833M376 783L461 843M376 783L413 856M376 783L360 872M376 783L461 874M376 783L368 906M376 783L422 904M376 783L446 947" stroke-opacity="0.28"/>
<path d="M422 782L313 817M422 782L435 815M422 782L475 807M422 782L502 833M422 782L461 843M422 782L413 856M422 782L301 864M422 782L383 864M422 782L360 872M422 782L461 874M422 782L401 942M422 782L446 947" stroke-opacity="0.28"/>
<path d="M313 817L373 813M313 817L339 842M313 817L502 833M313 817L413 856M313 817L301 864M313 817L383 864M313 817L368 906M313 817L422 904M313 817L446 947" stroke-opacity="0.28"/>
<path d="M373 813L339 842M373 813L502 833M373 813L461 843M373 813L413 856M373 813L383 864M373 813L360 872M373 813L368 906M373 813L446 947" stroke-opacity="0.28"/>
<path d="M435 815L475 807M435 815L339 842M435 815L461 843M435 815L413 856M435 815L383 864M435 815L360 872M435 815L461 874M435 815L368 906M435 815L422 904M435 815L401 942M435 815L446 947" stroke-opacity="0.28"/>
<path d="M475 807L502 833M475 807L461 843M475 807L360 872M475 807L461 874M475 807L486 898M475 807L368 906M475 807L422 904" stroke-opacity="0.28"/>
<path d="M339 842L502 833M339 842L413 856M339 842L301 864M339 842L383 864M339 842L461 874M339 842L368 906M339 842L446 947" stroke-opacity="0.28"/>
<path d="M502 833L413 856M502 833L301 864M502 833L360 872M502 833L461 874M502 833L486 898M502 833L422 904M502 833L401 942" stroke-opacity="0.28"/>
<path d="M461 843L413 856M461 843L301 864M461 843L383 864M461 843L461 874M461 843L368 906M461 843L422 904" stroke-opacity="0.28"/>
<path d="M413 856L301 864M413 856L383 864M413 856L360 872M413 856L461 874M413 856L486 898M413 856L368 906M413 856L422 904" stroke-opacity="0.28"/>
<path d="M301 864L461 874M301 864L486 898M301 864L401 942M301 864L446 947" stroke-opacity="0.28"/>
<path d="M383 864L360 872M383 864L461 874M383 864L486 898M383 864L401 942" stroke-opacity="0.28"/>
<path d="M360 872L461 874M360 872L486 898M360 872L368 906M360 872L422 904M360 872L401 942M360 872L446 947" stroke-opacity="0.28"/>
<path d="M461 874L486 898M461 874L368 906M461 874L401 942M461 874L446 947" stroke-opacity="0.28"/>
<path d="M486 898L422 904M486 898L401 942M486 898L446 947" stroke-opacity="0.28"/>
<path d="M368 906L422 904M368 906L401 942" stroke-opacity="0.28"/>
<path d="M422 904L401 942" stroke-opacity="0.28"/>
<path d="M401 942L446 947" stroke-opacity="0.28"/>
</g>
<g class="n">
<circle cx="319.3" cy="156.5" r="11" fill="#a6d854"/>
<circle cx="482.3" cy="128.5" r="11" fill="#a6d854"/>
<circle cx="515.3" cy="128.5" r="11" fill="#a6d854"/>
<circle cx="621.0" cy="145.5" r="11" fill="#a6d854"/>
<circle cx="537.6" cy="170.2" r="11" fill="#a6d854"/>
<circle cx="594.3" cy="180.2" r="11" fill="#a6d854"/>
<circle cx="758.0" cy="228.2" r="11" fill="#a6d854"/>
<circle cx="603.3" cy="262.2" r="11" fill="#a6d854"/>
<circle cx="676.3" cy="264.8" r="11" fill="#a6d854"/>
<circle cx="503.3" cy="270.2" r="11" fill="#a6d854"/>
<circle cx="536.6" cy="270.5" r="11" fill="#a6d854"/>
<circle cx="660.0" cy="285.2" r="11" fill="#a6d854"/>
<circle cx="575.3" cy="290.5" r="11" fill="#a6d854"/>
<circle cx="606.0" cy="299.8" r="11" fill="#a6d854"/>
<circle cx="471.3" cy="307.5" r="11" fill="#a6d854"/>
<circle cx="716.6" cy="310.8" r="11" fill="#a6d854"/>
<circle cx="364.0" cy="310.5" r="11" fill="#a6d854"/>
<circle cx="442.3" cy="339.5" r="11" fill="#a6d854"/>
<circle cx="721.6" cy="341.2" r="11" fill="#a6d854"/>
<circle cx="306.6" cy="352.8" r="11" fill="#a6d854"/>
<circle cx="369.0" cy="405.2" r="11" fill="#a6d854"/>
<circle cx="280.3" cy="427.5" r="11" fill="#a6d854"/>
<circle cx="470.3" cy="437.5" r="11" fill="#a6d854"/>
<circle cx="602.8" cy="433.0" r="11" fill="#a6d854"/>
<circle cx="440.8" cy="481.5" r="11" fill="#a6d854"/>
<circle cx="255.0" cy="258.2" r="11" fill="#8da0cb"/>
<circle cx="274.3" cy="282.8" r="11" fill="#8da0cb"/>
<circle cx="97.3" cy="336.5" r="11" fill="#8da0cb"/>
<circle cx="403.0" cy="365.8" r="11" fill="#8da0cb"/>
<circle cx="491.0" cy="396.8" r="11" fill="#8da0cb"/>
<circle cx="603.3" cy="398.8" r="11" fill="#8da0cb"/>
<circle cx="820.6" cy="425.5" r="11" fill="#8da0cb"/>
<circle cx="116.3" cy="446.5" r="11" fill="#8da0cb"/>
<circle cx="178.8" cy="445.0" r="11" fill="#8da0cb"/>
<circle cx="348.3" cy="448.0" r="11" fill="#8da0cb"/>
<circle cx="852.8" cy="475.0" r="11" fill="#8da0cb"/>
<circle cx="318.3" cy="485.2" r="11" fill="#8da0cb"/>
<circle cx="370.3" cy="489.2" r="11" fill="#8da0cb"/>
<circle cx="508.6" cy="482.2" r="11" fill="#8da0cb"/>
<circle cx="477.8" cy="501.5" r="11" fill="#8da0cb"/>
<circle cx="411.3" cy="522.5" r="11" fill="#8da0cb"/>
<circle cx="1133.3" cy="519.8" r="11" fill="#8da0cb"/>
<circle cx="656.0" cy="527.5" r="11" fill="#8da0cb"/>
<circle cx="777.8" cy="538.0" r="11" fill="#8da0cb"/>
<circle cx="279.6" cy="561.8" r="11" fill="#8da0cb"/>
<circle cx="327.0" cy="557.8" r="11" fill="#8da0cb"/>
<circle cx="428.8" cy="565.0" r="11" fill="#8da0cb"/>
<circle cx="469.0" cy="560.5" r="11" fill="#8da0cb"/>
<circle cx="272.3" cy="599.5" r="11" fill="#8da0cb"/>
<circle cx="402.6" cy="601.8" r="11" fill="#8da0cb"/>
<circle cx="326.3" cy="615.2" r="11" fill="#8da0cb"/>
<circle cx="796.0" cy="595.8" r="11" fill="#8da0cb"/>
<circle cx="1032.3" cy="651.8" r="11" fill="#8da0cb"/>
<circle cx="961.0" cy="676.8" r="11" fill="#8da0cb"/>
<circle cx="926.8" cy="696.0" r="11" fill="#8da0cb"/>
<circle cx="163.6" cy="699.2" r="11" fill="#8da0cb"/>
<circle cx="244.6" cy="711.8" r="11" fill="#8da0cb"/>
<circle cx="751.8" cy="699.5" r="11" fill="#8da0cb"/>
<circle cx="791.6" cy="699.5" r="11" fill="#8da0cb"/>
<circle cx="864.0" cy="706.5" r="11" fill="#8da0cb"/>
<circle cx="1027.3" cy="707.5" r="11" fill="#8da0cb"/>
<circle cx="646.8" cy="714.2" r="11" fill="#8da0cb"/>
<circle cx="717.8" cy="738.7" r="11" fill="#8da0cb"/>
<circle cx="734.8" cy="729.5" r="11" fill="#8da0cb"/>
<circle cx="852.5" cy="758.8" r="11" fill="#8da0cb"/>
<circle cx="1045.6" cy="778.2" r="11" fill="#8da0cb"/>
<circle cx="746.0" cy="790.8" r="11" fill="#8da0cb"/>
<circle cx="835.1" cy="787.0" r="11" fill="#8da0cb"/>
<circle cx="972.3" cy="787.2" r="11" fill="#8da0cb"/>
<circle cx="902.3" cy="819.2" r="11" fill="#8da0cb"/>
<circle cx="926.3" cy="919.0" r="11" fill="#8da0cb"/>
<circle cx="807.3" cy="970.2" r="11" fill="#8da0cb"/>
<circle cx="809.3" cy="303.2" r="11" fill="#e5c494"/>
<circle cx="636.3" cy="402.2" r="11" fill="#e5c494"/>
<circle cx="712.3" cy="433.5" r="11" fill="#e5c494"/>
<circle cx="666.0" cy="443.5" r="11" fill="#e5c494"/>
<circle cx="843.3" cy="446.1" r="11" fill="#e5c494"/>
<circle cx="579.8" cy="453.5" r="11" fill="#e5c494"/>
<circle cx="648.8" cy="463.5" r="11" fill="#e5c494"/>
<circle cx="617.8" cy="468.5" r="11" fill="#e5c494"/>
<circle cx="736.8" cy="466.7" r="11" fill="#e5c494"/>
<circle cx="689.6" cy="479.0" r="11" fill="#e5c494"/>
<circle cx="813.8" cy="473.8" r="11" fill="#e5c494"/>
<circle cx="557.3" cy="492.8" r="11" fill="#e5c494"/>
<circle cx="755.3" cy="490.8" r="11" fill="#e5c494"/>
<circle cx="730.8" cy="501.7" r="11" fill="#e5c494"/>
<circle cx="866.5" cy="499.5" r="11" fill="#e5c494"/>
<circle cx="639.8" cy="508.0" r="11" fill="#e5c494"/>
<circle cx="927.0" cy="514.0" r="11" fill="#e5c494"/>
<circle cx="579.8" cy="519.8" r="11" fill="#e5c494"/>
<circle cx="681.6" cy="524.8" r="11" fill="#e5c494"/>
<circle cx="699.0" cy="518.7" r="11" fill="#e5c494"/>
<circle cx="802.0" cy="517.5" r="11" fill="#e5c494"/>
<circle cx="860.8" cy="522.1" r="11" fill="#e5c494"/>
<circle cx="731.6" cy="531.5" r="11" fill="#e5c494"/>
<circle cx="753.3" cy="536.8" r="11" fill="#e5c494"/>
<circle cx="876.8" cy="540.2" r="11" fill="#e5c494"/>
<circle cx="530.3" cy="550.8" r="11" fill="#e5c494"/>
<circle cx="617.8" cy="548.5" r="11" fill="#e5c494"/>
<circle cx="709.8" cy="546.3" r="11" fill="#e5c494"/>
<circle cx="804.0" cy="549.8" r="11" fill="#e5c494"/>
<circle cx="670.6" cy="553.0" r="11" fill="#e5c494"/>
<circle cx="1001.3" cy="557.5" r="11" fill="#e5c494"/>
<circle cx="596.0" cy="558.5" r="11" fill="#e5c494"/>
<circle cx="551.8" cy="568.2" r="11" fill="#e5c494"/>
<circle cx="642.6" cy="568.2" r="11" fill="#e5c494"/>
<circle cx="685.3" cy="571.2" r="11" fill="#e5c494"/>
<circle cx="719.8" cy="576.8" r="11" fill="#e5c494"/>
<circle cx="766.0" cy="575.8" r="11" fill="#e5c494"/>
<circle cx="875.6" cy="587.5" r="11" fill="#e5c494"/>
<circle cx="902.7" cy="589.7" r="11" fill="#e5c494"/>
<circle cx="609.8" cy="590.5" r="11" fill="#e5c494"/>
<circle cx="650.8" cy="587.5" r="11" fill="#e5c494"/>
<circle cx="672.3" cy="588.5" r="11" fill="#e5c494"/>
<circle cx="742.0" cy="602.5" r="11" fill="#e5c494"/>
<circle cx="846.3" cy="604.5" r="11" fill="#e5c494"/>
<circle cx="624.3" cy="613.8" r="11" fill="#e5c494"/>
<circle cx="651.8" cy="622.8" r="11" fill="#e5c494"/>
<circle cx="760.3" cy="626.0" r="11" fill="#e5c494"/>
<circle cx="797.3" cy="625.0" r="11" fill="#e5c494"/>
<circle cx="822.0" cy="635.5" r="11" fill="#e5c494"/>
<circle cx="697.1" cy="642.5" r="11" fill="#e5c494"/>
<circle cx="739.3" cy="644.5" r="11" fill="#e5c494"/>
<circle cx="666.8" cy="650.5" r="11" fill="#e5c494"/>
<circle cx="759.8" cy="652.5" r="11" fill="#e5c494"/>
<circle cx="557.8" cy="655.9" r="11" fill="#e5c494"/>
<circle cx="645.8" cy="654.9" r="11" fill="#e5c494"/>
<circle cx="799.6" cy="664.8" r="11" fill="#e5c494"/>
<circle cx="830.1" cy="665.7" r="11" fill="#e5c494"/>
<circle cx="665.8" cy="678.5" r="11" fill="#e5c494"/>
<circle cx="705.6" cy="675.0" r="11" fill="#e5c494"/>
<circle cx="602.8" cy="691.3" r="11" fill="#e5c494"/>
<circle cx="644.8" cy="693.3" r="11" fill="#e5c494"/>
<circle cx="566.6" cy="698.8" r="11" fill="#e5c494"/>
<circle cx="686.0" cy="700.8" r="11" fill="#e5c494"/>
<circle cx="817.7" cy="702.5" r="11" fill="#e5c494"/>
<circle cx="482.0" cy="730.2" r="11" fill="#e5c494"/>
<circle cx="596.1" cy="745.7" r="11" fill="#e5c494"/>
<circle cx="757.6" cy="749.5" r="11" fill="#e5c494"/>
<circle cx="689.1" cy="768.8" r="11" fill="#e5c494"/>
<circle cx="520.7" cy="773.8" r="11" fill="#e5c494"/>
<circle cx="548.6" cy="780.5" r="11" fill="#e5c494"/>
<circle cx="569.0" cy="777.2" r="11" fill="#e5c494"/>
<circle cx="595.1" cy="774.9" r="11" fill="#e5c494"/>
<circle cx="536.5" cy="808.7" r="11" fill="#e5c494"/>
<circle cx="556.5" cy="825.5" r="11" fill="#e5c494"/>
<circle cx="591.7" cy="839.2" r="11" fill="#e5c494"/>
<circle cx="647.5" cy="845.9" r="11" fill="#e5c494"/>
<circle cx="690.3" cy="865.1" r="11" fill="#e5c494"/>
<circle cx="542.9" cy="889.5" r="11" fill="#e5c494"/>
<circle cx="465.0" cy="607.8" r="11" fill="#bdbdbd"/>
<circle cx="509.8" cy="607.8" r="11" fill="#bdbdbd"/>
<circle cx="544.0" cy="609.8" r="11" fill="#bdbdbd"/>
<circle cx="586.3" cy="608.8" r="11" fill="#bdbdbd"/>
<circle cx="480.8" cy="622.8" r="11" fill="#bdbdbd"/>
<circle cx="520.3" cy="626.2" r="11" fill="#bdbdbd"/>
<circle cx="446.5" cy="633.7" r="11" fill="#bdbdbd"/>
<circle cx="415.3" cy="639.8" r="11" fill="#bdbdbd"/>
<circle cx="615.3" cy="642.1" r="11" fill="#bdbdbd"/>
<circle cx="467.8" cy="652.7" r="11" fill="#bdbdbd"/>
<circle cx="487.6" cy="649.9" r="11" fill="#bdbdbd"/>
<circle cx="506.6" cy="660.0" r="11" fill="#bdbdbd"/>
<circle cx="510.9" cy="648.0" r="11" fill="#bdbdbd"/>
<circle cx="567.8" cy="664.8" r="11" fill="#bdbdbd"/>
<circle cx="422.6" cy="669.8" r="11" fill="#bdbdbd"/>
<circle cx="445.6" cy="677.7" r="11" fill="#bdbdbd"/>
<circle cx="586.9" cy="677.5" r="11" fill="#bdbdbd"/>
<circle cx="473.8" cy="686.0" r="11" fill="#bdbdbd"/>
<circle cx="519.6" cy="684.9" r="11" fill="#bdbdbd"/>
<circle cx="494.8" cy="697.5" r="11" fill="#bdbdbd"/>
<circle cx="540.3" cy="696.5" r="11" fill="#bdbdbd"/>
<circle cx="448.8" cy="700.9" r="11" fill="#bdbdbd"/>
<circle cx="508.6" cy="723.5" r="11" fill="#bdbdbd"/>
<circle cx="541.0" cy="724.5" r="11" fill="#bdbdbd"/>
<circle cx="574.1" cy="718.9" r="11" fill="#bdbdbd"/>
<circle cx="604.0" cy="716.0" r="11" fill="#bdbdbd"/>
<circle cx="562.6" cy="743.8" r="11" fill="#bdbdbd"/>
<circle cx="367.6" cy="701.2" r="11" fill="#6ec3a6"/>
<circle cx="414.8" cy="733.3" r="11" fill="#6ec3a6"/>
<circle cx="350.8" cy="750.5" r="11" fill="#6ec3a6"/>
<circle cx="481.9" cy="763.2" r="11" fill="#6ec3a6"/>
<circle cx="375.5" cy="782.7" r="11" fill="#6ec3a6"/>
<circle cx="422.0" cy="781.7" r="11" fill="#6ec3a6"/>
<circle cx="313.0" cy="816.8" r="11" fill="#6ec3a6"/>
<circle cx="373.3" cy="812.8" r="11" fill="#6ec3a6"/>
<circle cx="435.3" cy="815.1" r="11" fill="#6ec3a6"/>
<circle cx="474.7" cy="807.3" r="11" fill="#6ec3a6"/>
<circle cx="339.0" cy="841.5" r="11" fill="#6ec3a6"/>
<circle cx="502.0" cy="833.2" r="11" fill="#6ec3a6"/>
<circle cx="460.7" cy="842.9" r="11" fill="#6ec3a6"/>
<circle cx="412.6" cy="856.5" r="11" fill="#6ec3a6"/>
<circle cx="301.0" cy="863.8" r="11" fill="#6ec3a6"/>
<circle cx="383.0" cy="863.8" r="11" fill="#6ec3a6"/>
<circle cx="359.6" cy="871.5" r="11" fill="#6ec3a6"/>
<circle cx="460.7" cy="873.7" r="11" fill="#6ec3a6"/>
<circle cx="486.3" cy="898.5" r="11" fill="#6ec3a6"/>
<circle cx="368.0" cy="905.5" r="11" fill="#6ec3a6"/>
<circle cx="422.3" cy="903.5" r="11" fill="#6ec3a6"/>
<circle cx="400.6" cy="942.5" r="11" fill="#6ec3a6"/>
<circle cx="445.6" cy="946.8" r="11" fill="#6ec3a6"/>
</g>
<g class="l">
<text transform="translate(319.3 159.6) scale(.9 1)">SPG</text>
<text transform="translate(482.3 131.6) scale(.9 1)">D</text>
<text transform="translate(515.3 131.6) scale(.9 1)">SO</text>
<text transform="translate(621.0 148.6) scale(.9 1)">EXC</text>
<text transform="translate(537.6 173.3) scale(.9 1)">DUK</text>
<text transform="translate(594.3 183.3) scale(.9 1)">KMB</text>
<text transform="translate(758.0 231.3) scale(.9 1)">AMT</text>
<text transform="translate(603.3 265.3) scale(.9 1)">CL</text>
<text transform="translate(676.3 267.9) scale(.9 1)">PEP</text>
<text transform="translate(503.3 273.3) scale(.9 1)">GIS</text>
<text transform="translate(536.6 273.6) scale(.9 1)">NEE</text>
<text transform="translate(660.0 288.3) scale(.9 1)">MO</text>
<text transform="translate(575.3 293.6) scale(.9 1)">KO</text>
<text transform="translate(606.0 302.9) scale(.9 1)">PG</text>
<text transform="translate(471.3 310.6) scale(.9 1)">VZ</text>
<text transform="translate(716.6 313.9) scale(.9 1)">VOD</text>
<text transform="translate(364.0 313.6) scale(.9 1)">NEM</text>
<text transform="translate(442.3 342.6) scale(.9 1)">T</text>
<text transform="translate(721.6 344.3) scale(.9 1)">PM</text>
<text transform="translate(306.6 355.9) scale(.9 1)">ABX</text>
<text transform="translate(369.0 408.3) scale(.9 1)">TWX</text>
<text transform="translate(280.3 430.6) scale(.9 1)">GG</text>
<text transform="translate(470.3 440.6) scale(.9 1)">TRV</text>
<text transform="translate(602.8 436.1) scale(.9 1)">MDLZ</text>
<text transform="translate(440.8 484.6) scale(.9 1)">ADM</text>
<text transform="translate(255.0 261.3) scale(.9 1)">WMT</text>
<text transform="translate(274.3 285.9) scale(.9 1)">CBS</text>
<text transform="translate(97.3 339.6) scale(.9 1)">KR</text>
<text transform="translate(403.0 368.9) scale(.9 1)">COST</text>
<text transform="translate(491.0 399.9) scale(.9 1)">NKE</text>
<text transform="translate(603.3 401.9) scale(.9 1)">WBA</text>
<text transform="translate(820.6 428.6) scale(.9 1)">JNJ</text>
<text transform="translate(116.3 449.6) scale(.9 1)">AZO</text>
<text transform="translate(178.8 448.1) scale(.9 1)">TGT</text>
<text transform="translate(348.3 451.1) scale(.9 1)">TJX</text>
<text transform="translate(852.8 478.1) scale(.9 1)">MDT</text>
<text transform="translate(318.3 488.3) scale(.9 1)">DG</text>
<text transform="translate(370.3 492.3) scale(.9 1)">CVS</text>
<text transform="translate(508.6 485.3) scale(.9 1)">FOXA</text>
<text transform="translate(477.8 504.6) scale(.9 1)">HD</text>
<text transform="translate(411.3 525.6) scale(.9 1)">DIS</text>
<text transform="translate(1133.3 522.9) scale(.9 1)">HUM</text>
<text transform="translate(656.0 530.6) scale(.9 1)">ANTM</text>
<text transform="translate(777.8 541.1) scale(.9 1)">ABT</text>
<text transform="translate(279.6 564.9) scale(.9 1)">M</text>
<text transform="translate(327.0 560.9) scale(.9 1)">BBY</text>
<text transform="translate(428.8 568.1) scale(.9 1)">LOW</text>
<text transform="translate(469.0 563.6) scale(.9 1)">GE</text>
<text transform="translate(272.3 602.6) scale(.9 1)">KSS</text>
<text transform="translate(402.6 604.9) scale(.9 1)">TPR</text>
<text transform="translate(326.3 618.3) scale(.9 1)">GPS</text>
<text transform="translate(796.0 598.9) scale(.9 1)">TMO</text>
<text transform="translate(1032.3 654.9) scale(.9 1)">ALXN</text>
<text transform="translate(961.0 679.9) scale(.9 1)">LLY</text>
<text transform="translate(926.8 699.1) scale(.9 1)">GILD</text>
<text transform="translate(163.6 702.3) scale(.9 1)">CMG</text>
<text transform="translate(244.6 714.9) scale(.9 1)">CTL</text>
<text transform="translate(751.8 702.6) scale(.9 1)">AET</text>
<text transform="translate(791.6 702.6) scale(.9 1)">AMGN</text>
<text transform="translate(864.0 709.6) scale(.9 1)">MRK</text>
<text transform="translate(1027.3 710.6) scale(.9 1)">BMY</text>
<text transform="translate(646.8 717.3) scale(.9 1)">LUV</text>
<text transform="translate(717.8 741.8) scale(.9 1)">ESRX</text>
<text transform="translate(734.8 732.6) scale(.9 1)">PFE</text>
<text transform="translate(852.5 761.9) scale(.9 1)">BIIB</text>
<text transform="translate(1045.6 781.3) scale(.9 1)">AGN</text>
<text transform="translate(746.0 793.9) scale(.9 1)">MCK</text>
<text transform="translate(835.1 790.1) scale(.9 1)">CELG</text>
<text transform="translate(972.3 790.3) scale(.9 1)">REGN</text>
<text transform="translate(902.3 822.3) scale(.9 1)">MYL</text>
<text transform="translate(926.3 922.1) scale(.9 1)">VRX</text>
<text transform="translate(807.3 973.3) scale(.9 1)">TEVA</text>
<text transform="translate(809.3 306.3) scale(.9 1)">MCD</text>
<text transform="translate(636.3 405.3) scale(.9 1)">SBUX</text>
<text transform="translate(712.3 436.6) scale(.9 1)">YUM</text>
<text transform="translate(666.0 446.6) scale(.9 1)">ITUB</text>
<text transform="translate(843.3 449.2) scale(.9 1)">AAPL</text>
<text transform="translate(579.8 456.6) scale(.9 1)">CMCSA</text>
<text transform="translate(648.8 466.6) scale(.9 1)">ACN</text>
<text transform="translate(617.8 471.6) scale(.9 1)">MMM</text>
<text transform="translate(736.8 469.8) scale(.9 1)">CCL</text>
<text transform="translate(689.6 482.1) scale(.9 1)">LMT</text>
<text transform="translate(813.8 476.9) scale(.9 1)">ATVI</text>
<text transform="translate(557.3 495.9) scale(.9 1)">MON</text>
<text transform="translate(755.3 493.9) scale(.9 1)">ADBE</text>
<text transform="translate(730.8 504.8) scale(.9 1)">NOC</text>
<text transform="translate(866.5 502.6) scale(.9 1)">ISRG</text>
<text transform="translate(639.8 511.1) scale(.9 1)">INTC</text>
<text transform="translate(927.0 517.1) scale(.9 1)">LVS</text>
<text transform="translate(579.8 522.9) scale(.9 1)">CSX</text>
<text transform="translate(681.6 527.9) scale(.9 1)">UTX</text>
<text transform="translate(699.0 521.8) scale(.9 1)">CTSH</text>
<text transform="translate(802.0 520.6) scale(.9 1)">AMZN</text>
<text transform="translate(860.8 525.2) scale(.9 1)">BAX</text>
<text transform="translate(731.6 534.6) scale(.9 1)">DHR</text>
<text transform="translate(753.3 539.9) scale(.9 1)">GOOGL</text>
<text transform="translate(876.8 543.3) scale(.9 1)">EXPE</text>
<text transform="translate(530.3 553.9) scale(.9 1)">IBM</text>
<text transform="translate(617.8 551.6) scale(.9 1)">HON</text>
<text transform="translate(709.8 549.4) scale(.9 1)">MSFT</text>
<text transform="translate(804.0 552.9) scale(.9 1)">CRM</text>
<text transform="translate(670.6 556.1) scale(.9 1)">V</text>
<text transform="translate(1001.3 560.6) scale(.9 1)">WYNN</text>
<text transform="translate(596.0 561.6) scale(.9 1)">ITW</text>
<text transform="translate(551.8 571.3) scale(.9 1)">UPS</text>
<text transform="translate(642.6 571.3) scale(.9 1)">GD</text>
<text transform="translate(685.3 574.3) scale(.9 1)">MA</text>
<text transform="translate(719.8 579.9) scale(.9 1)">ORCL</text>
<text transform="translate(766.0 578.9) scale(.9 1)">PCLN</text>
<text transform="translate(875.6 590.6) scale(.9 1)">BIDU</text>
<text transform="translate(902.7 592.8) scale(.9 1)">NVDA</text>
<text transform="translate(609.8 593.6) scale(.9 1)">GLW</text>
<text transform="translate(650.8 590.6) scale(.9 1)">CSCO</text>
<text transform="translate(672.3 591.6) scale(.9 1)">TXN</text>
<text transform="translate(742.0 605.6) scale(.9 1)">TSM</text>
<text transform="translate(846.3 607.6) scale(.9 1)">NFLX</text>
<text transform="translate(624.3 616.9) scale(.9 1)">JNPR</text>
<text transform="translate(651.8 625.9) scale(.9 1)">FDX</text>
<text transform="translate(760.3 629.1) scale(.9 1)">VMW</text>
<text transform="translate(797.3 628.1) scale(.9 1)">RTN</text>
<text transform="translate(822.0 638.6) scale(.9 1)">AABA</text>
<text transform="translate(697.1 645.6) scale(.9 1)">STX</text>
<text transform="translate(739.3 647.6) scale(.9 1)">UNH</text>
<text transform="translate(666.8 653.6) scale(.9 1)">BA</text>
<text transform="translate(759.8 655.6) scale(.9 1)">AMAT</text>
<text transform="translate(557.8 659.0) scale(.9 1)">ETN</text>
<text transform="translate(645.8 658.0) scale(.9 1)">NTAP</text>
<text transform="translate(799.6 667.9) scale(.9 1)">MU</text>
<text transform="translate(830.1 668.8) scale(.9 1)">EBAY</text>
<text transform="translate(665.8 681.6) scale(.9 1)">UAL</text>
<text transform="translate(705.6 678.1) scale(.9 1)">QCOM</text>
<text transform="translate(602.8 694.4) scale(.9 1)">CMI</text>
<text transform="translate(644.8 696.4) scale(.9 1)">NSC</text>
<text transform="translate(566.6 701.9) scale(.9 1)">EMR</text>
<text transform="translate(686.0 703.9) scale(.9 1)">HPQ</text>
<text transform="translate(817.7 705.6) scale(.9 1)">MGM</text>
<text transform="translate(482.0 733.3) scale(.9 1)">DWDP</text>
<text transform="translate(596.1 748.8) scale(.9 1)">CAT</text>
<text transform="translate(757.6 752.6) scale(.9 1)">WDC</text>
<text transform="translate(689.1 771.9) scale(.9 1)">BB</text>
<text transform="translate(520.7 776.9) scale(.9 1)">X</text>
<text transform="translate(548.6 783.6) scale(.9 1)">VLO</text>
<text transform="translate(569.0 780.3) scale(.9 1)">BHP</text>
<text transform="translate(595.1 778.0) scale(.9 1)">RIO</text>
<text transform="translate(536.5 811.8) scale(.9 1)">FCX</text>
<text transform="translate(556.5 828.6) scale(.9 1)">ANDV</text>
<text transform="translate(591.7 842.3) scale(.9 1)">AA</text>
<text transform="translate(647.5 849.0) scale(.9 1)">VALE</text>
<text transform="translate(690.3 868.2) scale(.9 1)">FSLR</text>
<text transform="translate(542.9 892.6) scale(.9 1)">CLF</text>
<text transform="translate(465.0 610.9) scale(.9 1)">STI</text>
<text transform="translate(509.8 610.9) scale(.9 1)">AIG</text>
<text transform="translate(544.0 612.9) scale(.9 1)">BRK-B</text>
<text transform="translate(586.3 611.9) scale(.9 1)">DAL</text>
<text transform="translate(480.8 625.9) scale(.9 1)">BAC</text>
<text transform="translate(520.3 629.3) scale(.9 1)">SCHW</text>
<text transform="translate(446.5 636.8) scale(.9 1)">COF</text>
<text transform="translate(415.3 642.9) scale(.9 1)">FITB</text>
<text transform="translate(615.3 645.2) scale(.9 1)">BLK</text>
<text transform="translate(467.8 655.8) scale(.9 1)">F</text>
<text transform="translate(487.6 653.0) scale(.9 1)">DFS</text>
<text transform="translate(506.6 663.1) scale(.9 1)">PRU</text>
<text transform="translate(510.9 651.1) scale(.9 1)">USB</text>
<text transform="translate(567.8 667.9) scale(.9 1)">AXP</text>
<text transform="translate(422.6 672.9) scale(.9 1)">RF</text>
<text transform="translate(445.6 680.8) scale(.9 1)">MET</text>
<text transform="translate(586.9 680.6) scale(.9 1)">BK</text>
<text transform="translate(473.8 689.1) scale(.9 1)">BBT</text>
<text transform="translate(519.6 688.0) scale(.9 1)">MS</text>
<text transform="translate(494.8 700.6) scale(.9 1)">PNC</text>
<text transform="translate(540.3 699.6) scale(.9 1)">GS</text>
<text transform="translate(448.8 704.0) scale(.9 1)">WFC</text>
<text transform="translate(508.6 726.6) scale(.9 1)">JPM</text>
<text transform="translate(541.0 727.6) scale(.9 1)">C</text>
<text transform="translate(574.1 722.0) scale(.9 1)">UNP</text>
<text transform="translate(604.0 719.1) scale(.9 1)">STT</text>
<text transform="translate(562.6 746.9) scale(.9 1)">DE</text>
<text transform="translate(367.6 704.3) scale(.9 1)">CVX</text>
<text transform="translate(414.8 736.4) scale(.9 1)">XOM</text>
<text transform="translate(350.8 753.6) scale(.9 1)">SLB</text>
<text transform="translate(481.9 766.3) scale(.9 1)">PBR</text>
<text transform="translate(375.5 785.8) scale(.9 1)">COP</text>
<text transform="translate(422.0 784.8) scale(.9 1)">WMB</text>
<text transform="translate(313.0 819.9) scale(.9 1)">CHK</text>
<text transform="translate(373.3 815.9) scale(.9 1)">RIG</text>
<text transform="translate(435.3 818.2) scale(.9 1)">BP</text>
<text transform="translate(474.7 810.4) scale(.9 1)">MOS</text>
<text transform="translate(339.0 844.6) scale(.9 1)">APC</text>
<text transform="translate(502.0 836.3) scale(.9 1)">POT</text>
<text transform="translate(460.7 846.0) scale(.9 1)">NOV</text>
<text transform="translate(412.6 859.6) scale(.9 1)">MRO</text>
<text transform="translate(301.0 866.9) scale(.9 1)">OXY</text>
<text transform="translate(383.0 866.9) scale(.9 1)">EOG</text>
<text transform="translate(359.6 874.6) scale(.9 1)">DVN</text>
<text transform="translate(460.7 876.8) scale(.9 1)">HAL</text>
<text transform="translate(486.3 901.6) scale(.9 1)">CF</text>
<text transform="translate(368.0 908.6) scale(.9 1)">HES</text>
<text transform="translate(422.3 906.6) scale(.9 1)">APA</text>
<text transform="translate(400.6 945.6) scale(.9 1)">PXD</text>
<text transform="translate(445.6 949.9) scale(.9 1)">SWN</text>
</g>
</svg>
<div class="src">Source: BSIC</div>
</body></html>
